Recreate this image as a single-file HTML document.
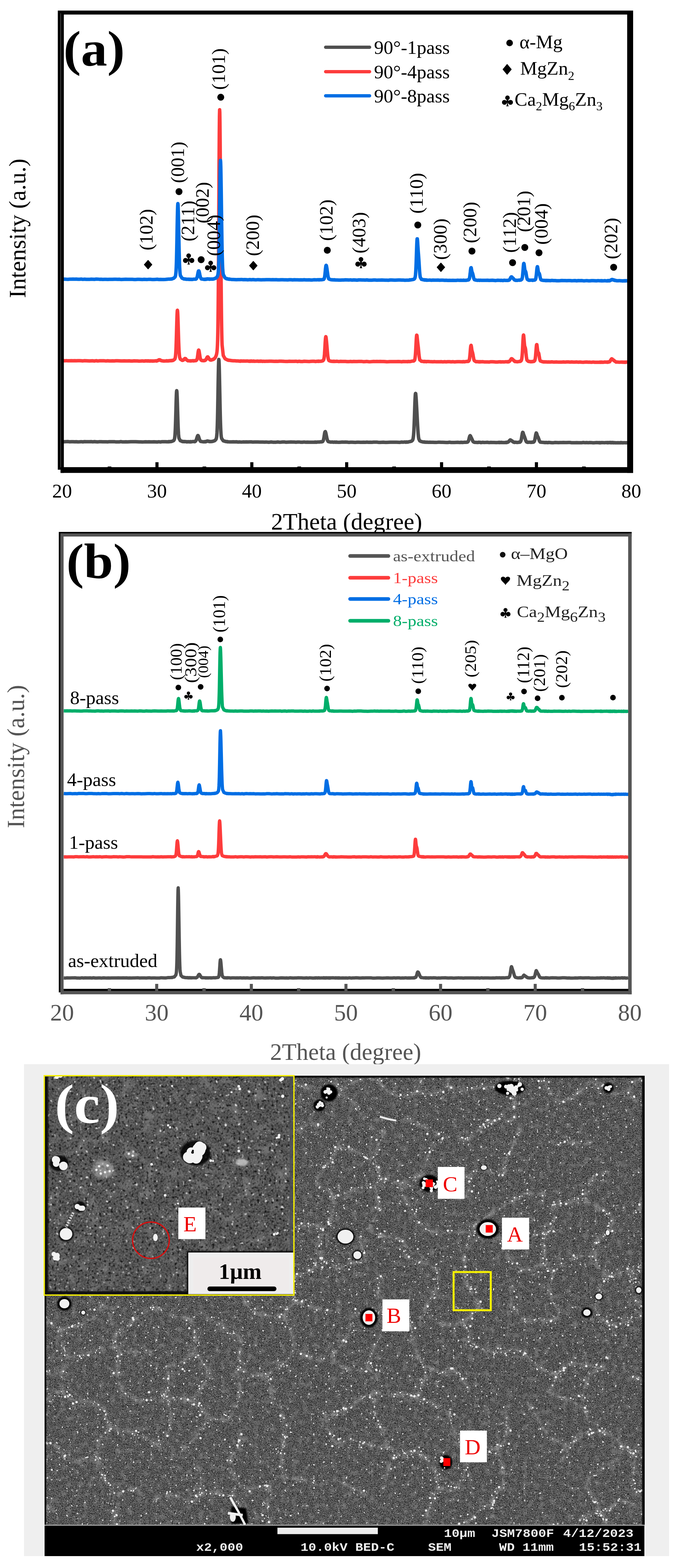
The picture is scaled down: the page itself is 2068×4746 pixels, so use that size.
<!DOCTYPE html><html><head><meta charset="utf-8"><style>html,body{margin:0;padding:0;background:#fff;}svg{display:block}</style></head><body><svg width="2068" height="4746" viewBox="0 0 2068 4746" font-family="Liberation Serif, serif">
<rect width="2068" height="4746" fill="#fff"/>
<path d="M186.0,1091.8 L191.0,1091.7 L196.0,1092.1 L201.0,1091.6 L206.0,1092.1 L211.0,1091.9 L216.0,1091.7 L221.0,1092.1 L226.0,1091.7 L231.0,1092.0 L236.0,1091.7 L241.0,1091.8 L246.0,1092.1 L251.0,1092.4 L256.0,1091.8 L261.0,1091.9 L266.0,1092.3 L271.0,1092.6 L276.0,1092.3 L281.0,1092.1 L286.0,1092.7 L291.0,1091.8 L296.0,1092.6 L301.0,1092.1 L306.0,1092.0 L311.0,1092.0 L316.0,1092.1 L321.0,1092.6 L326.0,1092.0 L331.0,1092.4 L336.0,1092.5 L341.0,1092.3 L346.0,1092.4 L351.0,1092.0 L356.0,1092.0 L361.0,1092.2 L366.0,1092.6 L371.0,1092.4 L376.0,1092.3 L381.0,1092.5 L386.0,1092.4 L391.0,1092.3 L396.0,1092.8 L401.0,1092.7 L406.0,1092.3 L411.0,1092.6 L416.0,1092.6 L421.0,1092.9 L426.0,1092.8 L431.0,1092.4 L436.0,1093.0 L441.0,1092.2 L446.0,1092.5 L447.0,1092.8 L448.0,1092.3 L449.0,1092.6 L450.0,1092.2 L451.0,1092.7 L452.0,1092.8 L453.0,1092.6 L454.0,1092.9 L455.0,1092.4 L456.0,1092.7 L457.0,1092.6 L458.0,1092.6 L459.0,1092.5 L460.0,1092.9 L461.0,1093.0 L462.0,1092.5 L466.0,1092.7 L471.0,1092.1 L472.5,1092.6 L473.0,1092.5 L473.5,1092.8 L474.0,1092.6 L474.5,1092.1 L475.0,1092.1 L475.5,1092.3 L476.0,1091.6 L476.5,1091.8 L477.0,1091.4 L477.5,1091.1 L478.0,1090.8 L478.5,1091.2 L479.0,1090.3 L479.5,1090.1 L480.0,1089.9 L480.5,1090.1 L481.0,1089.1 L481.5,1089.2 L482.0,1089.1 L482.5,1089.4 L483.0,1089.3 L483.5,1089.5 L484.0,1089.1 L484.5,1089.5 L485.0,1089.7 L485.5,1090.5 L486.0,1090.8 L486.5,1090.4 L487.0,1090.7 L487.5,1091.0 L488.0,1091.3 L488.5,1091.7 L489.0,1091.9 L489.5,1091.8 L490.0,1091.7 L490.5,1092.1 L491.0,1092.1 L491.5,1092.3 L496.0,1092.8 L501.0,1092.5 L502.0,1092.4 L503.0,1092.4 L504.0,1092.5 L505.0,1091.9 L506.0,1092.6 L507.0,1092.5 L508.0,1092.6 L509.0,1092.5 L510.0,1092.1 L510.6,1092.1 L511.0,1091.8 L511.6,1092.2 L512.0,1091.7 L512.6,1091.7 L513.0,1091.8 L513.6,1091.7 L514.0,1091.8 L514.6,1091.5 L515.0,1091.5 L515.6,1091.5 L516.0,1091.5 L516.6,1091.7 L517.0,1091.3 L517.6,1092.0 L518.0,1091.7 L518.6,1091.3 L519.0,1091.3 L519.6,1091.3 L520.0,1091.3 L520.6,1091.0 L521.0,1091.5 L524.0,1090.9 L525.0,1090.1 L526.0,1089.7 L527.0,1088.8 L528.0,1088.0 L529.0,1087.0 L529.1,1086.8 L529.6,1086.4 L530.0,1084.8 L530.1,1084.3 L530.6,1083.2 L531.0,1080.6 L531.1,1079.6 L531.6,1075.7 L532.0,1070.6 L532.1,1069.7 L532.6,1061.7 L533.0,1053.0 L533.1,1050.5 L533.6,1036.3 L534.0,1023.5 L534.1,1019.9 L534.6,1002.5 L535.0,987.4 L535.1,984.0 L535.6,966.3 L536.0,954.5 L536.1,952.5 L536.6,943.1 L537.0,939.4 L537.1,939.1 L537.6,941.0 L538.0,946.4 L538.1,947.8 L538.6,959.7 L539.0,971.1 L539.1,973.9 L539.6,990.3 L540.0,1004.0 L540.1,1007.3 L540.6,1023.7 L541.0,1035.7 L541.1,1038.0 L541.6,1050.9 L542.1,1061.1 L542.6,1069.0 L543.1,1074.4 L543.6,1078.7 L544.1,1081.8 L546.0,1087.1 L550.5,1089.9 L551.0,1090.4 L551.5,1090.7 L552.0,1090.7 L552.5,1090.4 L552.6,1090.6 L553.0,1090.7 L553.5,1090.0 L553.6,1090.5 L554.0,1090.6 L554.5,1090.3 L554.6,1090.2 L555.0,1089.8 L555.5,1089.2 L555.6,1089.6 L556.0,1088.9 L556.5,1088.8 L556.6,1088.9 L557.0,1088.0 L557.5,1087.4 L557.6,1087.8 L558.0,1087.1 L558.5,1086.1 L558.6,1086.0 L559.0,1085.6 L559.5,1085.9 L559.6,1085.8 L560.0,1085.0 L560.5,1085.5 L560.6,1085.7 L561.0,1085.4 L561.5,1085.4 L561.6,1085.6 L562.0,1085.5 L562.5,1085.8 L562.6,1086.8 L563.0,1086.9 L563.5,1087.4 L563.6,1087.9 L564.0,1087.9 L564.5,1088.9 L564.6,1089.0 L565.0,1088.9 L565.5,1089.4 L566.0,1089.9 L566.5,1090.3 L567.0,1090.9 L567.5,1090.9 L568.0,1091.3 L568.5,1091.2 L569.0,1092.1 L569.5,1091.7 L571.0,1092.0 L575.0,1092.3 L576.0,1092.6 L577.0,1092.1 L578.0,1092.6 L579.0,1092.2 L580.0,1092.3 L581.0,1092.2 L582.0,1091.8 L583.0,1092.1 L584.0,1091.9 L585.0,1091.7 L586.0,1092.4 L587.0,1091.8 L588.0,1092.0 L589.0,1092.1 L590.0,1091.9 L591.0,1091.6 L592.0,1091.6 L593.0,1091.4 L593.5,1091.5 L594.0,1090.7 L594.5,1090.8 L595.0,1090.1 L595.5,1089.5 L596.0,1089.0 L596.5,1087.5 L597.0,1085.7 L597.5,1083.6 L598.0,1080.7 L598.5,1076.8 L599.0,1073.2 L599.5,1069.1 L600.0,1065.5 L600.5,1062.6 L601.0,1060.4 L601.5,1059.6 L602.0,1059.9 L602.5,1061.8 L603.0,1063.9 L603.5,1067.0 L604.0,1070.4 L604.5,1073.3 L605.0,1076.9 L605.5,1080.4 L606.0,1083.0 L606.5,1084.6 L607.0,1086.3 L607.5,1088.0 L608.0,1088.7 L608.5,1089.6 L609.0,1089.9 L611.0,1091.3 L616.0,1091.7 L618.0,1091.7 L618.5,1091.0 L619.0,1091.5 L619.5,1091.3 L620.0,1090.7 L620.5,1091.2 L621.0,1091.1 L621.5,1090.1 L622.0,1090.4 L622.5,1089.5 L623.0,1089.0 L623.5,1088.8 L624.0,1087.9 L624.5,1086.4 L625.0,1085.7 L625.5,1084.8 L626.0,1083.6 L626.5,1082.5 L627.0,1081.8 L627.5,1081.5 L628.0,1080.4 L628.5,1080.6 L629.0,1080.5 L629.5,1080.3 L630.0,1081.0 L630.5,1081.9 L631.0,1082.5 L631.5,1083.0 L632.0,1084.7 L632.5,1085.4 L633.0,1086.4 L633.5,1086.4 L634.0,1087.2 L634.5,1087.6 L635.0,1088.7 L635.5,1088.6 L636.0,1088.8 L636.5,1089.3 L637.0,1089.8 L637.5,1089.8 L638.0,1089.4 L638.5,1089.3 L639.5,1089.9 L640.5,1089.4 L641.0,1089.4 L641.5,1088.8 L642.5,1088.5 L643.5,1088.7 L644.5,1088.1 L645.5,1087.3 L646.0,1087.8 L646.5,1087.3 L647.5,1086.8 L649.0,1085.0 L650.0,1084.7 L651.0,1082.8 L652.0,1082.0 L653.0,1079.8 L654.0,1077.4 L655.0,1074.7 L656.0,1071.0 L656.5,1067.7 L657.0,1064.1 L657.5,1059.7 L658.0,1052.7 L658.5,1042.8 L659.0,1028.3 L659.5,1006.9 L660.0,976.7 L660.5,934.9 L661.0,880.0 L661.5,811.8 L662.0,730.7 L662.5,642.1 L663.0,551.2 L663.5,467.2 L664.0,398.0 L664.5,351.9 L665.0,332.3 L665.5,340.8 L666.0,372.8 L666.5,424.1 L667.0,490.0 L667.5,564.8 L668.0,641.9 L668.5,719.3 L669.0,790.5 L669.5,854.2 L670.0,908.5 L670.5,952.1 L671.0,986.6 L671.5,1012.7 L672.0,1031.9 L672.5,1044.7 L676.0,1075.9 L681.0,1085.1 L681.5,1085.5 L682.5,1086.2 L683.5,1086.9 L684.5,1087.2 L685.5,1087.8 L686.0,1088.0 L686.5,1088.8 L687.5,1088.8 L688.5,1089.1 L689.5,1089.3 L690.5,1090.3 L691.0,1090.4 L691.5,1090.4 L692.5,1090.3 L696.0,1090.8 L701.0,1091.5 L706.0,1092.0 L711.0,1092.0 L716.0,1092.5 L721.0,1092.5 L725.0,1093.2 L726.0,1093.2 L727.0,1092.9 L728.0,1092.6 L729.0,1093.3 L730.0,1092.7 L731.0,1092.8 L732.0,1092.5 L733.0,1092.8 L734.0,1092.9 L735.0,1093.0 L736.0,1092.7 L737.0,1093.0 L738.0,1092.6 L739.0,1092.8 L740.0,1092.7 L741.0,1093.0 L746.0,1092.7 L751.0,1092.7 L751.5,1093.0 L752.0,1092.9 L752.5,1093.2 L753.0,1093.2 L753.5,1093.4 L754.0,1093.3 L754.5,1093.4 L755.0,1093.5 L755.5,1093.1 L756.0,1093.0 L756.5,1093.6 L757.0,1092.8 L757.5,1093.3 L758.0,1093.2 L758.5,1092.7 L759.0,1093.4 L759.5,1093.4 L760.0,1093.1 L760.5,1093.2 L761.0,1093.3 L761.5,1092.7 L762.0,1093.0 L762.5,1093.0 L763.0,1093.3 L763.5,1093.3 L764.0,1093.4 L764.5,1093.2 L765.0,1093.5 L765.5,1093.3 L766.0,1093.3 L766.5,1092.9 L767.0,1092.8 L767.5,1092.9 L768.0,1093.1 L768.5,1092.9 L769.0,1093.6 L769.5,1093.3 L770.0,1093.4 L770.5,1093.4 L771.0,1093.5 L776.0,1093.3 L781.0,1092.9 L782.0,1093.7 L783.0,1093.6 L784.0,1093.4 L785.0,1093.4 L786.0,1093.5 L787.0,1093.0 L788.0,1093.6 L789.0,1093.2 L790.0,1093.0 L791.0,1093.2 L792.0,1093.6 L793.0,1093.2 L794.0,1093.7 L795.0,1093.9 L796.0,1093.4 L797.0,1093.4 L798.0,1093.4 L799.0,1093.6 L801.0,1093.7 L806.0,1093.6 L811.0,1093.6 L816.0,1093.2 L821.0,1093.2 L826.0,1093.4 L831.0,1093.8 L836.0,1093.4 L841.0,1093.7 L846.0,1093.2 L851.0,1093.3 L856.0,1093.5 L861.0,1093.8 L866.0,1093.9 L871.0,1093.9 L876.0,1093.5 L881.0,1093.8 L886.0,1093.7 L891.0,1093.7 L896.0,1093.4 L901.0,1094.2 L906.0,1093.5 L911.0,1094.2 L916.0,1094.2 L921.0,1093.4 L926.0,1093.8 L931.0,1094.1 L936.0,1094.3 L941.0,1093.8 L946.0,1093.6 L951.0,1093.5 L956.0,1094.2 L960.0,1093.4 L961.0,1093.7 L962.0,1093.3 L963.0,1093.6 L964.0,1094.0 L965.0,1093.2 L966.0,1093.8 L967.0,1093.5 L971.0,1093.5 L976.0,1092.5 L977.0,1091.7 L977.5,1092.1 L978.0,1091.4 L978.5,1090.6 L979.0,1090.1 L979.5,1089.9 L980.0,1088.8 L980.5,1087.1 L981.0,1084.8 L981.5,1081.8 L982.0,1077.4 L982.5,1072.2 L983.0,1064.4 L983.5,1056.9 L984.0,1048.0 L984.5,1038.5 L985.0,1031.2 L985.5,1024.7 L986.0,1020.9 L986.5,1019.0 L987.0,1020.2 L987.5,1023.3 L988.0,1028.2 L988.5,1032.9 L989.0,1038.2 L989.5,1044.0 L990.0,1049.8 L990.5,1055.5 L991.0,1061.5 L991.5,1067.8 L992.0,1072.5 L992.5,1077.7 L993.0,1080.9 L993.5,1084.0 L994.0,1086.5 L994.5,1088.0 L995.0,1089.4 L996.0,1091.4 L1001.0,1093.3 L1005.0,1093.7 L1006.0,1093.6 L1007.0,1093.9 L1008.0,1094.0 L1009.0,1093.7 L1010.0,1093.9 L1011.0,1093.3 L1012.0,1094.0 L1013.0,1093.8 L1014.0,1094.1 L1015.0,1094.0 L1016.0,1093.7 L1021.0,1093.6 L1026.0,1094.4 L1031.0,1093.7 L1036.0,1094.1 L1041.0,1094.0 L1046.0,1094.0 L1051.0,1094.4 L1056.0,1094.6 L1061.0,1094.0 L1066.0,1094.4 L1071.0,1094.1 L1076.0,1094.3 L1081.0,1094.2 L1086.0,1094.0 L1091.0,1094.0 L1096.0,1094.1 L1101.0,1094.7 L1106.0,1094.4 L1111.0,1094.1 L1116.0,1094.8 L1121.0,1094.9 L1126.0,1094.4 L1131.0,1094.1 L1136.0,1094.2 L1141.0,1094.1 L1146.0,1094.3 L1151.0,1094.1 L1156.0,1094.3 L1161.0,1094.3 L1166.0,1094.6 L1171.0,1094.9 L1176.0,1094.8 L1181.0,1094.5 L1186.0,1094.5 L1191.0,1094.6 L1196.0,1094.5 L1201.0,1094.4 L1206.0,1094.2 L1211.0,1094.4 L1216.0,1095.0 L1221.0,1094.2 L1226.0,1094.5 L1231.0,1094.6 L1235.6,1094.7 L1236.0,1094.1 L1236.6,1094.2 L1237.6,1094.1 L1238.6,1094.2 L1239.6,1094.2 L1240.6,1094.6 L1241.0,1094.5 L1241.6,1094.5 L1246.0,1093.4 L1251.0,1092.6 L1252.1,1092.8 L1252.6,1092.8 L1253.1,1092.1 L1253.6,1091.9 L1254.1,1091.0 L1254.6,1090.8 L1255.1,1090.5 L1255.6,1089.2 L1256.0,1087.9 L1256.1,1087.6 L1256.6,1084.5 L1257.1,1080.7 L1257.6,1075.8 L1258.1,1069.7 L1258.6,1062.0 L1259.1,1053.0 L1259.6,1043.0 L1260.1,1033.3 L1260.6,1024.9 L1261.0,1019.3 L1261.1,1018.3 L1261.6,1014.4 L1262.1,1014.7 L1262.6,1016.5 L1263.1,1021.3 L1263.6,1026.2 L1264.1,1031.1 L1264.6,1035.8 L1265.1,1040.2 L1265.6,1044.6 L1266.0,1048.0 L1266.1,1048.3 L1266.6,1052.7 L1267.1,1058.0 L1267.6,1063.3 L1268.1,1068.4 L1268.6,1073.3 L1269.1,1078.1 L1269.6,1081.4 L1270.1,1084.7 L1270.6,1087.2 L1271.0,1089.1 L1271.1,1089.1 L1276.0,1093.6 L1281.0,1094.0 L1281.6,1093.9 L1282.6,1094.0 L1283.6,1094.7 L1284.6,1094.5 L1285.6,1094.2 L1286.0,1093.9 L1286.6,1094.4 L1287.6,1094.6 L1288.6,1094.4 L1289.6,1094.3 L1290.6,1094.7 L1291.0,1094.9 L1291.6,1094.3 L1296.0,1094.2 L1301.0,1094.6 L1306.0,1094.7 L1311.0,1095.0 L1316.0,1094.6 L1321.0,1095.1 L1326.0,1095.1 L1331.0,1094.9 L1336.0,1094.7 L1341.0,1095.4 L1346.0,1094.8 L1351.0,1095.3 L1356.0,1094.7 L1361.0,1094.7 L1366.0,1095.2 L1371.0,1094.8 L1376.0,1095.4 L1381.0,1095.0 L1386.0,1094.7 L1391.0,1094.8 L1396.0,1094.9 L1400.0,1095.1 L1401.0,1095.3 L1402.0,1094.6 L1403.0,1094.8 L1404.0,1094.6 L1406.0,1095.2 L1411.0,1094.3 L1415.5,1093.7 L1416.0,1093.6 L1416.5,1093.7 L1417.0,1094.1 L1417.5,1093.9 L1418.0,1093.6 L1418.5,1093.5 L1419.0,1093.1 L1419.5,1092.1 L1420.0,1091.2 L1420.5,1090.8 L1421.0,1089.0 L1421.5,1086.1 L1422.0,1083.6 L1422.5,1079.2 L1423.0,1074.2 L1423.5,1068.4 L1424.0,1062.0 L1424.5,1055.8 L1425.0,1050.8 L1425.5,1047.1 L1426.0,1045.8 L1426.5,1045.2 L1427.0,1047.9 L1427.5,1050.4 L1428.0,1054.1 L1428.5,1058.0 L1429.0,1061.0 L1429.5,1062.9 L1430.0,1064.4 L1430.5,1066.3 L1431.0,1067.9 L1431.5,1070.5 L1432.0,1072.4 L1432.5,1075.5 L1433.0,1079.1 L1433.5,1081.3 L1434.0,1084.5 L1434.5,1087.2 L1435.0,1089.1 L1435.5,1090.0 L1436.0,1091.1 L1436.5,1091.9 L1441.0,1094.7 L1446.0,1094.6 L1448.0,1095.1 L1449.0,1095.3 L1450.0,1094.8 L1451.0,1094.8 L1452.0,1095.4 L1453.0,1095.1 L1454.0,1094.8 L1455.0,1095.3 L1456.0,1094.9 L1457.0,1094.9 L1461.0,1094.7 L1466.0,1095.4 L1471.0,1095.6 L1476.0,1095.4 L1481.0,1095.7 L1486.0,1094.9 L1491.0,1095.1 L1496.0,1095.3 L1501.0,1095.7 L1506.0,1095.8 L1511.0,1095.2 L1512.5,1095.1 L1513.5,1095.3 L1514.5,1095.3 L1515.5,1095.7 L1516.0,1095.1 L1516.5,1095.6 L1517.5,1095.6 L1518.5,1095.6 L1519.5,1095.6 L1520.5,1095.4 L1521.0,1095.2 L1521.5,1095.2 L1522.5,1095.2 L1526.0,1095.6 L1531.0,1094.9 L1536.0,1094.9 L1536.5,1095.3 L1537.0,1094.9 L1537.5,1094.7 L1538.0,1094.6 L1538.5,1095.0 L1539.0,1094.8 L1539.5,1095.3 L1540.0,1095.1 L1540.5,1095.1 L1541.0,1094.3 L1541.5,1093.9 L1542.0,1093.7 L1542.5,1093.7 L1543.0,1093.5 L1543.5,1092.8 L1544.0,1092.0 L1544.5,1091.4 L1545.0,1090.9 L1545.5,1090.1 L1546.0,1089.3 L1546.5,1088.6 L1547.0,1087.7 L1547.5,1086.6 L1548.0,1086.7 L1548.5,1085.9 L1549.0,1086.1 L1549.5,1085.9 L1550.0,1086.5 L1550.5,1086.3 L1551.0,1086.7 L1551.5,1087.1 L1552.0,1087.5 L1552.5,1088.6 L1553.0,1088.8 L1553.5,1089.0 L1554.0,1089.5 L1554.5,1090.5 L1555.0,1090.5 L1555.5,1090.8 L1556.0,1091.8 L1556.5,1092.1 L1557.0,1092.9 L1557.5,1092.5 L1558.0,1093.2 L1558.5,1093.8 L1559.0,1094.1 L1559.5,1094.4 L1560.0,1093.8 L1560.5,1094.2 L1561.0,1094.2 L1562.0,1094.4 L1566.0,1095.1 L1571.0,1094.4 L1574.0,1094.1 L1574.5,1093.5 L1575.0,1093.8 L1575.5,1093.2 L1576.0,1092.8 L1576.5,1093.0 L1577.0,1092.9 L1577.5,1091.7 L1578.0,1091.6 L1578.5,1090.8 L1579.0,1089.2 L1579.5,1087.5 L1580.0,1084.7 L1580.5,1080.9 L1581.0,1075.8 L1581.5,1069.4 L1582.0,1061.1 L1582.5,1051.2 L1583.0,1040.8 L1583.5,1031.2 L1584.0,1023.0 L1584.5,1016.6 L1585.0,1014.0 L1585.5,1014.8 L1586.0,1019.2 L1586.5,1024.9 L1587.0,1031.3 L1587.5,1037.7 L1588.0,1043.2 L1588.5,1047.1 L1589.0,1049.4 L1589.5,1050.2 L1590.0,1051.3 L1590.5,1053.3 L1591.0,1055.4 L1591.5,1058.7 L1592.0,1063.1 L1592.5,1068.5 L1593.0,1072.8 L1593.5,1077.6 L1594.0,1081.5 L1594.5,1084.8 L1595.0,1087.7 L1595.5,1089.8 L1596.0,1090.5 L1599.0,1093.2 L1600.0,1094.0 L1601.0,1093.7 L1602.0,1093.7 L1606.0,1094.9 L1608.0,1094.5 L1609.0,1094.9 L1610.0,1094.5 L1611.0,1094.9 L1612.0,1094.4 L1613.0,1094.1 L1614.0,1093.8 L1614.5,1094.2 L1615.0,1094.2 L1615.5,1094.3 L1616.0,1093.5 L1616.5,1093.8 L1617.0,1093.4 L1617.5,1093.2 L1618.0,1092.5 L1618.5,1092.1 L1619.0,1091.5 L1619.5,1090.7 L1620.0,1088.3 L1620.5,1086.2 L1621.0,1083.1 L1621.5,1078.9 L1622.0,1072.8 L1622.5,1066.5 L1623.0,1060.6 L1623.5,1054.2 L1624.0,1048.2 L1624.5,1044.0 L1625.0,1043.1 L1625.5,1043.2 L1626.0,1046.3 L1626.5,1050.1 L1627.0,1054.8 L1627.5,1058.6 L1628.0,1062.6 L1628.5,1064.6 L1629.0,1066.2 L1629.5,1067.3 L1630.0,1067.7 L1630.5,1067.8 L1631.0,1069.0 L1631.5,1071.2 L1632.0,1073.9 L1632.5,1076.8 L1633.0,1079.8 L1633.5,1082.9 L1634.0,1086.1 L1634.5,1088.5 L1635.0,1089.6 L1635.5,1091.4 L1636.0,1092.6 L1641.0,1094.4 L1646.0,1095.5 L1648.0,1095.0 L1649.0,1095.5 L1650.0,1095.5 L1651.0,1095.6 L1652.0,1095.3 L1653.0,1095.4 L1654.0,1095.6 L1655.0,1095.5 L1656.0,1095.7 L1661.0,1095.6 L1666.0,1095.7 L1671.0,1095.3 L1676.0,1095.9 L1681.0,1095.8 L1686.0,1095.6 L1691.0,1096.1 L1696.0,1096.1 L1701.0,1095.9 L1706.0,1095.6 L1711.0,1095.9 L1716.0,1095.6 L1721.0,1095.6 L1726.0,1095.9 L1731.0,1095.6 L1736.0,1096.0 L1741.0,1096.0 L1746.0,1095.6 L1751.0,1096.2 L1756.0,1095.7 L1761.0,1096.3 L1766.0,1096.4 L1771.0,1096.1 L1776.0,1095.7 L1781.0,1096.2 L1786.0,1096.1 L1791.0,1096.6 L1796.0,1095.9 L1801.0,1096.5 L1806.0,1096.6 L1811.0,1096.4 L1816.0,1096.5 L1817.0,1095.9 L1818.0,1096.6 L1819.0,1096.2 L1820.0,1096.6 L1821.0,1096.6 L1822.0,1095.9 L1823.0,1096.5 L1826.0,1096.6 L1831.0,1095.8 L1836.0,1096.0 L1838.0,1096.3 L1838.5,1095.8 L1839.0,1096.4 L1839.5,1095.8 L1840.0,1096.3 L1840.5,1095.7 L1841.0,1096.0 L1841.5,1096.3 L1842.0,1095.6 L1842.5,1095.6 L1843.0,1095.8 L1843.5,1095.5 L1844.0,1095.1 L1844.5,1095.1 L1845.0,1094.8 L1845.5,1095.3 L1846.0,1094.6 L1846.5,1094.4 L1847.0,1093.1 L1847.5,1093.0 L1848.0,1091.6 L1848.5,1091.2 L1849.0,1090.4 L1849.5,1089.2 L1850.0,1088.8 L1850.5,1087.7 L1851.0,1087.1 L1851.5,1086.9 L1852.0,1085.9 L1852.5,1086.7 L1853.0,1086.5 L1853.5,1086.7 L1854.0,1087.5 L1854.5,1087.5 L1855.0,1088.7 L1855.5,1088.8 L1856.0,1089.0 L1856.5,1089.8 L1857.0,1089.8 L1857.5,1089.9 L1858.0,1090.6 L1858.5,1090.3 L1859.0,1091.3 L1859.5,1091.2 L1860.0,1091.9 L1860.5,1092.7 L1861.0,1092.8 L1861.5,1093.3 L1862.0,1093.5 L1862.5,1093.6 L1863.0,1094.0 L1863.5,1094.5 L1864.0,1095.2 L1864.5,1095.3 L1865.0,1095.5 L1865.5,1096.0 L1866.0,1095.5 L1871.0,1095.9 L1876.0,1096.4 L1881.0,1095.9 L1882.0,1095.9 L1883.0,1096.2 L1884.0,1096.0 L1885.0,1096.2 L1886.0,1096.1 L1887.0,1096.5 L1888.0,1096.5 L1889.0,1096.1 L1890.0,1096.5 L1891.0,1096.4 L1892.0,1096.1 L1893.0,1096.8 L1894.0,1096.2 L1896.0,1096.1 L1901.0,1096.1 L1903.0,1096.6" fill="none" stroke="#fd3c3c" stroke-width="10.5" stroke-linejoin="round" stroke-linecap="butt"/>
<path d="M186.0,1337.3 L191.0,1337.3 L196.0,1336.9 L201.0,1336.8 L206.0,1336.6 L211.0,1337.2 L216.0,1337.1 L221.0,1336.9 L226.0,1337.2 L231.0,1337.0 L236.0,1337.5 L241.0,1337.3 L246.0,1336.9 L251.0,1337.5 L256.0,1336.7 L261.0,1337.1 L266.0,1337.0 L271.0,1336.9 L276.0,1336.7 L281.0,1337.4 L286.0,1336.7 L291.0,1337.2 L296.0,1337.6 L301.0,1336.9 L306.0,1336.9 L311.0,1337.3 L316.0,1337.2 L321.0,1337.3 L326.0,1337.5 L331.0,1336.9 L336.0,1337.1 L341.0,1337.1 L346.0,1336.9 L351.0,1337.6 L356.0,1337.5 L361.0,1337.5 L366.0,1336.8 L371.0,1337.6 L376.0,1337.5 L381.0,1337.3 L386.0,1337.5 L391.0,1337.3 L396.0,1337.1 L401.0,1337.0 L406.0,1337.1 L411.0,1336.9 L416.0,1337.2 L421.0,1337.6 L426.0,1337.5 L431.0,1337.7 L436.0,1337.6 L441.0,1337.2 L446.0,1337.4 L451.0,1337.3 L456.0,1337.6 L461.0,1337.4 L466.0,1337.2 L471.0,1337.5 L476.0,1337.8 L481.0,1337.1 L486.0,1337.7 L491.0,1336.9 L496.0,1337.0 L501.0,1336.9 L506.0,1337.3 L508.5,1337.3 L509.5,1337.1 L510.5,1336.7 L511.0,1337.2 L511.5,1336.6 L512.5,1336.5 L513.5,1337.0 L514.5,1336.7 L515.5,1336.7 L516.0,1336.6 L516.5,1336.8 L517.5,1336.2 L518.5,1336.4 L521.0,1335.7 L526.0,1333.4 L527.0,1331.7 L527.5,1331.0 L528.0,1329.6 L528.5,1327.4 L529.0,1324.4 L529.5,1320.5 L530.0,1313.9 L530.5,1306.2 L531.0,1294.4 L531.5,1280.4 L532.0,1264.0 L532.5,1246.6 L533.0,1227.4 L533.5,1209.9 L534.0,1195.4 L534.5,1185.8 L535.0,1182.4 L535.5,1184.4 L536.0,1191.8 L536.5,1203.5 L537.0,1217.8 L537.5,1234.8 L538.0,1251.6 L538.5,1268.2 L539.0,1282.8 L539.5,1295.4 L540.0,1304.9 L540.5,1313.6 L541.0,1319.7 L541.5,1324.1 L542.0,1326.5 L546.0,1333.9 L550.5,1335.5 L551.0,1335.5 L551.5,1336.3 L552.5,1336.5 L553.5,1336.4 L554.5,1336.7 L555.5,1336.7 L556.0,1336.4 L556.5,1336.3 L557.5,1336.3 L558.5,1337.0 L559.5,1336.6 L560.5,1336.7 L561.0,1336.8 L561.5,1336.5 L562.5,1336.7 L562.6,1336.8 L563.6,1337.2 L564.6,1336.9 L565.6,1336.9 L566.0,1337.5 L566.6,1337.1 L567.6,1337.4 L568.6,1337.2 L569.6,1336.7 L570.6,1337.1 L571.0,1337.1 L571.6,1337.4 L572.6,1337.0 L573.6,1337.4 L574.6,1337.2 L575.6,1336.9 L576.0,1337.5 L576.6,1336.8 L577.6,1337.5 L581.0,1336.8 L586.0,1336.5 L588.6,1336.4 L589.1,1336.9 L589.6,1336.9 L590.1,1335.9 L590.6,1336.1 L591.0,1335.9 L591.1,1336.2 L591.6,1335.3 L592.0,1335.2 L592.1,1334.9 L592.6,1334.8 L593.0,1333.7 L593.1,1334.1 L593.6,1332.6 L594.0,1331.6 L594.1,1331.8 L594.6,1330.3 L595.0,1328.8 L595.1,1329.0 L595.6,1326.9 L596.0,1326.2 L596.1,1325.7 L596.6,1324.1 L597.0,1322.7 L597.1,1322.2 L597.6,1320.8 L598.0,1319.9 L598.1,1320.1 L598.6,1318.6 L599.0,1319.0 L599.1,1318.2 L599.6,1318.4 L600.0,1318.8 L600.1,1319.5 L600.6,1320.0 L601.0,1320.7 L601.1,1321.4 L601.6,1322.3 L602.0,1323.7 L602.1,1324.1 L602.6,1325.9 L603.0,1327.2 L603.1,1327.4 L603.6,1328.7 L604.0,1329.8 L604.1,1329.9 L604.6,1331.8 L605.0,1332.5 L605.1,1332.8 L605.6,1333.2 L606.0,1334.1 L606.1,1334.5 L606.6,1335.0 L607.0,1334.9 L607.1,1335.3 L607.6,1336.1 L608.1,1335.8 L608.6,1336.0 L611.0,1336.6 L616.0,1337.2 L618.0,1337.3 L618.5,1336.7 L619.0,1336.7 L619.5,1336.8 L619.6,1336.8 L620.0,1337.0 L620.5,1336.7 L620.6,1336.8 L621.0,1336.6 L621.5,1337.3 L621.6,1337.1 L622.0,1336.5 L622.5,1337.2 L622.6,1336.4 L623.0,1336.5 L623.5,1337.0 L623.6,1336.8 L624.0,1336.6 L624.5,1336.2 L624.6,1335.9 L625.0,1336.2 L625.5,1335.5 L625.6,1335.6 L626.0,1335.6 L626.5,1335.1 L626.6,1335.4 L627.0,1335.6 L627.5,1335.4 L627.6,1335.2 L628.0,1335.3 L628.5,1335.1 L628.6,1334.8 L629.0,1335.2 L629.5,1335.1 L629.6,1335.4 L630.0,1335.6 L630.5,1335.2 L630.6,1335.4 L631.0,1335.7 L631.5,1335.5 L631.6,1335.4 L632.0,1335.9 L632.5,1336.2 L632.6,1336.1 L633.0,1336.2 L633.5,1336.4 L633.6,1336.3 L634.0,1336.3 L634.5,1336.3 L634.6,1336.2 L635.0,1336.5 L635.5,1336.1 L635.6,1336.4 L636.0,1336.7 L636.5,1336.7 L636.6,1336.6 L637.0,1336.3 L637.5,1336.4 L638.0,1336.4 L639.0,1336.5 L640.0,1336.2 L641.0,1336.4 L642.0,1336.5 L643.0,1335.7 L644.0,1335.9 L645.0,1335.8 L646.0,1335.2 L649.0,1334.2 L650.0,1334.1 L651.0,1332.6 L652.0,1332.2 L653.0,1330.8 L654.0,1329.7 L654.5,1328.7 L655.0,1326.8 L655.5,1324.2 L656.0,1321.4 L656.5,1316.6 L657.0,1309.8 L657.5,1299.7 L658.0,1286.1 L658.5,1268.2 L659.0,1245.5 L659.5,1218.9 L660.0,1190.3 L660.5,1159.9 L661.0,1132.7 L661.5,1109.8 L662.0,1095.0 L662.5,1088.0 L663.0,1091.4 L663.5,1101.4 L664.0,1118.1 L664.5,1139.9 L665.0,1164.4 L665.5,1189.7 L666.0,1215.2 L666.5,1238.7 L667.0,1259.8 L667.5,1277.2 L668.0,1291.5 L668.5,1302.7 L669.0,1311.6 L669.5,1318.0 L670.0,1322.0 L671.0,1327.0 L676.0,1334.2 L679.0,1335.1 L680.0,1335.3 L681.0,1335.4 L682.0,1336.2 L683.0,1336.4 L684.0,1336.4 L685.0,1336.4 L686.0,1336.6 L687.0,1336.4 L688.0,1337.2 L689.0,1336.7 L690.0,1337.0 L691.0,1337.3 L696.0,1337.5 L701.0,1337.4 L706.0,1337.3 L711.0,1337.6 L716.0,1337.3 L721.0,1338.0 L726.0,1337.6 L731.0,1338.1 L736.0,1337.6 L741.0,1337.7 L746.0,1337.6 L751.0,1337.8 L756.0,1337.6 L761.0,1337.5 L766.0,1338.1 L771.0,1337.7 L776.0,1337.7 L781.0,1337.8 L786.0,1338.0 L791.0,1337.9 L796.0,1338.1 L801.0,1338.2 L806.0,1337.9 L811.0,1338.4 L816.0,1338.4 L821.0,1337.7 L826.0,1338.4 L831.0,1338.5 L836.0,1338.4 L841.0,1337.8 L846.0,1338.4 L851.0,1338.2 L856.0,1337.7 L861.0,1337.7 L866.0,1338.6 L871.0,1338.3 L876.0,1337.9 L881.0,1337.8 L886.0,1337.9 L891.0,1338.0 L896.0,1338.5 L901.0,1338.1 L906.0,1337.9 L911.0,1338.6 L916.0,1338.5 L921.0,1337.9 L926.0,1338.6 L931.0,1338.3 L936.0,1338.5 L941.0,1338.4 L946.0,1338.6 L951.0,1338.5 L953.0,1338.5 L954.0,1337.9 L955.0,1338.4 L956.0,1338.2 L957.0,1338.4 L958.0,1338.1 L959.0,1338.5 L960.0,1338.2 L961.0,1337.9 L962.0,1337.9 L963.0,1337.8 L966.0,1338.0 L971.0,1337.3 L974.0,1337.4 L974.5,1337.0 L975.0,1337.2 L975.5,1337.0 L976.0,1336.8 L976.5,1336.8 L977.0,1335.7 L977.5,1335.9 L978.0,1334.8 L978.5,1333.9 L979.0,1332.6 L979.5,1331.0 L980.0,1328.4 L980.5,1325.9 L981.0,1323.5 L981.5,1319.6 L982.0,1316.8 L982.5,1313.7 L983.0,1310.3 L983.5,1308.6 L984.0,1307.2 L984.5,1306.7 L985.0,1306.2 L985.5,1307.6 L986.0,1308.6 L986.5,1310.4 L987.0,1312.9 L987.5,1314.5 L988.0,1317.7 L988.5,1320.2 L989.0,1322.4 L989.5,1325.3 L990.0,1327.1 L990.5,1329.2 L991.0,1331.0 L991.5,1332.7 L992.0,1333.5 L992.5,1334.6 L993.0,1335.4 L993.5,1336.1 L994.0,1336.7 L996.0,1337.1 L1001.0,1338.2 L1005.0,1338.0 L1006.0,1338.1 L1007.0,1337.9 L1008.0,1338.2 L1009.0,1338.6 L1010.0,1338.4 L1011.0,1338.5 L1012.0,1338.1 L1013.0,1338.1 L1014.0,1338.1 L1015.0,1338.4 L1016.0,1338.4 L1017.0,1338.6 L1018.0,1337.9 L1021.0,1338.5 L1026.0,1338.7 L1031.0,1338.4 L1036.0,1338.0 L1041.0,1338.3 L1046.0,1338.0 L1051.0,1338.2 L1056.0,1338.9 L1061.0,1338.6 L1066.0,1338.6 L1071.0,1338.8 L1076.0,1338.9 L1081.0,1338.6 L1086.0,1338.6 L1091.0,1338.7 L1096.0,1338.7 L1101.0,1338.6 L1106.0,1338.7 L1111.0,1338.3 L1116.0,1338.7 L1121.0,1338.5 L1126.0,1338.8 L1131.0,1338.2 L1136.0,1338.3 L1141.0,1338.2 L1146.0,1338.9 L1151.0,1339.0 L1156.0,1338.8 L1161.0,1338.5 L1166.0,1338.9 L1171.0,1338.9 L1176.0,1338.7 L1181.0,1338.4 L1186.0,1338.4 L1191.0,1338.5 L1196.0,1338.4 L1201.0,1338.5 L1206.0,1338.7 L1211.0,1338.9 L1216.0,1338.0 L1221.0,1338.4 L1226.0,1337.8 L1226.7,1337.9 L1227.7,1338.5 L1228.7,1338.2 L1229.7,1338.5 L1230.7,1338.0 L1231.0,1337.6 L1231.7,1337.9 L1232.7,1338.0 L1233.7,1338.2 L1234.7,1338.2 L1235.7,1337.7 L1236.0,1337.6 L1241.0,1336.6 L1246.0,1335.4 L1247.2,1334.3 L1247.7,1333.8 L1248.2,1333.2 L1248.7,1332.6 L1249.2,1332.5 L1249.7,1331.0 L1250.2,1330.3 L1250.7,1327.6 L1251.0,1326.9 L1251.2,1325.0 L1251.7,1321.2 L1252.2,1316.9 L1252.7,1309.9 L1253.2,1301.9 L1253.7,1291.0 L1254.2,1278.6 L1254.7,1265.4 L1255.2,1250.4 L1255.7,1235.4 L1256.0,1226.5 L1256.2,1220.4 L1256.7,1208.4 L1257.2,1198.8 L1257.7,1192.5 L1258.2,1190.7 L1258.7,1191.3 L1259.2,1196.2 L1259.7,1202.3 L1260.2,1209.4 L1260.7,1217.8 L1261.0,1223.7 L1261.2,1227.4 L1261.7,1235.7 L1262.2,1245.1 L1262.7,1255.0 L1263.2,1264.0 L1263.7,1274.2 L1264.2,1283.2 L1264.7,1291.7 L1265.2,1300.1 L1265.7,1307.5 L1266.0,1311.2 L1266.2,1313.8 L1266.7,1318.4 L1267.2,1323.1 L1267.7,1326.0 L1268.2,1328.7 L1271.0,1334.5 L1276.0,1336.6 L1279.7,1337.3 L1280.7,1337.8 L1281.0,1338.0 L1281.7,1337.9 L1282.7,1337.8 L1283.7,1337.7 L1284.7,1337.6 L1285.7,1338.4 L1286.0,1338.2 L1286.7,1338.4 L1287.7,1338.0 L1288.7,1338.3 L1289.7,1338.7 L1290.7,1338.6 L1291.0,1338.4 L1291.7,1338.2 L1292.7,1338.3 L1296.0,1338.8 L1301.0,1338.5 L1306.0,1338.8 L1311.0,1338.8 L1316.0,1339.1 L1321.0,1339.1 L1326.0,1338.6 L1331.0,1338.4 L1336.0,1338.7 L1341.0,1338.8 L1346.0,1339.0 L1351.0,1339.2 L1356.0,1339.3 L1361.0,1338.5 L1366.0,1339.3 L1371.0,1339.3 L1376.0,1339.3 L1381.0,1339.1 L1386.0,1338.8 L1391.0,1339.3 L1392.0,1339.3 L1393.0,1339.1 L1394.0,1339.3 L1395.0,1338.8 L1396.0,1338.6 L1397.0,1339.0 L1398.0,1339.2 L1399.0,1338.7 L1400.0,1339.2 L1401.0,1339.3 L1406.0,1338.6 L1411.0,1338.7 L1412.0,1338.7 L1412.5,1338.5 L1413.0,1338.2 L1413.5,1338.2 L1414.0,1338.5 L1414.5,1338.5 L1415.0,1338.0 L1415.5,1337.5 L1416.0,1337.9 L1416.5,1337.5 L1417.0,1336.5 L1417.5,1336.1 L1418.0,1335.4 L1418.5,1334.2 L1419.0,1332.5 L1419.5,1330.7 L1420.0,1328.9 L1420.5,1326.4 L1421.0,1324.4 L1421.5,1322.4 L1422.0,1321.2 L1422.5,1319.6 L1423.0,1319.1 L1423.5,1318.7 L1424.0,1319.1 L1424.5,1319.5 L1425.0,1320.4 L1425.5,1322.3 L1426.0,1322.8 L1426.5,1323.7 L1427.0,1325.2 L1427.5,1326.3 L1428.0,1326.7 L1428.5,1328.2 L1429.0,1329.1 L1429.5,1330.4 L1430.0,1331.1 L1430.5,1332.3 L1431.0,1334.2 L1431.5,1335.1 L1432.0,1335.6 L1432.5,1336.4 L1433.0,1336.7 L1433.5,1337.6 L1434.0,1337.6 L1436.0,1338.8 L1441.0,1339.1 L1446.0,1339.3 L1447.0,1339.4 L1448.0,1338.8 L1449.0,1338.6 L1450.0,1338.8 L1451.0,1338.8 L1452.0,1338.7 L1453.0,1338.7 L1454.0,1339.1 L1455.0,1339.4 L1456.0,1339.1 L1457.0,1339.5 L1458.0,1339.5 L1461.0,1338.7 L1466.0,1339.2 L1471.0,1339.1 L1476.0,1338.8 L1481.0,1339.6 L1486.0,1339.0 L1491.0,1339.3 L1496.0,1339.3 L1501.0,1339.6 L1506.0,1339.4 L1508.6,1339.1 L1509.6,1339.2 L1510.6,1338.9 L1511.0,1339.6 L1511.6,1339.7 L1512.6,1339.0 L1513.6,1338.8 L1514.6,1339.0 L1515.6,1339.1 L1516.0,1339.6 L1516.6,1339.6 L1517.6,1339.5 L1518.6,1338.8 L1521.0,1339.5 L1526.0,1339.4 L1531.0,1339.2 L1532.1,1339.5 L1532.6,1338.6 L1533.1,1338.7 L1533.6,1339.2 L1534.1,1339.4 L1534.6,1339.1 L1535.1,1338.7 L1535.6,1338.9 L1536.0,1339.0 L1536.1,1338.4 L1536.6,1338.5 L1537.1,1338.4 L1537.6,1338.1 L1538.1,1338.2 L1538.6,1337.7 L1539.1,1337.4 L1539.6,1336.9 L1540.1,1336.9 L1540.6,1335.8 L1541.0,1335.9 L1541.1,1335.3 L1541.6,1334.5 L1542.1,1334.7 L1542.6,1333.4 L1543.1,1333.4 L1543.6,1332.9 L1544.1,1332.5 L1544.6,1331.6 L1545.1,1331.8 L1545.6,1331.5 L1546.0,1332.4 L1546.1,1332.3 L1546.6,1332.4 L1547.1,1332.5 L1547.6,1332.8 L1548.1,1333.6 L1548.6,1333.6 L1549.1,1334.1 L1549.6,1334.0 L1550.1,1334.5 L1550.6,1334.7 L1551.0,1335.6 L1551.1,1335.5 L1551.6,1335.5 L1552.1,1336.6 L1552.6,1336.4 L1553.1,1336.9 L1553.6,1337.0 L1554.1,1337.4 L1554.6,1338.2 L1555.1,1338.0 L1555.6,1338.0 L1556.0,1338.4 L1556.1,1338.3 L1556.6,1338.9 L1557.1,1338.3 L1557.6,1339.2 L1561.0,1338.5 L1566.0,1339.2 L1570.6,1338.7 L1571.0,1338.3 L1571.1,1338.5 L1571.6,1338.3 L1572.1,1338.2 L1572.6,1338.0 L1573.1,1338.1 L1573.6,1338.5 L1574.1,1338.4 L1574.6,1338.1 L1575.1,1337.0 L1575.6,1336.8 L1576.0,1336.9 L1576.1,1336.0 L1576.6,1335.8 L1577.1,1334.3 L1577.6,1333.5 L1578.1,1330.8 L1578.6,1329.3 L1579.1,1326.2 L1579.6,1323.1 L1580.1,1319.8 L1580.6,1317.3 L1581.0,1314.7 L1581.1,1313.8 L1581.6,1311.5 L1582.1,1310.1 L1582.6,1308.5 L1583.1,1308.8 L1583.6,1309.0 L1584.1,1310.4 L1584.6,1312.5 L1585.1,1314.2 L1585.6,1315.5 L1586.0,1316.6 L1586.1,1316.9 L1586.6,1318.7 L1587.1,1319.8 L1587.6,1320.7 L1588.1,1321.7 L1588.6,1323.3 L1589.1,1324.8 L1589.6,1326.4 L1590.1,1327.8 L1590.6,1329.2 L1591.0,1330.3 L1591.1,1331.2 L1591.6,1332.4 L1592.1,1334.0 L1592.6,1334.5 L1593.1,1336.1 L1593.6,1336.4 L1594.1,1337.4 L1594.6,1337.8 L1595.6,1338.0 L1596.0,1337.7 L1596.6,1338.6 L1597.6,1338.4 L1598.6,1338.9 L1601.0,1338.5 L1606.0,1338.5 L1607.6,1339.1 L1608.6,1338.6 L1609.6,1338.4 L1610.6,1338.6 L1611.0,1338.7 L1611.6,1338.2 L1612.1,1338.6 L1612.6,1338.5 L1613.1,1338.5 L1613.6,1338.0 L1614.1,1338.5 L1614.6,1338.5 L1615.1,1338.4 L1615.6,1337.7 L1616.0,1337.8 L1616.1,1337.5 L1616.6,1337.4 L1617.1,1336.2 L1617.6,1336.2 L1618.1,1335.3 L1618.6,1333.6 L1619.1,1331.9 L1619.6,1329.8 L1620.1,1327.3 L1620.6,1324.1 L1621.0,1322.6 L1621.1,1321.3 L1621.6,1318.3 L1622.1,1315.5 L1622.6,1313.4 L1623.1,1312.2 L1623.6,1310.6 L1624.1,1310.7 L1624.6,1311.9 L1625.1,1312.7 L1625.6,1314.1 L1626.0,1316.0 L1626.1,1316.3 L1626.6,1317.9 L1627.1,1319.4 L1627.6,1320.1 L1628.1,1321.8 L1628.6,1322.6 L1629.1,1322.9 L1629.6,1324.0 L1630.1,1325.5 L1630.6,1326.8 L1631.0,1327.8 L1631.1,1328.0 L1631.6,1329.7 L1632.1,1331.0 L1632.6,1332.8 L1633.1,1334.3 L1633.6,1334.8 L1634.1,1336.0 L1634.6,1336.9 L1635.1,1336.9 L1635.6,1338.0 L1636.0,1338.3 L1641.0,1338.8 L1646.0,1339.1 L1648.6,1339.6 L1649.6,1339.3 L1650.6,1339.2 L1651.0,1339.7 L1651.6,1339.6 L1652.6,1339.2 L1653.6,1339.1 L1654.6,1339.2 L1655.6,1339.3 L1656.0,1339.8 L1656.6,1339.7 L1657.6,1339.8 L1658.6,1339.7 L1659.6,1339.7 L1661.0,1339.0 L1666.0,1339.5 L1671.0,1339.9 L1676.0,1339.9 L1681.0,1339.3 L1686.0,1339.5 L1691.0,1339.7 L1696.0,1339.5 L1701.0,1339.6 L1706.0,1339.2 L1711.0,1339.6 L1716.0,1339.6 L1721.0,1339.2 L1726.0,1339.3 L1731.0,1340.1 L1736.0,1339.9 L1741.0,1340.1 L1746.0,1339.8 L1751.0,1340.0 L1756.0,1340.1 L1761.0,1340.1 L1766.0,1339.3 L1771.0,1339.9 L1776.0,1339.6 L1781.0,1339.9 L1786.0,1339.6 L1791.0,1339.8 L1796.0,1340.2 L1801.0,1339.9 L1806.0,1339.6 L1811.0,1339.8 L1812.5,1339.8 L1813.5,1340.2 L1814.5,1339.6 L1815.5,1339.7 L1816.0,1340.0 L1816.5,1339.5 L1817.5,1339.9 L1818.5,1340.3 L1819.5,1339.9 L1821.0,1339.6 L1826.0,1339.8 L1831.0,1339.9 L1834.5,1339.6 L1835.0,1339.5 L1835.5,1339.5 L1836.0,1339.7 L1836.5,1339.8 L1837.0,1339.7 L1837.5,1339.6 L1838.0,1339.5 L1838.5,1339.9 L1839.0,1340.2 L1839.5,1340.0 L1840.0,1339.9 L1840.5,1340.0 L1841.0,1339.6 L1841.5,1340.1 L1842.0,1339.8 L1842.5,1339.9 L1843.0,1340.0 L1843.5,1339.8 L1844.0,1339.7 L1844.5,1339.6 L1845.0,1339.6 L1845.5,1339.8 L1846.0,1339.7 L1846.5,1339.9 L1847.0,1339.3 L1847.5,1339.6 L1848.0,1340.1 L1848.5,1339.5 L1849.0,1339.8 L1849.5,1339.7 L1850.0,1339.6 L1850.5,1340.2 L1851.0,1339.6 L1851.5,1340.0 L1852.0,1339.5 L1852.5,1339.4 L1853.0,1340.1 L1853.5,1339.7 L1854.0,1339.4 L1854.5,1339.7 L1855.0,1339.8 L1855.5,1340.0 L1856.0,1339.5 L1856.5,1339.6 L1857.0,1340.3 L1857.5,1340.1 L1858.0,1339.5 L1858.5,1339.7 L1859.0,1339.7 L1859.5,1340.0 L1860.0,1340.0 L1860.5,1340.2 L1861.0,1340.2 L1861.5,1339.9 L1862.0,1340.1 L1862.5,1340.1 L1866.0,1340.2 L1871.0,1339.9 L1876.0,1340.2 L1877.5,1340.1 L1878.5,1340.3 L1879.5,1339.6 L1880.5,1340.3 L1881.0,1339.5 L1881.5,1340.2 L1882.5,1340.0 L1883.5,1340.0 L1884.5,1340.4 L1885.5,1340.0 L1886.0,1339.9 L1886.5,1340.2 L1887.5,1340.3 L1888.5,1340.1 L1889.5,1339.9 L1890.5,1339.9 L1891.0,1339.9 L1896.0,1340.2 L1901.0,1339.8 L1903.0,1339.9" fill="none" stroke="#4f4f4f" stroke-width="10.5" stroke-linejoin="round" stroke-linecap="butt"/>
<path d="M186.0,845.0 L191.0,844.9 L196.0,844.9 L201.0,845.3 L206.0,845.4 L211.0,845.1 L216.0,845.0 L221.0,844.8 L226.0,844.9 L231.0,844.8 L236.0,845.2 L241.0,845.2 L246.0,844.8 L251.0,845.6 L256.0,845.0 L261.0,845.5 L266.0,845.5 L271.0,845.6 L276.0,845.0 L281.0,845.2 L286.0,845.6 L291.0,844.8 L296.0,844.9 L301.0,845.4 L306.0,845.3 L311.0,845.7 L316.0,845.6 L321.0,845.4 L326.0,845.8 L331.0,845.4 L336.0,845.4 L341.0,845.6 L346.0,845.3 L351.0,845.3 L356.0,845.5 L361.0,845.3 L366.0,845.9 L371.0,845.7 L376.0,845.5 L381.0,845.2 L386.0,845.4 L391.0,845.5 L396.0,845.6 L401.0,845.6 L406.0,845.9 L411.0,846.0 L416.0,845.6 L421.0,845.6 L426.0,845.7 L431.0,846.1 L436.0,845.5 L441.0,845.7 L446.0,845.9 L451.0,845.4 L456.0,845.5 L461.0,846.1 L466.0,846.0 L471.0,845.7 L476.0,845.3 L481.0,846.0 L486.0,845.8 L491.0,845.9 L496.0,846.0 L501.0,845.8 L506.0,845.2 L511.0,844.8 L512.0,844.9 L513.0,845.0 L514.0,844.9 L515.0,844.5 L516.0,844.4 L517.0,844.7 L518.0,844.6 L519.0,844.2 L520.0,844.6 L521.0,844.1 L522.0,843.4 L526.0,842.2 L530.5,837.7 L531.0,835.8 L531.5,834.2 L532.0,830.7 L532.5,826.6 L533.0,820.8 L533.5,811.5 L534.0,799.2 L534.5,782.3 L535.0,762.0 L535.5,737.8 L536.0,710.7 L536.5,683.4 L537.0,657.6 L537.5,636.8 L538.0,622.2 L538.5,616.2 L539.0,618.8 L539.5,629.7 L540.0,647.6 L540.5,668.9 L541.0,693.3 L541.5,718.4 L542.0,742.7 L542.5,764.6 L543.0,783.0 L543.5,798.3 L544.0,809.5 L544.5,818.5 L545.0,825.7 L545.5,829.9 L546.0,833.5 L551.0,841.9 L554.0,843.1 L555.0,843.5 L556.0,843.6 L557.0,844.5 L558.0,844.4 L559.0,844.3 L560.0,844.6 L561.0,844.6 L562.0,844.4 L563.0,845.3 L564.0,845.1 L565.0,845.5 L566.0,845.1 L570.0,845.4 L571.0,845.1 L572.0,844.9 L573.0,845.8 L574.0,845.7 L575.0,845.3 L576.0,845.8 L577.0,845.7 L578.0,845.3 L579.0,845.5 L580.0,845.9 L581.0,845.5 L582.0,845.9 L586.0,845.1 L591.0,844.9 L592.0,845.1 L592.5,844.5 L593.0,844.4 L593.5,844.7 L594.0,844.1 L594.5,843.9 L595.0,842.9 L595.5,842.0 L596.0,841.1 L596.5,839.6 L597.0,838.6 L597.5,836.0 L598.0,833.9 L598.5,831.0 L599.0,828.7 L599.5,826.0 L600.0,823.6 L600.5,821.4 L601.0,820.2 L601.5,820.2 L602.0,819.9 L602.5,820.6 L603.0,822.0 L603.5,824.1 L604.0,826.3 L604.5,828.6 L605.0,831.6 L605.5,833.7 L606.0,835.7 L606.5,838.1 L607.0,839.2 L607.5,840.7 L608.0,842.3 L608.5,842.5 L609.0,843.4 L609.5,844.2 L610.0,844.5 L611.0,844.4 L616.0,845.2 L618.0,845.6 L618.5,845.3 L619.0,845.8 L619.5,845.1 L620.0,845.8 L620.5,845.4 L621.0,845.1 L621.5,845.3 L622.0,845.0 L622.5,845.5 L623.0,845.0 L623.5,845.5 L624.0,845.2 L624.5,844.9 L625.0,844.7 L625.5,844.9 L626.0,844.5 L626.5,845.0 L627.0,844.2 L627.5,844.5 L628.0,844.5 L628.5,844.2 L629.0,844.6 L629.5,844.3 L630.0,844.6 L630.5,844.5 L631.0,844.4 L631.5,844.5 L632.0,844.3 L632.5,844.5 L633.0,845.1 L633.5,844.7 L634.0,845.1 L634.5,844.6 L635.0,845.1 L635.5,844.9 L636.0,845.0 L636.5,844.9 L637.0,844.6 L637.5,844.8 L638.0,844.8 L641.0,844.5 L642.0,844.9 L643.0,844.4 L644.0,844.4 L645.0,844.7 L646.0,844.4 L647.0,844.3 L648.0,844.1 L649.0,843.1 L650.0,843.0 L651.0,842.4 L652.0,842.5 L653.0,842.0 L654.0,841.1 L655.0,840.4 L656.0,839.6 L657.0,838.5 L658.0,836.4 L659.0,834.6 L659.5,832.5 L660.0,830.6 L660.5,827.0 L661.0,822.2 L661.5,816.0 L662.0,805.8 L662.5,791.3 L663.0,770.9 L663.5,744.8 L664.0,712.4 L664.5,674.1 L665.0,632.1 L665.5,589.1 L666.0,548.9 L666.5,516.4 L667.0,494.8 L667.5,485.2 L668.0,489.5 L668.5,504.5 L669.0,529.1 L669.5,559.7 L670.0,595.1 L670.5,632.3 L671.0,668.3 L671.5,702.0 L672.0,732.9 L672.5,758.6 L673.0,779.0 L673.5,795.2 L674.0,808.3 L674.5,817.0 L675.0,823.0 L676.0,830.8 L681.0,840.5 L684.0,842.9 L685.0,842.8 L686.0,843.8 L687.0,844.0 L688.0,843.6 L689.0,844.4 L690.0,844.3 L691.0,844.8 L692.0,845.0 L693.0,844.7 L694.0,844.6 L695.0,845.5 L696.0,845.1 L701.0,845.9 L706.0,846.0 L711.0,846.2 L716.0,846.4 L721.0,846.3 L726.0,846.2 L731.0,845.9 L736.0,846.5 L741.0,846.3 L746.0,846.5 L751.0,846.9 L756.0,846.2 L761.0,846.8 L766.0,846.2 L771.0,846.8 L776.0,846.9 L781.0,846.4 L786.0,846.7 L791.0,847.1 L796.0,846.8 L801.0,846.8 L806.0,846.5 L811.0,846.4 L816.0,846.6 L821.0,846.7 L826.0,846.5 L831.0,846.7 L836.0,846.5 L841.0,847.0 L846.0,847.0 L851.0,846.7 L856.0,846.7 L861.0,846.9 L866.0,846.9 L871.0,847.3 L876.0,846.8 L881.0,846.8 L886.0,847.3 L891.0,846.7 L896.0,847.1 L901.0,846.9 L906.0,847.3 L911.0,847.1 L916.0,847.3 L921.0,846.8 L926.0,847.2 L931.0,847.2 L936.0,847.1 L941.0,847.4 L946.0,847.4 L951.0,846.8 L956.0,846.9 L961.0,846.9 L962.0,846.8 L963.0,846.6 L964.0,846.8 L965.0,846.7 L966.0,847.2 L967.0,846.9 L968.0,846.6 L971.0,846.7 L976.0,846.4 L978.0,845.9 L978.5,845.6 L979.0,845.3 L979.5,845.1 L980.0,845.7 L980.5,845.0 L981.0,843.8 L981.5,843.5 L982.0,842.4 L982.5,840.1 L983.0,837.1 L983.5,834.1 L984.0,829.9 L984.5,824.8 L985.0,819.8 L985.5,814.0 L986.0,810.1 L986.5,806.1 L987.0,803.7 L987.5,803.2 L988.0,803.6 L988.5,805.1 L989.0,807.7 L989.5,810.6 L990.0,813.7 L990.5,817.8 L991.0,821.4 L991.5,824.5 L992.0,827.9 L992.5,831.7 L993.0,834.9 L993.5,837.7 L994.0,839.3 L994.5,841.7 L995.0,843.1 L995.5,844.1 L996.0,844.5 L1001.0,846.3 L1006.0,847.2 L1007.0,846.8 L1008.0,846.9 L1009.0,847.1 L1010.0,847.0 L1011.0,847.4 L1012.0,846.9 L1013.0,846.8 L1014.0,847.3 L1015.0,847.3 L1016.0,847.5 L1021.0,847.5 L1026.0,847.7 L1031.0,847.8 L1036.0,847.4 L1041.0,847.4 L1046.0,847.1 L1051.0,847.3 L1056.0,847.6 L1061.0,847.1 L1066.0,847.7 L1071.0,847.2 L1076.0,847.5 L1081.0,848.0 L1086.0,847.2 L1091.0,847.2 L1096.0,847.6 L1101.0,847.4 L1106.0,847.8 L1111.0,847.2 L1116.0,848.0 L1121.0,848.0 L1126.0,848.0 L1131.0,847.6 L1136.0,847.5 L1141.0,847.9 L1146.0,847.8 L1151.0,847.7 L1156.0,847.6 L1161.0,847.7 L1166.0,847.9 L1171.0,848.1 L1176.0,848.2 L1181.0,847.5 L1186.0,847.6 L1191.0,847.8 L1196.0,847.9 L1201.0,847.7 L1206.0,847.6 L1211.0,847.5 L1216.0,847.7 L1221.0,847.8 L1226.0,848.2 L1231.0,848.0 L1236.0,847.9 L1237.0,847.9 L1238.0,847.9 L1239.0,847.5 L1240.0,847.7 L1241.0,846.9 L1242.0,847.4 L1243.0,847.3 L1246.0,846.7 L1251.0,845.9 L1253.5,845.1 L1254.0,844.4 L1254.5,844.1 L1255.0,843.3 L1255.5,842.7 L1256.0,842.4 L1256.5,840.4 L1257.0,838.7 L1257.5,836.4 L1258.0,832.3 L1258.5,826.3 L1259.0,819.1 L1259.5,808.8 L1260.0,796.6 L1260.5,782.2 L1261.0,766.9 L1261.5,751.8 L1262.0,738.4 L1262.5,728.2 L1263.0,722.9 L1263.5,722.9 L1264.0,726.2 L1264.5,732.4 L1265.0,741.1 L1265.5,748.7 L1266.0,756.1 L1266.5,763.3 L1267.0,769.3 L1267.5,776.0 L1268.0,783.0 L1268.5,790.3 L1269.0,798.8 L1269.5,806.6 L1270.0,814.8 L1270.5,821.9 L1271.0,827.4 L1271.5,832.5 L1272.0,835.9 L1272.5,838.9 L1276.0,845.4 L1281.0,846.7 L1283.0,847.2 L1284.0,847.4 L1285.0,846.9 L1286.0,847.8 L1287.0,847.6 L1288.0,847.1 L1289.0,847.8 L1290.0,847.5 L1291.0,847.3 L1292.0,848.1 L1293.0,847.8 L1296.0,848.1 L1301.0,847.6 L1306.0,848.3 L1311.0,847.7 L1316.0,847.9 L1321.0,848.0 L1326.0,847.8 L1331.0,848.3 L1336.0,848.0 L1341.0,848.1 L1346.0,848.5 L1351.0,848.2 L1356.0,848.7 L1361.0,848.4 L1366.0,848.7 L1371.0,848.4 L1376.0,848.7 L1381.0,848.7 L1386.0,848.1 L1391.0,848.6 L1396.0,848.2 L1400.0,848.6 L1401.0,848.5 L1402.0,848.6 L1403.0,848.0 L1404.0,848.2 L1406.0,848.5 L1411.0,848.5 L1415.5,847.9 L1416.0,847.2 L1416.5,847.6 L1417.0,847.1 L1417.5,847.3 L1418.0,847.4 L1418.5,846.6 L1419.0,847.1 L1419.5,846.5 L1420.0,845.5 L1420.5,844.6 L1421.0,843.6 L1421.5,842.2 L1422.0,839.6 L1422.5,836.0 L1423.0,832.1 L1423.5,827.7 L1424.0,823.6 L1424.5,818.4 L1425.0,814.7 L1425.5,811.6 L1426.0,810.5 L1426.5,810.4 L1427.0,811.6 L1427.5,814.7 L1428.0,817.2 L1428.5,820.0 L1429.0,822.4 L1429.5,824.3 L1430.0,824.8 L1430.5,826.3 L1431.0,827.4 L1431.5,829.3 L1432.0,831.6 L1432.5,833.8 L1433.0,835.5 L1433.5,838.0 L1434.0,840.7 L1434.5,842.4 L1435.0,843.7 L1435.5,844.9 L1436.0,845.5 L1436.5,846.7 L1441.0,847.8 L1446.0,848.6 L1448.0,848.4 L1449.0,848.0 L1450.0,848.2 L1451.0,848.2 L1452.0,848.8 L1453.0,848.5 L1454.0,848.1 L1455.0,848.2 L1456.0,848.4 L1457.0,848.5 L1461.0,848.6 L1466.0,848.5 L1471.0,848.5 L1476.0,848.2 L1481.0,848.8 L1486.0,848.6 L1491.0,848.3 L1496.0,848.7 L1501.0,849.2 L1506.0,848.3 L1511.0,848.4 L1515.0,848.9 L1516.0,848.6 L1517.0,848.6 L1518.0,848.8 L1519.0,848.5 L1520.0,848.8 L1521.0,848.8 L1522.0,849.2 L1523.0,849.2 L1526.0,848.3 L1531.0,848.7 L1536.0,848.8 L1536.5,848.9 L1537.0,848.7 L1537.5,848.6 L1538.0,848.6 L1538.5,848.3 L1539.0,848.1 L1539.5,848.5 L1540.0,848.5 L1540.5,848.4 L1541.0,848.0 L1541.5,847.4 L1542.0,847.5 L1542.5,847.0 L1543.0,846.3 L1543.5,845.7 L1544.0,844.7 L1544.5,843.9 L1545.0,842.8 L1545.5,841.5 L1546.0,840.7 L1546.5,839.8 L1547.0,839.6 L1547.5,838.5 L1548.0,838.1 L1548.5,837.9 L1549.0,838.0 L1549.5,838.4 L1550.0,838.7 L1550.5,839.1 L1551.0,840.4 L1551.5,840.5 L1552.0,841.0 L1552.5,841.6 L1553.0,841.9 L1553.5,842.2 L1554.0,842.6 L1554.5,843.4 L1555.0,843.9 L1555.5,844.9 L1556.0,845.3 L1556.5,846.2 L1557.0,846.1 L1557.5,847.1 L1558.0,847.1 L1558.5,847.0 L1559.0,847.4 L1559.5,847.9 L1560.0,848.4 L1561.0,848.1 L1562.0,848.5 L1563.0,848.3 L1566.0,848.7 L1571.0,847.8 L1573.0,848.1 L1574.0,848.3 L1575.0,847.6 L1575.5,847.5 L1576.0,847.2 L1576.5,847.2 L1577.0,847.2 L1577.5,847.4 L1578.0,846.7 L1578.5,846.6 L1579.0,846.1 L1579.5,845.9 L1580.0,845.4 L1580.5,844.1 L1581.0,842.0 L1581.5,840.0 L1582.0,837.0 L1582.5,832.3 L1583.0,826.6 L1583.5,821.2 L1584.0,814.8 L1584.5,808.0 L1585.0,802.4 L1585.5,798.6 L1586.0,797.2 L1586.5,798.1 L1587.0,800.3 L1587.5,804.4 L1588.0,808.1 L1588.5,812.2 L1589.0,816.0 L1589.5,818.2 L1590.0,819.4 L1590.5,820.5 L1591.0,820.9 L1591.5,821.6 L1592.0,823.4 L1592.5,825.2 L1593.0,828.5 L1593.5,831.3 L1594.0,834.6 L1594.5,837.6 L1595.0,839.9 L1595.5,842.1 L1596.0,843.4 L1596.5,845.4 L1597.0,845.9 L1601.0,848.3 L1602.0,847.6 L1603.0,848.2 L1604.0,848.4 L1606.0,848.1 L1609.0,848.0 L1610.0,848.1 L1611.0,848.0 L1612.0,848.6 L1613.0,847.9 L1614.0,848.5 L1615.0,848.1 L1616.0,848.1 L1616.5,848.1 L1617.0,847.9 L1617.5,848.0 L1618.0,847.8 L1618.5,847.4 L1619.0,847.6 L1619.5,847.0 L1620.0,847.1 L1620.5,846.7 L1621.0,846.1 L1621.5,844.8 L1622.0,843.8 L1622.5,842.1 L1623.0,838.9 L1623.5,835.3 L1624.0,831.2 L1624.5,826.7 L1625.0,820.7 L1625.5,815.5 L1626.0,811.5 L1626.5,808.6 L1627.0,807.4 L1627.5,807.5 L1628.0,810.2 L1628.5,812.7 L1629.0,816.8 L1629.5,819.6 L1630.0,822.4 L1630.5,824.4 L1631.0,825.5 L1631.5,826.4 L1632.0,826.8 L1632.5,827.0 L1633.0,828.6 L1633.5,829.6 L1634.0,831.5 L1634.5,834.0 L1635.0,837.0 L1635.5,839.6 L1636.0,841.1 L1636.5,842.8 L1637.0,844.9 L1637.5,845.5 L1638.0,846.9 L1641.0,848.1 L1646.0,848.8 L1650.0,848.7 L1651.0,849.2 L1652.0,848.9 L1653.0,848.8 L1654.0,849.4 L1655.0,848.7 L1656.0,849.2 L1657.0,848.7 L1658.0,849.2 L1661.0,849.0 L1666.0,849.5 L1671.0,848.8 L1676.0,849.3 L1681.0,849.2 L1686.0,849.7 L1691.0,849.7 L1696.0,849.5 L1701.0,849.1 L1706.0,849.2 L1711.0,849.2 L1716.0,849.4 L1721.0,849.2 L1726.0,849.2 L1731.0,849.7 L1736.0,849.6 L1741.0,849.3 L1746.0,850.0 L1751.0,849.3 L1756.0,849.6 L1761.0,849.3 L1766.0,849.9 L1771.0,849.9 L1776.0,849.4 L1781.0,849.9 L1786.0,849.9 L1791.0,849.5 L1796.0,849.5 L1801.0,849.7 L1806.0,850.0 L1811.0,849.4 L1816.0,849.9 L1817.0,849.8 L1818.0,849.7 L1819.0,849.8 L1820.0,850.1 L1821.0,849.5 L1822.0,850.1 L1823.0,849.6 L1824.0,850.0 L1826.0,850.1 L1831.0,849.5 L1836.0,850.1 L1839.0,850.2 L1839.5,849.5 L1840.0,849.3 L1840.5,849.4 L1841.0,850.1 L1841.5,849.3 L1842.0,850.1 L1842.5,849.4 L1843.0,849.9 L1843.5,849.3 L1844.0,849.3 L1844.5,849.7 L1845.0,849.2 L1845.5,849.3 L1846.0,849.8 L1846.5,849.5 L1847.0,849.5 L1847.5,849.4 L1848.0,848.4 L1848.5,848.3 L1849.0,848.5 L1849.5,848.2 L1850.0,847.2 L1850.5,847.3 L1851.0,846.8 L1851.5,846.7 L1852.0,846.2 L1852.5,845.9 L1853.0,846.7 L1853.5,846.1 L1854.0,846.6 L1854.5,846.1 L1855.0,846.6 L1855.5,846.4 L1856.0,846.9 L1856.5,846.8 L1857.0,847.5 L1857.5,847.1 L1858.0,847.8 L1858.5,847.6 L1859.0,847.4 L1859.5,847.7 L1860.0,848.0 L1860.5,848.5 L1861.0,848.1 L1861.5,848.1 L1862.0,849.0 L1862.5,849.1 L1863.0,849.1 L1863.5,848.8 L1864.0,848.9 L1864.5,849.1 L1865.0,849.0 L1865.5,849.1 L1866.0,849.6 L1866.5,849.5 L1867.0,849.7 L1871.0,849.7 L1876.0,849.4 L1881.0,850.1 L1882.0,850.0 L1883.0,849.9 L1884.0,850.0 L1885.0,850.1 L1886.0,850.4 L1887.0,850.3 L1888.0,850.1 L1889.0,849.8 L1890.0,849.8 L1891.0,849.9 L1892.0,850.4 L1893.0,849.8 L1894.0,849.8 L1895.0,849.9 L1896.0,849.6 L1901.0,850.4 L1903.0,849.5" fill="none" stroke="#006ee4" stroke-width="10.5" stroke-linejoin="round" stroke-linecap="butt"/>
<rect x="175.0" y="32.0" width="1742.0" height="12.0" fill="#000"/>
<rect x="175.0" y="32.0" width="8.4" height="1389.7" fill="#000"/>
<rect x="183.4" y="40.0" width="9.9" height="1391.4" fill="#000"/>
<rect x="183.4" y="40.0" width="1.0" height="1374.0" fill="#8a8a8a"/>
<rect x="183.5" y="1414.0" width="1733.5" height="17.4" fill="#000"/>
<rect x="1899.0" y="32.0" width="18.0" height="1399.4" fill="#000"/>
<rect x="326.1" y="1412.0" width="11.0" height="3.0" fill="#000"/>
<rect x="470.6" y="1399.0" width="9.4" height="16.0" fill="#000"/>
<rect x="613.4" y="1412.0" width="11.0" height="3.0" fill="#000"/>
<rect x="757.8" y="1399.0" width="9.4" height="16.0" fill="#000"/>
<rect x="900.6" y="1412.0" width="11.0" height="3.0" fill="#000"/>
<rect x="1045.0" y="1399.0" width="9.4" height="16.0" fill="#000"/>
<rect x="1187.9" y="1412.0" width="11.0" height="3.0" fill="#000"/>
<rect x="1332.3" y="1399.0" width="9.4" height="16.0" fill="#000"/>
<rect x="1475.1" y="1412.0" width="11.0" height="3.0" fill="#000"/>
<rect x="1619.5" y="1399.0" width="9.4" height="16.0" fill="#000"/>
<rect x="1762.4" y="1412.0" width="11.0" height="3.0" fill="#000"/>
<text x="188.0" y="1506.0" font-size="60" fill="#000" text-anchor="middle" >20</text>
<text x="475.2" y="1506.0" font-size="60" fill="#000" text-anchor="middle" >30</text>
<text x="762.5" y="1506.0" font-size="60" fill="#000" text-anchor="middle" >40</text>
<text x="1049.8" y="1506.0" font-size="60" fill="#000" text-anchor="middle" >50</text>
<text x="1337.0" y="1506.0" font-size="60" fill="#000" text-anchor="middle" >60</text>
<text x="1624.2" y="1506.0" font-size="60" fill="#000" text-anchor="middle" >70</text>
<text x="1911.5" y="1506.0" font-size="60" fill="#000" text-anchor="middle" >80</text>
<text x="1049.5" y="1603.0" font-size="72" fill="#000" text-anchor="middle" >2Theta (degree)</text>
<text transform="translate(77.0,691.0) rotate(-90)" font-size="72" fill="#000" text-anchor="middle">Intensity (a.u.)</text>
<text transform="translate(192.0,197.6) scale(1.055,1)" font-size="151" fill="#000" font-weight="bold">(a)</text>
<line x1="986" y1="143" x2="1119" y2="143" stroke="#4f4f4f" stroke-width="10" stroke-linecap="round"/>
<text x="1132.5" y="163.0" font-size="58" fill="#000" text-anchor="start" >90°-1pass</text>
<line x1="986" y1="217" x2="1119" y2="217" stroke="#fd3c3c" stroke-width="10" stroke-linecap="round"/>
<text x="1132.5" y="237.0" font-size="58" fill="#000" text-anchor="start" >90°-4pass</text>
<line x1="986" y1="290" x2="1119" y2="290" stroke="#006ee4" stroke-width="10" stroke-linecap="round"/>
<text x="1132.5" y="310.0" font-size="58" fill="#000" text-anchor="start" >90°-8pass</text>
<circle cx="1543.0" cy="130.0" r="10.0" fill="#000"/>
<text x="1573.0" y="146.0" font-size="58" fill="#000" text-anchor="start" >α-Mg</text>
<path d="M1535.5,195.0 L1548.0,210.0 L1535.5,225.0 L1523.0,210.0 Z" fill="#000" stroke="#000" stroke-width="2" stroke-linejoin="round"/>
<text x="1575" y="226" font-size="58">MgZn<tspan font-size="38" dy="16">2</tspan></text>
<g fill="#000"><circle cx="1536.5" cy="295.9" r="6.8"/><circle cx="1527.3" cy="309.8" r="7.4"/><circle cx="1545.7" cy="309.8" r="7.4"/><circle cx="1536.5" cy="307.5" r="3.3"/><path d="M1533.5,302.2 L1539.5,302.2 L1537.8,312.1 Q1537.8,318.7 1540.5,321.7 L1532.5,321.7 Q1535.2,318.7 1535.2,312.1 Z"/></g>
<text x="1558" y="320" font-size="58">Ca<tspan font-size="38" dy="14">2</tspan><tspan dy="-14">Mg</tspan><tspan font-size="38" dy="14">6</tspan><tspan dy="-14">Zn</tspan><tspan font-size="38" dy="14">3</tspan></text>
<text transform="translate(461.6,695.3) rotate(-90)" font-size="58" fill="#000" text-anchor="middle">(102)</text>
<text transform="translate(556.6,491.5) rotate(-90)" font-size="58" fill="#000" text-anchor="middle">(001)</text>
<text transform="translate(587.6,669.0) rotate(-90)" font-size="58" fill="#000" text-anchor="middle">(211)</text>
<text transform="translate(631.6,613.5) rotate(-90)" font-size="58" fill="#000" text-anchor="middle">(002)</text>
<text transform="translate(665.6,712.5) rotate(-90)" font-size="58" fill="#000" text-anchor="middle">(004)</text>
<text transform="translate(681.0,209.1) rotate(-90)" font-size="58" fill="#000" text-anchor="middle">(101)</text>
<text transform="translate(783.6,712.5) rotate(-90)" font-size="58" fill="#000" text-anchor="middle">(200)</text>
<text transform="translate(1006.6,666.5) rotate(-90)" font-size="58" fill="#000" text-anchor="middle">(102)</text>
<text transform="translate(1105.6,704.5) rotate(-90)" font-size="58" fill="#000" text-anchor="middle">(403)</text>
<text transform="translate(1279.6,585.0) rotate(-90)" font-size="58" fill="#000" text-anchor="middle">(110)</text>
<text transform="translate(1351.6,724.0) rotate(-90)" font-size="58" fill="#000" text-anchor="middle">(300)</text>
<text transform="translate(1441.6,673.5) rotate(-90)" font-size="58" fill="#000" text-anchor="middle">(200)</text>
<text transform="translate(1561.6,703.5) rotate(-90)" font-size="58" fill="#000" text-anchor="middle">(112)</text>
<text transform="translate(1604.6,640.0) rotate(-90)" font-size="58" fill="#000" text-anchor="middle">(201)</text>
<text transform="translate(1657.6,678.0) rotate(-90)" font-size="58" fill="#000" text-anchor="middle">(004)</text>
<text transform="translate(1868.6,722.0) rotate(-90)" font-size="58" fill="#000" text-anchor="middle">(202)</text>
<circle cx="542.0" cy="580.0" r="10.5" fill="#000"/>
<circle cx="609.0" cy="786.0" r="10.5" fill="#000"/>
<circle cx="668.4" cy="294.3" r="10.5" fill="#000"/>
<circle cx="991.0" cy="757.5" r="10.5" fill="#000"/>
<circle cx="1265.0" cy="681.0" r="10.5" fill="#000"/>
<circle cx="1429.0" cy="760.0" r="10.5" fill="#000"/>
<circle cx="1552.0" cy="795.0" r="10.5" fill="#000"/>
<circle cx="1589.0" cy="749.0" r="10.5" fill="#000"/>
<circle cx="1632.0" cy="765.0" r="10.5" fill="#000"/>
<circle cx="1858.0" cy="809.0" r="10.5" fill="#000"/>
<path d="M448.4,788.0 L459.9,801.0 L448.4,814.0 L436.9,801.0 Z" fill="#000" stroke="#000" stroke-width="2" stroke-linejoin="round"/>
<path d="M767.0,791.0 L778.5,804.0 L767.0,817.0 L755.5,804.0 Z" fill="#000" stroke="#000" stroke-width="2" stroke-linejoin="round"/>
<path d="M1335.0,796.0 L1346.5,809.0 L1335.0,822.0 L1323.5,809.0 Z" fill="#000" stroke="#000" stroke-width="2" stroke-linejoin="round"/>
<g fill="#000"><circle cx="571.2" cy="774.1" r="7.0"/><circle cx="561.7" cy="788.4" r="7.7"/><circle cx="580.7" cy="788.4" r="7.7"/><circle cx="571.2" cy="786.0" r="3.4"/><path d="M568.1,780.6 L574.3,780.6 L572.6,790.8 Q572.6,797.6 575.3,800.7 L567.1,800.7 Q569.8,797.6 569.8,790.8 Z"/></g>
<g fill="#000"><circle cx="637.8" cy="796.1" r="7.0"/><circle cx="628.3" cy="810.4" r="7.7"/><circle cx="647.3" cy="810.4" r="7.7"/><circle cx="637.8" cy="808.0" r="3.4"/><path d="M634.7,802.6 L640.9,802.6 L639.2,812.8 Q639.2,819.6 641.9,822.7 L633.7,822.7 Q636.4,819.6 636.4,812.8 Z"/></g>
<g fill="#000"><circle cx="1093.0" cy="785.1" r="7.0"/><circle cx="1083.5" cy="799.4" r="7.7"/><circle cx="1102.5" cy="799.4" r="7.7"/><circle cx="1093.0" cy="797.0" r="3.4"/><path d="M1089.9,791.6 L1096.1,791.6 L1094.4,801.8 Q1094.4,808.6 1097.1,811.7 L1088.9,811.7 Q1091.6,808.6 1091.6,801.8 Z"/></g>
<path d="M193.0,2960.1 L198.0,2960.4 L203.0,2959.8 L208.0,2960.1 L213.0,2959.9 L218.0,2959.8 L223.0,2959.7 L228.0,2959.6 L233.0,2960.3 L238.0,2960.2 L243.0,2960.4 L248.0,2959.6 L253.0,2960.2 L258.0,2959.8 L263.0,2960.1 L268.0,2960.0 L273.0,2959.8 L278.0,2960.4 L283.0,2959.5 L288.0,2960.2 L293.0,2960.3 L298.0,2960.0 L303.0,2960.1 L308.0,2960.4 L313.0,2959.7 L318.0,2960.1 L323.0,2960.2 L328.0,2959.9 L333.0,2960.2 L338.0,2959.9 L343.0,2960.0 L348.0,2960.1 L353.0,2960.1 L358.0,2959.8 L363.0,2960.1 L368.0,2960.0 L373.0,2959.7 L378.0,2960.1 L383.0,2959.8 L388.0,2960.3 L393.0,2959.9 L398.0,2960.2 L403.0,2960.0 L408.0,2959.9 L413.0,2959.7 L418.0,2959.6 L423.0,2960.3 L428.0,2960.0 L433.0,2960.0 L438.0,2960.0 L443.0,2960.2 L448.0,2959.7 L453.0,2959.6 L458.0,2960.2 L463.0,2959.9 L468.0,2960.0 L473.0,2960.2 L478.0,2960.2 L483.0,2960.2 L488.0,2959.4 L493.0,2959.7 L498.0,2960.0 L503.0,2959.9 L508.0,2959.1 L513.0,2959.0 L518.0,2958.7 L519.0,2958.4 L520.0,2958.6 L521.0,2958.8 L522.0,2958.4 L523.0,2958.1 L524.0,2957.6 L525.0,2957.6 L528.0,2956.8 L532.5,2950.9 L533.0,2949.1 L533.5,2946.6 L534.0,2943.1 L534.5,2936.9 L535.0,2926.5 L535.5,2911.9 L536.0,2890.0 L536.5,2861.2 L537.0,2825.6 L537.5,2786.5 L538.0,2747.8 L538.5,2715.5 L539.0,2694.1 L539.5,2687.3 L540.0,2694.6 L540.5,2712.3 L541.0,2738.5 L541.5,2769.8 L542.0,2802.1 L542.5,2834.2 L543.0,2863.2 L543.5,2888.5 L544.0,2907.7 L544.5,2923.0 L545.0,2933.8 L545.5,2940.4 L548.0,2952.7 L553.0,2957.4 L554.0,2957.6 L555.0,2957.7 L556.0,2957.6 L557.0,2958.2 L558.0,2958.3 L559.0,2958.8 L560.0,2958.5 L561.0,2958.8 L562.0,2959.1 L563.0,2959.3 L566.5,2959.1 L567.5,2959.2 L568.0,2959.4 L568.5,2959.7 L569.5,2959.1 L570.5,2959.8 L571.5,2959.6 L572.5,2959.3 L573.0,2959.6 L573.5,2959.3 L574.5,2959.1 L575.5,2959.8 L576.5,2959.4 L577.5,2959.6 L578.0,2959.6 L578.5,2959.9 L579.5,2959.8 L580.5,2959.2 L581.5,2959.7 L583.0,2959.6 L588.0,2959.5 L592.5,2959.7 L593.0,2959.3 L593.5,2959.3 L594.0,2959.6 L594.5,2959.1 L595.0,2959.0 L595.5,2958.8 L596.0,2958.8 L596.5,2958.3 L597.0,2958.0 L597.5,2957.2 L598.0,2956.2 L598.5,2956.1 L599.0,2955.2 L599.5,2954.5 L600.0,2953.5 L600.5,2952.0 L601.0,2951.2 L601.5,2950.3 L602.0,2950.4 L602.5,2949.3 L603.0,2949.1 L603.5,2949.7 L604.0,2949.8 L604.5,2949.8 L605.0,2951.0 L605.5,2951.8 L606.0,2952.4 L606.5,2953.0 L607.0,2954.4 L607.5,2955.0 L608.0,2956.0 L608.5,2957.0 L609.0,2957.5 L609.5,2958.0 L610.0,2957.8 L610.5,2958.3 L611.0,2958.8 L611.5,2958.5 L612.0,2959.6 L612.5,2959.0 L613.0,2959.1 L618.0,2959.5 L623.0,2959.5 L623.5,2960.1 L624.5,2959.8 L625.5,2959.8 L626.5,2959.7 L627.5,2959.4 L628.0,2959.6 L628.5,2960.1 L629.5,2960.1 L630.5,2960.1 L631.5,2959.6 L632.5,2959.5 L633.0,2959.4 L633.5,2959.8 L634.5,2959.7 L635.5,2959.8 L636.5,2959.8 L637.5,2959.9 L638.0,2959.7 L638.5,2960.1 L639.5,2959.5 L640.5,2960.1 L643.0,2959.8 L646.0,2959.3 L647.0,2959.5 L648.0,2959.7 L649.0,2959.5 L650.0,2959.7 L651.0,2959.4 L652.0,2959.3 L653.0,2959.7 L658.0,2958.7 L660.0,2958.5 L660.5,2958.3 L661.0,2957.8 L661.5,2957.1 L662.0,2956.8 L662.5,2955.0 L663.0,2953.3 L663.5,2949.5 L664.0,2945.3 L664.5,2939.5 L665.0,2931.6 L665.5,2924.3 L666.0,2915.8 L666.5,2909.9 L667.0,2905.5 L667.5,2904.9 L668.0,2906.1 L668.5,2909.8 L669.0,2914.3 L669.5,2919.9 L670.0,2925.8 L670.5,2931.4 L671.0,2937.0 L671.5,2942.8 L672.0,2946.6 L672.5,2950.9 L673.0,2952.9 L673.5,2954.7 L674.0,2956.0 L678.0,2959.2 L682.0,2959.8 L683.0,2959.4 L684.0,2959.7 L685.0,2959.4 L686.0,2960.0 L687.0,2959.8 L688.0,2959.4 L689.0,2959.3 L690.0,2959.9 L693.0,2959.4 L698.0,2960.2 L703.0,2959.7 L708.0,2959.7 L713.0,2960.0 L718.0,2959.8 L723.0,2960.0 L728.0,2959.6 L733.0,2960.3 L738.0,2959.8 L743.0,2960.3 L748.0,2959.7 L753.0,2960.2 L758.0,2960.4 L763.0,2959.9 L768.0,2959.6 L773.0,2959.9 L778.0,2960.1 L783.0,2959.7 L788.0,2960.0 L793.0,2959.6 L798.0,2960.0 L803.0,2960.2 L808.0,2959.9 L813.0,2960.1 L818.0,2959.6 L823.0,2960.3 L828.0,2959.6 L833.0,2960.4 L838.0,2960.4 L843.0,2960.4 L848.0,2960.0 L853.0,2959.8 L858.0,2959.9 L863.0,2960.2 L868.0,2960.0 L873.0,2960.4 L878.0,2959.6 L883.0,2960.0 L888.0,2960.3 L893.0,2960.1 L898.0,2960.0 L903.0,2959.6 L908.0,2959.7 L913.0,2959.8 L918.0,2960.3 L923.0,2960.3 L928.0,2959.7 L933.0,2960.4 L938.0,2959.6 L943.0,2960.1 L948.0,2960.4 L953.0,2959.9 L954.0,2960.4 L955.0,2960.1 L956.0,2959.6 L957.0,2959.8 L958.0,2959.9 L959.0,2959.8 L960.0,2960.2 L961.0,2959.7 L962.0,2960.3 L963.0,2959.8 L964.0,2959.6 L965.0,2960.0 L966.0,2959.6 L967.0,2960.0 L968.0,2960.3 L973.0,2960.1 L978.0,2960.0 L979.0,2959.6 L979.5,2960.0 L980.0,2959.6 L980.5,2960.1 L981.0,2959.7 L981.5,2960.1 L982.0,2959.9 L982.5,2959.9 L983.0,2960.1 L983.5,2959.7 L984.0,2959.7 L984.5,2960.4 L985.0,2959.8 L985.5,2960.3 L986.0,2960.3 L986.5,2960.0 L987.0,2959.7 L987.5,2959.6 L988.0,2960.3 L988.5,2959.6 L989.0,2960.0 L989.5,2960.0 L990.0,2959.7 L990.5,2960.0 L991.0,2959.7 L991.5,2960.0 L992.0,2960.0 L992.5,2959.9 L993.0,2959.7 L993.5,2959.9 L994.0,2959.7 L994.5,2959.7 L995.0,2959.8 L995.5,2960.3 L996.0,2960.0 L996.5,2960.3 L997.0,2959.6 L997.5,2960.4 L998.0,2960.0 L998.5,2960.3 L999.0,2960.1 L999.5,2960.2 L1000.0,2959.8 L1000.5,2960.2 L1001.0,2959.7 L1003.0,2959.8 L1008.0,2959.6 L1013.0,2959.9 L1014.0,2960.0 L1015.0,2959.8 L1016.0,2960.3 L1017.0,2959.6 L1018.0,2960.1 L1019.0,2959.8 L1020.0,2960.1 L1021.0,2960.3 L1022.0,2960.2 L1023.0,2959.6 L1024.0,2959.8 L1025.0,2960.1 L1026.0,2960.4 L1027.0,2959.6 L1028.0,2960.1 L1029.0,2960.2 L1033.0,2960.3 L1038.0,2959.9 L1043.0,2960.3 L1048.0,2960.0 L1053.0,2960.4 L1058.0,2959.6 L1063.0,2960.4 L1068.0,2959.9 L1073.0,2959.9 L1078.0,2959.6 L1083.0,2959.8 L1088.0,2960.2 L1093.0,2960.2 L1098.0,2959.7 L1103.0,2959.9 L1108.0,2959.7 L1113.0,2959.7 L1118.0,2959.7 L1123.0,2959.8 L1128.0,2960.4 L1133.0,2960.4 L1138.0,2960.3 L1143.0,2960.0 L1148.0,2960.0 L1153.0,2960.2 L1158.0,2960.4 L1163.0,2960.2 L1168.0,2960.1 L1173.0,2959.7 L1178.0,2960.1 L1183.0,2960.3 L1188.0,2960.2 L1193.0,2959.6 L1198.0,2960.2 L1203.0,2959.8 L1208.0,2959.7 L1213.0,2960.4 L1218.0,2960.1 L1223.0,2960.2 L1228.0,2959.6 L1233.0,2960.2 L1233.7,2960.3 L1234.7,2960.3 L1235.7,2960.1 L1236.7,2960.2 L1237.7,2960.2 L1238.0,2960.0 L1238.7,2959.8 L1239.7,2960.2 L1240.7,2960.1 L1241.7,2960.2 L1242.7,2959.7 L1243.0,2960.3 L1248.0,2959.8 L1253.0,2960.0 L1254.2,2959.1 L1254.7,2959.8 L1255.2,2959.6 L1255.7,2959.1 L1256.2,2959.5 L1256.7,2958.8 L1257.2,2958.6 L1257.7,2958.6 L1258.0,2958.2 L1258.2,2958.3 L1258.7,2958.3 L1259.2,2957.4 L1259.7,2956.7 L1260.2,2955.3 L1260.7,2954.4 L1261.2,2952.9 L1261.7,2951.1 L1262.2,2949.5 L1262.7,2947.6 L1263.0,2946.1 L1263.2,2945.1 L1263.7,2944.1 L1264.2,2943.1 L1264.7,2941.9 L1265.2,2941.9 L1265.7,2942.3 L1266.2,2942.7 L1266.7,2942.8 L1267.2,2944.2 L1267.7,2944.8 L1268.0,2945.5 L1268.2,2946.6 L1268.7,2947.3 L1269.2,2948.6 L1269.7,2949.6 L1270.2,2950.7 L1270.7,2951.7 L1271.2,2953.0 L1271.7,2954.5 L1272.2,2955.3 L1272.7,2955.9 L1273.0,2956.2 L1273.2,2956.7 L1273.7,2957.7 L1274.2,2958.0 L1274.7,2958.6 L1275.2,2959.0 L1278.0,2959.1 L1283.0,2959.9 L1286.7,2959.4 L1287.7,2960.1 L1288.0,2959.6 L1288.7,2959.6 L1289.7,2960.3 L1290.7,2959.7 L1291.7,2959.6 L1292.7,2960.2 L1293.0,2960.0 L1293.7,2960.2 L1294.7,2959.8 L1295.7,2959.9 L1296.7,2960.3 L1297.7,2959.9 L1298.0,2960.4 L1298.7,2959.6 L1299.7,2960.2 L1303.0,2959.6 L1308.0,2960.0 L1313.0,2959.5 L1318.0,2959.7 L1323.0,2960.4 L1328.0,2959.9 L1333.0,2960.3 L1338.0,2959.8 L1343.0,2959.8 L1348.0,2959.6 L1353.0,2960.0 L1358.0,2960.3 L1363.0,2960.0 L1368.0,2959.9 L1373.0,2960.4 L1378.0,2960.3 L1383.0,2960.1 L1388.0,2959.6 L1393.0,2960.1 L1398.0,2959.9 L1403.0,2960.4 L1408.0,2959.9 L1413.0,2960.1 L1418.0,2960.1 L1423.0,2959.9 L1428.0,2960.0 L1433.0,2960.1 L1438.0,2960.3 L1443.0,2960.0 L1448.0,2959.9 L1453.0,2960.4 L1458.0,2959.6 L1463.0,2960.3 L1468.0,2960.1 L1473.0,2960.0 L1478.0,2959.9 L1483.0,2960.2 L1488.0,2960.3 L1493.0,2960.1 L1498.0,2960.2 L1503.0,2959.5 L1508.0,2959.7 L1513.0,2959.5 L1517.5,2960.2 L1518.0,2960.2 L1518.5,2959.5 L1519.5,2959.9 L1520.5,2959.9 L1521.5,2959.4 L1522.5,2959.7 L1523.0,2960.0 L1523.5,2959.9 L1524.5,2959.6 L1528.0,2959.9 L1533.0,2959.3 L1537.0,2959.1 L1537.5,2959.0 L1538.0,2959.4 L1538.5,2959.0 L1539.0,2959.0 L1539.5,2958.8 L1540.0,2958.3 L1540.5,2958.6 L1541.0,2958.1 L1541.5,2957.6 L1542.0,2956.6 L1542.5,2955.6 L1543.0,2954.8 L1543.5,2953.4 L1544.0,2951.4 L1544.5,2948.6 L1545.0,2945.5 L1545.5,2942.5 L1546.0,2939.4 L1546.5,2935.3 L1547.0,2932.5 L1547.5,2929.3 L1548.0,2927.4 L1548.5,2926.1 L1549.0,2926.1 L1549.5,2926.9 L1550.0,2928.8 L1550.5,2930.5 L1551.0,2931.7 L1551.5,2933.7 L1552.0,2935.9 L1552.5,2936.7 L1553.0,2938.2 L1553.5,2939.6 L1554.0,2940.7 L1554.5,2942.3 L1555.0,2944.0 L1555.4,2945.4 L1555.5,2946.3 L1556.0,2947.5 L1556.4,2948.9 L1556.5,2949.9 L1557.0,2951.2 L1557.4,2952.8 L1557.5,2952.9 L1558.0,2954.5 L1558.4,2955.0 L1558.5,2955.0 L1559.0,2956.5 L1559.4,2956.9 L1559.5,2957.1 L1560.0,2957.7 L1560.4,2958.2 L1561.4,2958.3 L1563.0,2958.8 L1568.0,2959.8 L1572.5,2959.5 L1573.0,2959.3 L1573.5,2959.6 L1574.4,2959.3 L1574.5,2959.8 L1574.9,2959.1 L1575.4,2959.8 L1575.5,2959.6 L1575.9,2959.4 L1576.4,2959.9 L1576.5,2959.3 L1576.9,2959.2 L1577.4,2959.0 L1577.5,2959.5 L1577.9,2959.6 L1578.0,2959.5 L1578.4,2959.3 L1578.5,2959.6 L1578.9,2958.9 L1579.4,2959.0 L1579.5,2959.3 L1579.9,2959.4 L1580.4,2958.9 L1580.5,2958.9 L1580.9,2958.8 L1581.4,2958.1 L1581.5,2958.5 L1581.9,2957.9 L1582.4,2957.0 L1582.5,2956.9 L1582.9,2956.7 L1583.0,2956.1 L1583.4,2955.4 L1583.5,2955.8 L1583.9,2954.9 L1584.4,2954.0 L1584.5,2954.0 L1584.9,2953.6 L1585.4,2952.2 L1585.9,2952.0 L1586.4,2951.5 L1586.9,2951.8 L1587.4,2952.0 L1587.9,2952.7 L1588.0,2952.6 L1588.4,2952.9 L1588.9,2953.2 L1589.4,2953.8 L1589.9,2953.9 L1590.4,2954.7 L1590.9,2955.0 L1591.4,2955.3 L1591.9,2955.0 L1592.4,2955.8 L1592.6,2956.0 L1592.9,2956.0 L1593.0,2956.4 L1593.4,2956.7 L1593.6,2956.8 L1593.9,2957.1 L1594.4,2957.4 L1594.6,2957.7 L1594.9,2957.3 L1595.4,2958.2 L1595.6,2958.4 L1595.9,2958.5 L1596.4,2958.4 L1596.6,2958.4 L1596.9,2959.0 L1597.4,2959.4 L1597.6,2958.9 L1597.9,2959.0 L1598.0,2959.0 L1598.4,2959.0 L1598.6,2959.5 L1603.0,2960.0 L1608.0,2959.8 L1611.4,2959.3 L1611.6,2959.5 L1612.1,2958.9 L1612.4,2959.6 L1612.6,2959.1 L1613.0,2958.8 L1613.1,2959.4 L1613.4,2958.9 L1613.6,2959.0 L1614.1,2958.7 L1614.4,2959.0 L1614.6,2959.1 L1615.1,2959.2 L1615.4,2958.4 L1615.6,2959.0 L1616.1,2958.2 L1616.4,2958.1 L1616.6,2958.4 L1617.1,2957.7 L1617.4,2957.4 L1617.6,2957.3 L1618.0,2956.4 L1618.1,2956.7 L1618.4,2955.6 L1618.6,2955.7 L1619.1,2954.4 L1619.4,2953.2 L1619.6,2952.1 L1620.1,2950.9 L1620.4,2948.9 L1620.6,2948.5 L1621.1,2946.1 L1621.4,2944.4 L1621.6,2944.0 L1622.1,2942.0 L1622.4,2940.7 L1622.6,2939.9 L1623.0,2938.9 L1623.1,2938.8 L1623.6,2937.8 L1624.1,2938.3 L1624.6,2939.0 L1625.1,2939.8 L1625.6,2941.1 L1626.1,2941.9 L1626.6,2943.7 L1627.1,2944.0 L1627.6,2945.3 L1628.0,2945.6 L1628.1,2946.0 L1628.6,2946.9 L1629.1,2947.7 L1629.6,2948.2 L1630.1,2949.0 L1630.6,2949.9 L1631.1,2951.3 L1631.6,2952.3 L1632.1,2953.4 L1632.6,2955.0 L1633.0,2955.6 L1633.1,2955.7 L1633.6,2956.3 L1634.1,2957.5 L1634.6,2957.5 L1635.1,2958.0 L1635.6,2958.6 L1638.0,2959.5 L1643.0,2960.1 L1648.0,2960.0 L1648.6,2960.2 L1649.6,2960.2 L1650.6,2960.0 L1651.6,2960.0 L1652.6,2959.4 L1653.0,2959.6 L1653.6,2959.4 L1654.6,2960.2 L1655.6,2960.1 L1656.6,2960.0 L1657.6,2959.7 L1658.0,2959.8 L1658.6,2959.6 L1659.6,2960.0 L1663.0,2960.4 L1668.0,2959.8 L1673.0,2959.5 L1678.0,2959.7 L1683.0,2959.8 L1688.0,2960.3 L1693.0,2960.2 L1698.0,2959.9 L1703.0,2959.6 L1708.0,2959.6 L1713.0,2959.7 L1718.0,2960.2 L1723.0,2960.0 L1728.0,2960.4 L1733.0,2960.4 L1738.0,2960.3 L1743.0,2960.0 L1748.0,2960.3 L1753.0,2959.7 L1758.0,2959.6 L1763.0,2960.0 L1768.0,2960.0 L1773.0,2959.7 L1778.0,2959.8 L1783.0,2959.6 L1788.0,2960.4 L1793.0,2960.2 L1798.0,2960.4 L1803.0,2960.4 L1808.0,2959.9 L1813.0,2960.2 L1816.0,2959.9 L1817.0,2960.3 L1818.0,2960.3 L1819.0,2959.7 L1820.0,2959.6 L1821.0,2959.7 L1822.0,2960.1 L1823.0,2959.9 L1828.0,2959.6 L1833.0,2960.3 L1838.0,2960.3 L1838.5,2960.0 L1839.0,2959.6 L1839.5,2960.4 L1840.0,2960.1 L1840.5,2959.6 L1841.0,2959.9 L1841.5,2960.1 L1842.0,2960.4 L1842.5,2960.0 L1843.0,2960.2 L1843.5,2959.8 L1844.0,2959.8 L1844.5,2960.5 L1845.0,2960.0 L1845.5,2959.8 L1846.0,2960.3 L1846.5,2959.9 L1847.0,2960.0 L1847.5,2960.3 L1848.0,2960.5 L1848.5,2960.6 L1849.0,2960.8 L1849.5,2960.6 L1850.0,2960.4 L1850.5,2961.1 L1851.0,2960.5 L1851.5,2960.9 L1852.0,2960.9 L1852.5,2961.1 L1853.0,2961.2 L1853.5,2960.7 L1854.0,2961.0 L1854.5,2961.0 L1855.0,2960.8 L1855.5,2960.4 L1856.0,2961.1 L1856.5,2960.8 L1857.0,2960.2 L1857.5,2960.4 L1858.0,2961.0 L1858.5,2960.3 L1859.0,2960.4 L1859.5,2960.7 L1860.0,2960.7 L1860.5,2960.5 L1861.0,2960.6 L1861.5,2959.9 L1862.0,2959.9 L1862.5,2960.7 L1863.0,2960.5 L1863.5,2959.7 L1864.0,2959.7 L1864.5,2959.9 L1865.0,2960.5 L1865.5,2959.8 L1866.0,2960.2 L1868.0,2960.4 L1873.0,2960.1 L1878.0,2960.4 L1881.0,2959.8 L1882.0,2959.7 L1883.0,2959.6 L1884.0,2960.2 L1885.0,2959.6 L1886.0,2960.4 L1887.0,2960.2 L1888.0,2959.7 L1889.0,2960.3 L1890.0,2959.7 L1891.0,2960.0 L1892.0,2959.6 L1893.0,2960.3 L1894.0,2960.4 L1898.0,2960.4 L1902.0,2959.6" fill="none" stroke="#505050" stroke-width="10" stroke-linejoin="round" stroke-linecap="butt"/>
<path d="M193.0,2593.7 L198.0,2593.4 L203.0,2593.7 L208.0,2593.4 L213.0,2593.5 L218.0,2593.5 L223.0,2593.7 L228.0,2593.0 L233.0,2593.0 L238.0,2593.5 L243.0,2593.2 L248.0,2593.3 L253.0,2593.0 L258.0,2593.6 L263.0,2593.0 L268.0,2593.7 L273.0,2593.7 L278.0,2593.4 L283.0,2593.1 L288.0,2593.6 L293.0,2593.2 L298.0,2593.4 L303.0,2593.1 L308.0,2593.9 L313.0,2593.5 L318.0,2593.3 L323.0,2593.1 L328.0,2593.6 L333.0,2593.8 L338.0,2593.8 L343.0,2593.1 L348.0,2593.3 L353.0,2593.3 L358.0,2593.7 L363.0,2593.1 L368.0,2593.6 L373.0,2593.9 L378.0,2593.7 L383.0,2593.0 L388.0,2593.1 L393.0,2593.1 L398.0,2593.6 L403.0,2593.6 L408.0,2593.5 L413.0,2593.4 L418.0,2593.4 L423.0,2593.6 L428.0,2593.6 L433.0,2593.8 L438.0,2593.7 L443.0,2593.7 L448.0,2593.8 L453.0,2593.8 L458.0,2593.7 L463.0,2593.0 L468.0,2593.6 L473.0,2593.8 L478.0,2593.4 L483.0,2593.8 L488.0,2593.2 L493.0,2593.8 L498.0,2593.4 L503.0,2593.6 L508.0,2593.2 L513.0,2593.2 L515.6,2593.2 L516.6,2593.1 L517.6,2592.9 L518.0,2593.2 L518.6,2593.7 L519.6,2593.4 L520.6,2593.6 L521.6,2593.4 L522.6,2593.4 L523.0,2593.5 L528.0,2592.7 L530.1,2591.7 L530.6,2591.3 L531.1,2591.0 L531.6,2590.0 L532.1,2589.1 L532.6,2587.9 L533.0,2585.9 L533.1,2584.8 L533.6,2581.3 L534.1,2576.2 L534.6,2570.0 L535.1,2562.9 L535.6,2555.8 L536.1,2549.6 L536.6,2546.5 L537.1,2544.8 L537.6,2546.3 L538.0,2548.6 L538.1,2549.5 L538.6,2554.5 L539.1,2559.3 L539.6,2565.5 L540.1,2571.3 L540.6,2576.4 L541.1,2581.2 L541.6,2584.2 L542.1,2587.3 L542.6,2589.0 L543.0,2590.3 L543.1,2589.7 L548.0,2592.5 L550.6,2592.8 L551.6,2593.4 L552.6,2592.7 L553.0,2592.9 L553.6,2593.4 L554.6,2593.6 L555.6,2592.9 L556.6,2593.2 L557.6,2593.4 L558.0,2593.5 L558.6,2593.5 L559.6,2593.5 L563.0,2593.1 L568.0,2593.2 L573.0,2593.0 L578.0,2593.6 L580.0,2593.1 L581.0,2593.2 L582.0,2593.8 L583.0,2593.5 L584.0,2593.4 L585.0,2593.5 L586.0,2593.4 L588.0,2593.5 L593.0,2592.9 L594.0,2592.6 L594.5,2592.5 L595.0,2592.4 L595.5,2592.6 L596.0,2592.1 L596.5,2591.7 L597.0,2591.5 L597.5,2591.0 L598.0,2589.5 L598.5,2587.4 L599.0,2585.7 L599.5,2582.9 L600.0,2580.5 L600.5,2578.8 L601.0,2577.7 L601.5,2577.6 L602.0,2577.8 L602.5,2579.1 L603.0,2579.9 L603.5,2582.4 L604.0,2583.7 L604.5,2586.0 L605.0,2586.9 L605.5,2589.1 L606.0,2589.8 L606.5,2591.3 L607.0,2592.0 L607.5,2592.4 L608.0,2592.3 L613.0,2592.8 L616.0,2593.0 L617.0,2593.7 L618.0,2593.0 L619.0,2593.5 L620.0,2593.4 L621.0,2593.5 L622.0,2593.1 L623.0,2593.0 L624.0,2593.0 L628.0,2593.8 L633.0,2593.2 L638.0,2593.4 L643.0,2593.2 L643.5,2592.8 L644.5,2592.7 L645.5,2592.6 L646.5,2593.3 L647.5,2592.5 L648.0,2593.3 L648.5,2592.7 L649.5,2592.9 L653.0,2591.8 L657.5,2590.5 L658.0,2589.5 L658.5,2589.0 L659.0,2588.1 L659.5,2586.1 L660.0,2583.7 L660.5,2580.1 L661.0,2573.5 L661.5,2564.7 L662.0,2553.2 L662.5,2538.4 L663.0,2522.6 L663.5,2507.2 L664.0,2494.7 L664.5,2486.7 L665.0,2484.6 L665.5,2487.4 L666.0,2494.6 L666.5,2503.2 L667.0,2514.6 L667.5,2526.3 L668.0,2537.5 L668.5,2548.7 L669.0,2559.3 L669.5,2567.7 L670.0,2575.0 L670.5,2580.5 L671.0,2583.6 L671.5,2586.2 L673.0,2589.9 L678.0,2592.0 L679.5,2592.3 L680.5,2592.6 L681.5,2592.4 L682.5,2592.5 L683.0,2592.8 L683.5,2592.9 L684.5,2593.4 L685.5,2593.1 L686.5,2592.7 L687.5,2592.9 L688.0,2593.4 L693.0,2593.3 L698.0,2593.7 L703.0,2593.8 L708.0,2593.8 L713.0,2593.1 L718.0,2593.9 L723.0,2593.5 L728.0,2593.3 L733.0,2593.2 L738.0,2593.9 L743.0,2593.3 L748.0,2593.2 L753.0,2593.4 L758.0,2594.0 L763.0,2593.5 L768.0,2593.8 L773.0,2593.2 L778.0,2593.5 L783.0,2593.4 L788.0,2593.3 L793.0,2593.7 L798.0,2593.5 L803.0,2593.3 L808.0,2594.0 L813.0,2593.6 L818.0,2593.3 L823.0,2593.2 L828.0,2593.7 L833.0,2593.6 L838.0,2593.2 L843.0,2593.6 L848.0,2593.8 L853.0,2593.7 L858.0,2593.4 L863.0,2593.6 L868.0,2593.7 L873.0,2593.8 L878.0,2593.3 L883.0,2593.9 L888.0,2594.0 L893.0,2593.9 L898.0,2594.0 L903.0,2593.5 L908.0,2594.0 L913.0,2593.4 L918.0,2593.4 L923.0,2593.7 L928.0,2594.0 L933.0,2593.3 L938.0,2593.4 L943.0,2593.2 L948.0,2593.6 L953.0,2593.3 L955.0,2593.3 L956.0,2593.8 L957.0,2593.7 L958.0,2594.0 L959.0,2593.5 L960.0,2593.8 L961.0,2593.2 L962.0,2594.0 L963.0,2593.4 L964.0,2593.6 L965.0,2593.6 L968.0,2594.0 L973.0,2593.5 L976.0,2593.8 L976.5,2593.4 L977.0,2593.0 L977.5,2593.6 L978.0,2592.9 L978.5,2593.5 L979.0,2592.9 L979.5,2592.6 L980.0,2593.0 L980.5,2592.1 L981.0,2591.7 L981.5,2591.2 L982.0,2590.8 L982.5,2589.4 L983.0,2588.8 L983.5,2587.6 L984.0,2587.2 L984.5,2585.5 L985.0,2585.2 L985.5,2584.2 L986.0,2583.9 L986.5,2583.8 L987.0,2583.9 L987.5,2583.7 L988.0,2584.2 L988.5,2584.6 L989.0,2586.1 L989.5,2586.1 L990.0,2586.9 L990.5,2588.0 L991.0,2588.8 L991.5,2589.9 L992.0,2589.8 L992.5,2590.6 L993.0,2591.1 L993.5,2591.9 L994.0,2592.2 L994.5,2592.4 L995.0,2593.1 L995.5,2593.1 L996.0,2593.4 L998.0,2593.8 L1003.0,2593.3 L1007.0,2594.0 L1008.0,2593.5 L1009.0,2593.2 L1010.0,2594.0 L1011.0,2593.3 L1012.0,2593.2 L1013.0,2593.4 L1014.0,2593.4 L1015.0,2594.1 L1016.0,2594.0 L1017.0,2593.6 L1018.0,2593.7 L1019.0,2594.0 L1020.0,2593.9 L1023.0,2593.8 L1028.0,2593.7 L1033.0,2593.3 L1038.0,2593.4 L1043.0,2593.8 L1048.0,2593.8 L1053.0,2594.0 L1058.0,2594.0 L1063.0,2594.1 L1068.0,2593.4 L1073.0,2593.3 L1078.0,2594.1 L1083.0,2593.8 L1088.0,2593.4 L1093.0,2593.9 L1098.0,2593.5 L1103.0,2593.5 L1108.0,2593.6 L1113.0,2593.7 L1118.0,2593.9 L1123.0,2593.3 L1128.0,2593.9 L1133.0,2593.8 L1138.0,2593.7 L1143.0,2593.9 L1148.0,2594.0 L1153.0,2593.3 L1158.0,2593.7 L1163.0,2593.9 L1168.0,2593.9 L1173.0,2593.9 L1178.0,2593.4 L1183.0,2594.1 L1188.0,2594.0 L1193.0,2593.5 L1198.0,2593.7 L1203.0,2594.1 L1208.0,2593.4 L1213.0,2593.6 L1218.0,2594.1 L1223.0,2594.0 L1228.0,2593.4 L1233.0,2593.8 L1236.8,2593.4 L1237.8,2593.6 L1238.0,2593.7 L1238.8,2593.1 L1239.8,2593.2 L1243.0,2593.0 L1248.0,2592.6 L1249.3,2592.1 L1249.8,2592.1 L1250.3,2592.1 L1250.8,2591.9 L1251.3,2591.4 L1251.8,2591.5 L1252.3,2591.2 L1252.8,2590.1 L1253.0,2589.4 L1253.3,2588.8 L1253.8,2586.3 L1254.3,2582.7 L1254.8,2578.1 L1255.3,2571.3 L1255.8,2564.2 L1256.3,2555.5 L1256.8,2548.1 L1257.3,2543.0 L1257.8,2540.3 L1258.0,2540.3 L1258.3,2541.1 L1258.8,2544.7 L1259.3,2549.9 L1259.8,2555.3 L1260.3,2558.7 L1260.8,2561.9 L1261.3,2563.1 L1261.8,2564.1 L1262.3,2566.2 L1262.8,2568.3 L1263.0,2569.8 L1263.3,2571.9 L1263.8,2575.5 L1264.3,2579.1 L1264.8,2582.5 L1265.3,2586.0 L1265.8,2588.4 L1266.3,2589.5 L1268.0,2591.6 L1273.0,2592.7 L1275.8,2593.0 L1276.8,2593.6 L1277.8,2593.0 L1278.0,2593.2 L1278.8,2593.2 L1279.8,2593.7 L1280.8,2594.0 L1281.8,2593.1 L1282.8,2593.2 L1283.0,2594.0 L1288.0,2594.1 L1293.0,2593.4 L1298.0,2593.6 L1303.0,2593.7 L1308.0,2593.6 L1313.0,2593.7 L1318.0,2593.7 L1323.0,2593.5 L1328.0,2593.4 L1333.0,2593.4 L1338.0,2593.5 L1343.0,2593.4 L1348.0,2593.9 L1353.0,2594.0 L1358.0,2593.6 L1363.0,2594.0 L1368.0,2594.0 L1373.0,2593.6 L1378.0,2593.8 L1383.0,2593.5 L1388.0,2594.2 L1392.6,2593.8 L1393.0,2593.4 L1393.6,2593.5 L1394.6,2593.9 L1395.6,2593.7 L1396.6,2594.0 L1397.6,2593.5 L1398.0,2594.0 L1398.6,2594.0 L1399.6,2593.4 L1400.6,2593.8 L1403.0,2593.5 L1408.0,2593.9 L1412.6,2593.9 L1413.0,2593.8 L1413.1,2593.3 L1413.6,2593.2 L1414.1,2593.7 L1414.6,2593.5 L1415.1,2593.1 L1415.6,2593.1 L1416.1,2593.4 L1416.6,2592.8 L1417.1,2593.1 L1417.6,2592.5 L1418.0,2592.3 L1418.1,2592.4 L1418.6,2592.1 L1419.1,2591.8 L1419.6,2590.5 L1420.1,2590.4 L1420.6,2589.1 L1421.1,2588.2 L1421.6,2587.6 L1422.1,2586.8 L1422.6,2586.0 L1423.0,2585.9 L1423.1,2585.1 L1423.6,2584.9 L1424.1,2585.1 L1424.6,2584.9 L1425.1,2585.1 L1425.6,2585.6 L1426.1,2586.6 L1426.6,2587.1 L1427.1,2587.5 L1427.6,2588.1 L1428.0,2588.3 L1428.1,2588.0 L1428.6,2588.4 L1429.1,2589.2 L1429.6,2589.1 L1430.1,2590.1 L1430.6,2590.2 L1431.1,2590.6 L1431.6,2591.5 L1432.1,2591.6 L1432.6,2592.7 L1433.0,2592.9 L1433.1,2592.6 L1433.6,2592.6 L1434.1,2592.7 L1434.6,2593.2 L1438.0,2593.6 L1443.0,2593.6 L1446.6,2593.9 L1447.6,2593.8 L1448.0,2594.0 L1448.6,2593.4 L1449.6,2593.4 L1450.6,2593.7 L1451.6,2593.8 L1452.6,2593.6 L1453.0,2593.9 L1453.6,2593.5 L1454.6,2593.6 L1455.6,2593.8 L1456.6,2594.0 L1457.6,2594.0 L1458.0,2593.7 L1458.6,2593.8 L1463.0,2594.2 L1468.0,2594.2 L1473.0,2593.9 L1478.0,2593.5 L1483.0,2593.8 L1488.0,2594.0 L1493.0,2593.6 L1498.0,2593.4 L1503.0,2594.3 L1508.0,2594.2 L1512.0,2593.5 L1513.0,2593.8 L1514.0,2593.9 L1515.0,2593.7 L1516.0,2593.5 L1517.0,2594.1 L1518.0,2594.1 L1519.0,2593.8 L1520.0,2593.5 L1521.0,2593.7 L1522.0,2593.5 L1523.0,2594.3 L1528.0,2593.4 L1533.0,2593.6 L1535.5,2594.1 L1536.0,2593.5 L1536.5,2593.5 L1537.0,2593.5 L1537.5,2593.5 L1538.0,2593.9 L1538.5,2594.1 L1539.0,2593.5 L1539.5,2593.5 L1540.0,2594.1 L1540.5,2593.8 L1541.0,2593.7 L1541.5,2593.5 L1542.0,2593.6 L1542.5,2594.3 L1543.0,2593.5 L1543.5,2593.7 L1544.0,2594.1 L1544.5,2594.2 L1545.0,2594.3 L1545.5,2593.9 L1546.0,2594.3 L1546.5,2594.0 L1547.0,2593.7 L1547.5,2593.9 L1548.0,2594.1 L1548.5,2594.2 L1549.0,2593.6 L1549.5,2593.7 L1550.0,2594.3 L1550.5,2593.6 L1550.8,2594.2 L1551.0,2593.8 L1551.5,2593.7 L1551.8,2593.7 L1552.0,2593.9 L1552.5,2594.3 L1552.8,2593.6 L1553.0,2594.2 L1553.5,2593.7 L1553.8,2593.6 L1554.0,2594.1 L1554.5,2593.7 L1554.8,2593.6 L1555.0,2593.8 L1555.5,2594.1 L1555.8,2594.2 L1556.0,2593.9 L1556.5,2593.4 L1556.8,2594.1 L1557.0,2593.9 L1557.5,2594.2 L1558.0,2594.2 L1558.5,2593.6 L1559.0,2594.1 L1559.5,2594.1 L1560.0,2593.6 L1560.5,2593.6 L1563.0,2593.6 L1568.0,2593.5 L1569.8,2593.4 L1570.3,2593.2 L1570.8,2593.3 L1571.3,2593.8 L1571.8,2593.4 L1572.3,2593.5 L1572.8,2593.7 L1573.0,2593.5 L1573.3,2593.0 L1573.8,2593.6 L1574.0,2593.4 L1574.3,2593.5 L1574.8,2593.1 L1575.0,2593.0 L1575.3,2592.9 L1575.8,2592.1 L1576.0,2592.3 L1576.3,2591.7 L1576.8,2591.6 L1577.0,2590.6 L1577.3,2590.5 L1577.8,2589.4 L1578.0,2589.4 L1578.3,2588.3 L1578.8,2587.5 L1579.0,2587.0 L1579.3,2586.2 L1579.8,2584.2 L1580.0,2584.4 L1580.3,2583.5 L1580.8,2582.4 L1581.0,2582.0 L1581.3,2581.0 L1581.8,2581.4 L1582.0,2581.0 L1582.3,2581.0 L1582.8,2581.1 L1583.0,2581.7 L1583.3,2582.1 L1583.8,2582.8 L1584.0,2582.5 L1584.3,2583.1 L1584.8,2583.7 L1585.0,2583.9 L1585.3,2584.4 L1585.8,2584.7 L1586.0,2585.6 L1586.3,2585.4 L1586.8,2585.7 L1587.0,2585.9 L1587.3,2586.8 L1587.8,2586.8 L1588.0,2587.3 L1588.3,2587.6 L1588.8,2588.6 L1589.0,2589.0 L1589.3,2588.8 L1589.8,2589.8 L1590.3,2590.7 L1590.8,2591.0 L1591.3,2591.9 L1591.8,2592.2 L1592.3,2592.2 L1592.6,2592.9 L1592.8,2592.7 L1593.0,2592.4 L1593.3,2593.0 L1593.6,2593.3 L1593.8,2593.1 L1594.6,2593.2 L1595.6,2593.3 L1596.6,2593.8 L1597.6,2593.7 L1598.0,2593.3 L1598.6,2593.4 L1603.0,2593.5 L1606.8,2594.1 L1607.8,2593.8 L1608.0,2593.3 L1608.8,2594.0 L1609.8,2593.2 L1610.8,2593.7 L1611.6,2593.5 L1611.8,2593.7 L1612.1,2593.5 L1612.6,2593.2 L1612.8,2593.5 L1613.0,2593.8 L1613.1,2593.8 L1613.6,2593.3 L1613.8,2593.2 L1614.1,2593.7 L1614.6,2593.7 L1614.8,2593.1 L1615.1,2593.7 L1615.6,2593.7 L1615.8,2593.2 L1616.1,2593.1 L1616.6,2593.2 L1616.8,2593.3 L1617.1,2592.5 L1617.6,2592.3 L1617.8,2592.2 L1618.0,2592.4 L1618.1,2591.9 L1618.6,2591.7 L1619.1,2591.0 L1619.6,2590.3 L1620.1,2588.9 L1620.6,2588.6 L1621.1,2587.5 L1621.6,2586.0 L1622.1,2585.1 L1622.6,2583.7 L1623.0,2583.8 L1623.1,2583.4 L1623.6,2583.2 L1624.1,2583.3 L1624.6,2583.1 L1625.1,2584.1 L1625.6,2584.1 L1626.1,2584.6 L1626.6,2585.6 L1627.1,2586.5 L1627.6,2587.0 L1628.0,2587.3 L1628.1,2587.0 L1628.6,2587.7 L1629.1,2587.7 L1629.6,2587.8 L1630.1,2588.7 L1630.6,2589.3 L1631.1,2589.5 L1631.6,2590.3 L1632.1,2590.5 L1632.6,2591.1 L1633.0,2591.6 L1633.1,2591.8 L1633.6,2592.2 L1634.1,2592.2 L1634.6,2592.4 L1635.1,2592.9 L1635.6,2593.4 L1638.0,2593.8 L1643.0,2593.5 L1648.0,2593.6 L1648.6,2593.8 L1649.6,2593.5 L1650.6,2593.9 L1651.6,2594.2 L1652.6,2593.6 L1653.0,2593.9 L1653.6,2594.0 L1654.6,2594.1 L1655.6,2594.0 L1656.6,2594.0 L1657.6,2593.6 L1658.0,2594.2 L1658.6,2594.2 L1659.6,2593.5 L1663.0,2594.3 L1668.0,2593.8 L1673.0,2593.5 L1678.0,2593.5 L1683.0,2594.2 L1688.0,2594.1 L1693.0,2593.6 L1698.0,2593.9 L1703.0,2594.0 L1708.0,2594.4 L1713.0,2593.8 L1718.0,2594.2 L1723.0,2593.7 L1728.0,2593.7 L1733.0,2593.6 L1738.0,2593.9 L1743.0,2594.0 L1748.0,2593.8 L1753.0,2593.6 L1758.0,2593.7 L1763.0,2593.6 L1768.0,2593.7 L1773.0,2593.8 L1778.0,2594.0 L1783.0,2593.7 L1788.0,2593.9 L1793.0,2593.9 L1798.0,2594.4 L1803.0,2593.9 L1808.0,2594.4 L1813.0,2593.9 L1816.0,2593.7 L1817.0,2594.0 L1818.0,2593.6 L1819.0,2593.7 L1820.0,2593.6 L1821.0,2594.1 L1822.0,2594.4 L1823.0,2593.9 L1828.0,2593.8 L1833.0,2593.9 L1838.0,2593.8 L1838.5,2594.1 L1839.0,2593.9 L1839.5,2593.7 L1840.0,2594.3 L1840.5,2594.0 L1841.0,2593.5 L1841.5,2594.3 L1842.0,2594.2 L1842.5,2593.8 L1843.0,2594.1 L1843.5,2594.4 L1844.0,2593.9 L1844.5,2593.9 L1845.0,2593.8 L1845.5,2594.0 L1846.0,2594.1 L1846.5,2594.2 L1847.0,2594.4 L1847.5,2593.7 L1848.0,2593.9 L1848.5,2594.3 L1849.0,2594.3 L1849.5,2594.1 L1850.0,2594.2 L1850.5,2593.9 L1851.0,2594.4 L1851.5,2594.0 L1852.0,2593.9 L1852.5,2593.7 L1853.0,2593.7 L1853.5,2594.4 L1854.0,2594.3 L1854.5,2593.6 L1855.0,2593.8 L1855.5,2594.0 L1856.0,2594.0 L1856.5,2593.9 L1857.0,2594.3 L1857.5,2593.9 L1858.0,2594.0 L1858.5,2594.4 L1859.0,2594.1 L1859.5,2594.0 L1860.0,2593.8 L1860.5,2593.9 L1861.0,2594.1 L1861.5,2594.2 L1862.0,2593.8 L1862.5,2593.9 L1863.0,2593.9 L1863.5,2593.9 L1864.0,2594.4 L1864.5,2594.0 L1865.0,2593.8 L1865.5,2593.8 L1866.0,2594.3 L1868.0,2593.7 L1873.0,2594.2 L1878.0,2593.6 L1881.0,2593.7 L1882.0,2593.6 L1883.0,2594.3 L1884.0,2593.7 L1885.0,2593.7 L1886.0,2593.6 L1887.0,2593.8 L1888.0,2594.2 L1889.0,2594.2 L1890.0,2594.4 L1891.0,2594.4 L1892.0,2594.0 L1893.0,2594.4 L1894.0,2593.6 L1898.0,2594.4 L1902.0,2593.9" fill="none" stroke="#fd3c3c" stroke-width="10" stroke-linejoin="round" stroke-linecap="butt"/>
<path d="M193.0,2401.7 L198.0,2402.2 L203.0,2402.3 L208.0,2401.9 L213.0,2401.7 L218.0,2402.4 L223.0,2402.3 L228.0,2402.1 L233.0,2402.5 L238.0,2401.6 L243.0,2401.7 L248.0,2401.7 L253.0,2401.6 L258.0,2402.3 L263.0,2402.2 L268.0,2401.7 L273.0,2401.8 L278.0,2401.8 L283.0,2402.2 L288.0,2402.3 L293.0,2402.5 L298.0,2402.0 L303.0,2402.6 L308.0,2402.1 L313.0,2402.0 L318.0,2401.9 L323.0,2401.9 L328.0,2402.6 L333.0,2402.6 L338.0,2402.3 L343.0,2401.9 L348.0,2401.9 L353.0,2401.9 L358.0,2402.1 L363.0,2402.4 L368.0,2401.8 L373.0,2402.2 L378.0,2402.4 L383.0,2401.8 L388.0,2402.2 L393.0,2402.5 L398.0,2402.3 L403.0,2402.2 L408.0,2402.6 L413.0,2402.3 L418.0,2402.1 L423.0,2402.2 L428.0,2402.7 L433.0,2402.6 L438.0,2402.6 L443.0,2402.3 L448.0,2402.0 L453.0,2402.0 L458.0,2402.2 L463.0,2402.5 L468.0,2401.9 L473.0,2402.6 L478.0,2402.6 L483.0,2402.3 L488.0,2401.9 L493.0,2402.6 L498.0,2402.2 L503.0,2402.4 L508.0,2402.3 L513.0,2402.5 L517.0,2402.1 L518.0,2402.6 L519.0,2402.6 L520.0,2402.6 L521.0,2402.3 L522.0,2402.0 L523.0,2402.0 L524.0,2401.9 L528.0,2402.2 L531.5,2401.5 L532.0,2401.3 L532.5,2401.0 L533.0,2400.6 L533.5,2399.6 L534.0,2398.0 L534.5,2396.5 L535.0,2393.3 L535.5,2390.0 L536.0,2385.1 L536.5,2380.8 L537.0,2375.6 L537.5,2371.3 L538.0,2369.2 L538.5,2367.6 L539.0,2369.2 L539.5,2371.4 L540.0,2374.1 L540.5,2378.6 L541.0,2382.5 L541.5,2386.9 L542.0,2390.3 L542.5,2393.3 L543.0,2396.2 L543.5,2397.3 L544.0,2399.3 L544.5,2399.6 L548.0,2401.4 L552.0,2401.7 L553.0,2402.4 L554.0,2402.0 L555.0,2402.3 L556.0,2401.9 L557.0,2402.4 L558.0,2402.3 L559.0,2401.9 L560.0,2402.2 L561.0,2402.4 L563.0,2402.0 L568.0,2402.4 L573.0,2402.1 L578.0,2402.2 L581.5,2402.6 L582.5,2402.7 L583.0,2402.7 L583.5,2402.2 L584.5,2402.3 L585.5,2402.5 L586.5,2402.4 L587.5,2402.1 L588.0,2402.5 L593.0,2401.8 L595.5,2402.0 L596.0,2401.4 L596.5,2401.0 L597.0,2401.3 L597.5,2400.4 L598.0,2400.2 L598.5,2398.7 L599.0,2398.1 L599.5,2395.5 L600.0,2392.9 L600.5,2388.9 L601.0,2385.5 L601.5,2381.5 L602.0,2378.3 L602.5,2376.8 L603.0,2375.5 L603.5,2376.5 L604.0,2377.9 L604.5,2381.0 L605.0,2383.8 L605.5,2386.1 L606.0,2389.4 L606.5,2392.2 L607.0,2394.9 L607.5,2397.0 L608.0,2398.2 L608.5,2399.9 L609.0,2400.0 L609.5,2400.5 L613.0,2402.1 L617.5,2401.7 L618.0,2401.8 L618.5,2402.1 L619.5,2402.0 L620.5,2401.9 L621.5,2402.6 L622.5,2402.2 L623.0,2402.4 L623.5,2402.0 L624.5,2402.6 L625.5,2401.9 L628.0,2402.5 L633.0,2402.2 L638.0,2402.5 L643.0,2402.1 L646.0,2401.8 L647.0,2401.7 L648.0,2401.9 L649.0,2401.4 L650.0,2401.0 L651.0,2401.6 L652.0,2401.3 L653.0,2401.0 L658.0,2399.0 L660.0,2396.5 L660.5,2395.8 L661.0,2395.0 L661.5,2393.3 L662.0,2390.5 L662.5,2385.4 L663.0,2378.8 L663.5,2367.8 L664.0,2352.1 L664.5,2331.2 L665.0,2306.0 L665.5,2278.6 L666.0,2251.8 L666.5,2229.4 L667.0,2215.6 L667.5,2211.7 L668.0,2216.9 L668.5,2228.7 L669.0,2244.7 L669.5,2264.3 L670.0,2284.0 L670.5,2305.1 L671.0,2324.9 L671.5,2342.1 L672.0,2357.8 L672.5,2370.4 L673.0,2379.1 L673.5,2385.8 L674.0,2390.0 L678.0,2398.6 L682.0,2400.5 L683.0,2400.6 L684.0,2401.0 L685.0,2401.4 L686.0,2401.5 L687.0,2402.0 L688.0,2401.8 L689.0,2401.6 L690.0,2402.2 L693.0,2402.1 L698.0,2402.2 L703.0,2402.6 L708.0,2402.5 L713.0,2402.3 L718.0,2402.6 L723.0,2402.3 L728.0,2402.9 L733.0,2402.3 L738.0,2403.0 L743.0,2402.2 L748.0,2402.1 L753.0,2402.6 L758.0,2402.3 L763.0,2402.6 L768.0,2402.3 L773.0,2402.9 L778.0,2402.8 L783.0,2402.8 L788.0,2403.0 L793.0,2403.1 L798.0,2402.8 L803.0,2402.9 L808.0,2402.2 L813.0,2402.3 L818.0,2402.6 L823.0,2403.1 L828.0,2402.6 L833.0,2402.8 L838.0,2402.3 L843.0,2402.7 L848.0,2403.1 L853.0,2402.8 L858.0,2403.1 L863.0,2402.3 L868.0,2402.5 L873.0,2402.5 L878.0,2403.1 L883.0,2402.4 L888.0,2403.2 L893.0,2402.6 L898.0,2403.1 L903.0,2402.8 L908.0,2402.7 L913.0,2403.2 L918.0,2402.7 L923.0,2403.0 L928.0,2402.4 L933.0,2403.1 L938.0,2403.3 L943.0,2402.5 L948.0,2403.0 L953.0,2402.6 L958.0,2402.5 L963.0,2402.7 L967.5,2402.9 L968.0,2403.1 L968.5,2403.2 L969.5,2403.1 L970.5,2402.8 L971.5,2402.8 L973.0,2402.3 L978.0,2402.5 L980.5,2401.9 L981.0,2401.7 L981.5,2402.0 L982.0,2401.2 L982.5,2400.9 L983.0,2400.5 L983.5,2399.8 L984.0,2399.2 L984.5,2397.8 L985.0,2394.8 L985.5,2391.6 L986.0,2387.1 L986.5,2381.5 L987.0,2375.3 L987.5,2369.8 L988.0,2365.0 L988.5,2362.7 L989.0,2363.0 L989.5,2364.6 L990.0,2368.0 L990.5,2370.7 L991.0,2374.2 L991.5,2376.3 L992.0,2378.7 L992.5,2381.7 L993.0,2384.7 L993.5,2387.8 L994.0,2391.4 L994.5,2393.8 L995.0,2396.6 L995.5,2398.5 L996.0,2399.5 L996.5,2400.4 L998.0,2402.0 L1003.0,2402.6 L1005.5,2402.3 L1006.5,2402.3 L1007.5,2402.3 L1008.0,2402.5 L1008.5,2402.3 L1009.5,2402.9 L1010.5,2402.7 L1011.5,2402.6 L1012.5,2402.8 L1013.0,2403.2 L1018.0,2402.6 L1023.0,2402.6 L1028.0,2402.7 L1033.0,2402.8 L1038.0,2403.3 L1043.0,2403.1 L1048.0,2402.9 L1053.0,2402.7 L1058.0,2402.6 L1063.0,2402.7 L1068.0,2403.3 L1073.0,2403.1 L1078.0,2402.7 L1083.0,2403.1 L1088.0,2402.6 L1093.0,2403.0 L1098.0,2402.9 L1103.0,2402.7 L1108.0,2403.3 L1113.0,2403.3 L1118.0,2403.1 L1123.0,2402.8 L1128.0,2403.2 L1133.0,2403.0 L1138.0,2403.2 L1143.0,2402.7 L1148.0,2403.5 L1153.0,2402.7 L1158.0,2402.9 L1163.0,2403.0 L1168.0,2402.9 L1173.0,2402.8 L1178.0,2403.3 L1183.0,2403.6 L1188.0,2403.0 L1193.0,2402.9 L1198.0,2403.3 L1203.0,2402.9 L1208.0,2403.1 L1213.0,2403.3 L1218.0,2403.1 L1223.0,2402.8 L1228.0,2402.8 L1233.0,2403.2 L1238.0,2403.5 L1240.6,2403.5 L1241.6,2402.7 L1242.6,2403.0 L1243.0,2403.0 L1243.6,2402.8 L1248.0,2403.1 L1253.0,2402.5 L1253.1,2402.8 L1253.6,2402.2 L1254.1,2402.7 L1254.6,2402.5 L1255.1,2402.0 L1255.6,2401.5 L1256.1,2401.4 L1256.6,2400.6 L1257.1,2400.2 L1257.6,2398.9 L1258.0,2397.2 L1258.1,2397.1 L1258.6,2393.3 L1259.1,2390.0 L1259.6,2385.4 L1260.1,2379.8 L1260.6,2375.3 L1261.1,2371.7 L1261.6,2370.6 L1262.1,2371.3 L1262.6,2373.2 L1263.0,2376.0 L1263.1,2376.3 L1263.6,2379.8 L1264.1,2381.9 L1264.6,2384.2 L1265.1,2384.6 L1265.6,2384.9 L1266.1,2385.9 L1266.6,2387.9 L1267.1,2390.0 L1267.6,2392.1 L1268.0,2393.6 L1268.1,2394.8 L1268.6,2396.8 L1269.1,2398.1 L1269.6,2399.7 L1270.1,2400.9 L1273.0,2402.0 L1278.0,2402.5 L1279.6,2402.9 L1280.6,2403.4 L1281.6,2403.5 L1282.6,2402.9 L1283.0,2403.5 L1283.6,2403.4 L1284.6,2403.4 L1285.6,2403.2 L1286.6,2403.6 L1288.0,2403.3 L1293.0,2403.6 L1298.0,2403.3 L1303.0,2403.0 L1308.0,2403.3 L1313.0,2403.3 L1318.0,2403.1 L1323.0,2403.2 L1328.0,2403.3 L1333.0,2403.4 L1338.0,2403.1 L1343.0,2403.1 L1348.0,2403.3 L1353.0,2403.3 L1358.0,2403.3 L1363.0,2403.5 L1368.0,2403.1 L1373.0,2403.4 L1378.0,2403.1 L1383.0,2403.6 L1388.0,2403.5 L1393.0,2403.6 L1398.0,2403.3 L1403.0,2403.0 L1405.0,2403.6 L1406.0,2403.2 L1408.0,2403.1 L1413.0,2402.8 L1416.5,2402.6 L1417.0,2402.8 L1417.5,2402.8 L1418.0,2402.4 L1418.5,2402.6 L1419.0,2401.9 L1419.5,2402.0 L1420.0,2401.6 L1420.5,2401.2 L1421.0,2400.7 L1421.5,2400.0 L1422.0,2398.4 L1422.5,2395.6 L1423.0,2392.2 L1423.5,2388.2 L1424.0,2382.6 L1424.5,2376.9 L1425.0,2371.6 L1425.5,2367.8 L1426.0,2365.8 L1426.5,2366.5 L1427.0,2369.8 L1427.5,2373.6 L1428.0,2378.6 L1428.5,2381.6 L1429.0,2383.8 L1429.5,2384.9 L1430.0,2384.7 L1430.5,2384.1 L1431.0,2384.5 L1431.5,2385.5 L1432.0,2388.1 L1432.5,2390.6 L1433.0,2393.1 L1433.5,2395.6 L1434.0,2397.6 L1434.5,2399.4 L1435.0,2400.8 L1435.5,2401.7 L1438.0,2402.9 L1443.0,2403.4 L1446.0,2403.1 L1447.0,2403.2 L1448.0,2403.1 L1449.0,2403.7 L1450.0,2403.0 L1451.0,2403.0 L1452.0,2403.1 L1453.0,2403.7 L1458.0,2403.7 L1463.0,2403.3 L1468.0,2403.7 L1473.0,2403.8 L1478.0,2403.4 L1483.0,2403.2 L1488.0,2403.7 L1493.0,2403.4 L1498.0,2403.2 L1503.0,2403.9 L1508.0,2403.5 L1512.0,2403.4 L1513.0,2403.6 L1514.0,2403.3 L1515.0,2403.1 L1516.0,2403.4 L1517.0,2403.4 L1518.0,2403.1 L1519.0,2403.4 L1520.0,2403.8 L1521.0,2403.4 L1522.0,2403.7 L1523.0,2403.6 L1528.0,2403.3 L1533.0,2403.1 L1535.5,2403.7 L1536.0,2403.7 L1536.5,2403.4 L1537.0,2403.3 L1537.5,2403.9 L1538.0,2403.9 L1538.5,2403.3 L1539.0,2403.6 L1539.5,2403.6 L1540.0,2403.4 L1540.5,2403.2 L1541.0,2403.4 L1541.5,2403.7 L1542.0,2403.7 L1542.5,2403.6 L1543.0,2403.3 L1543.5,2403.4 L1544.0,2403.5 L1544.5,2403.7 L1545.0,2403.7 L1545.5,2404.2 L1546.0,2403.5 L1546.5,2404.3 L1547.0,2403.7 L1547.5,2404.3 L1548.0,2403.7 L1548.5,2404.0 L1549.0,2403.8 L1549.5,2403.5 L1550.0,2404.2 L1550.5,2404.2 L1551.0,2403.7 L1551.5,2404.1 L1552.0,2403.8 L1552.5,2404.3 L1553.0,2403.4 L1553.5,2403.7 L1554.0,2403.5 L1554.5,2403.8 L1555.0,2404.0 L1555.5,2404.0 L1556.0,2403.7 L1556.5,2403.5 L1557.0,2403.9 L1557.5,2403.3 L1558.0,2403.4 L1558.5,2403.8 L1559.0,2403.5 L1559.5,2404.0 L1560.0,2403.2 L1560.5,2403.5 L1563.0,2403.3 L1564.0,2403.1 L1568.0,2403.1 L1573.0,2402.9 L1574.0,2403.2 L1575.0,2403.1 L1575.5,2403.2 L1576.0,2402.9 L1576.5,2403.3 L1577.0,2403.0 L1577.5,2403.4 L1578.0,2402.6 L1578.5,2402.8 L1579.0,2402.6 L1579.5,2402.3 L1580.0,2402.3 L1580.5,2401.2 L1581.0,2400.8 L1581.5,2398.9 L1582.0,2396.8 L1582.5,2394.3 L1583.0,2391.0 L1583.5,2387.2 L1584.0,2383.8 L1584.5,2382.3 L1585.0,2380.9 L1585.5,2381.3 L1586.0,2383.8 L1586.5,2386.4 L1587.0,2389.1 L1587.5,2391.5 L1588.0,2393.5 L1588.5,2393.6 L1589.0,2393.6 L1589.5,2393.6 L1590.0,2392.5 L1590.5,2392.5 L1591.0,2392.7 L1591.5,2394.3 L1592.0,2395.7 L1592.5,2397.2 L1593.0,2398.7 L1593.5,2399.9 L1594.0,2401.4 L1594.5,2401.8 L1595.0,2402.6 L1596.0,2402.7 L1597.0,2403.2 L1598.0,2402.7 L1599.0,2403.0 L1600.0,2403.7 L1603.0,2403.6 L1606.0,2403.6 L1607.0,2403.4 L1608.0,2403.4 L1609.0,2403.2 L1610.0,2403.2 L1611.0,2403.6 L1613.0,2403.6 L1613.5,2403.2 L1614.0,2403.5 L1614.5,2403.1 L1615.0,2403.5 L1615.5,2403.1 L1616.0,2403.3 L1616.5,2403.1 L1617.0,2403.3 L1617.5,2402.9 L1618.0,2403.1 L1618.5,2403.1 L1619.0,2402.5 L1619.5,2402.4 L1620.0,2402.4 L1620.5,2401.9 L1621.0,2401.5 L1621.5,2401.0 L1622.0,2400.2 L1622.5,2399.2 L1623.0,2398.7 L1623.5,2398.4 L1624.0,2397.6 L1624.5,2397.4 L1625.0,2396.9 L1625.5,2396.9 L1626.0,2397.6 L1626.5,2397.7 L1627.0,2397.9 L1627.5,2397.8 L1628.0,2398.7 L1628.5,2398.5 L1629.0,2399.6 L1629.5,2399.9 L1630.0,2399.9 L1630.5,2399.7 L1631.0,2400.4 L1631.5,2400.1 L1632.0,2401.0 L1632.5,2401.1 L1633.0,2401.0 L1633.5,2402.1 L1634.0,2402.0 L1634.5,2402.7 L1635.0,2402.8 L1635.5,2402.9 L1636.0,2403.3 L1636.5,2402.9 L1637.0,2403.6 L1638.0,2403.2 L1643.0,2403.1 L1648.0,2403.5 L1650.0,2403.2 L1651.0,2403.3 L1652.0,2403.8 L1653.0,2403.3 L1654.0,2403.3 L1655.0,2403.5 L1656.0,2403.5 L1657.0,2404.0 L1658.0,2404.0 L1659.0,2404.0 L1660.0,2404.1 L1661.0,2403.6 L1663.0,2404.0 L1668.0,2403.5 L1673.0,2404.1 L1678.0,2404.0 L1683.0,2403.9 L1688.0,2403.5 L1693.0,2403.4 L1698.0,2404.1 L1703.0,2403.8 L1708.0,2403.9 L1713.0,2404.1 L1718.0,2403.5 L1723.0,2404.0 L1728.0,2403.8 L1733.0,2404.1 L1738.0,2403.8 L1743.0,2403.5 L1748.0,2404.2 L1753.0,2403.6 L1758.0,2404.0 L1763.0,2404.1 L1768.0,2403.6 L1773.0,2404.0 L1778.0,2403.8 L1783.0,2403.6 L1788.0,2403.6 L1793.0,2404.3 L1798.0,2403.8 L1803.0,2403.9 L1808.0,2403.9 L1813.0,2403.5 L1816.0,2404.1 L1817.0,2404.1 L1818.0,2404.2 L1819.0,2403.8 L1820.0,2403.6 L1821.0,2403.8 L1822.0,2404.1 L1823.0,2404.1 L1828.0,2403.8 L1833.0,2404.0 L1838.0,2403.6 L1838.5,2404.3 L1839.0,2403.9 L1839.5,2404.0 L1840.0,2404.2 L1840.5,2403.7 L1841.0,2404.2 L1841.5,2403.8 L1842.0,2404.3 L1842.5,2403.6 L1843.0,2403.8 L1843.5,2404.1 L1844.0,2404.0 L1844.5,2403.9 L1845.0,2404.1 L1845.5,2403.8 L1846.0,2404.1 L1846.5,2403.7 L1847.0,2404.5 L1847.5,2404.1 L1848.0,2404.7 L1848.5,2404.5 L1849.0,2404.7 L1849.5,2404.8 L1850.0,2404.4 L1850.5,2405.1 L1851.0,2404.7 L1851.5,2405.3 L1852.0,2405.3 L1852.5,2405.2 L1853.0,2405.3 L1853.5,2404.9 L1854.0,2405.1 L1854.5,2405.3 L1855.0,2404.5 L1855.5,2404.4 L1856.0,2404.6 L1856.5,2404.7 L1857.0,2404.3 L1857.5,2404.3 L1858.0,2404.9 L1858.5,2404.4 L1859.0,2404.2 L1859.5,2404.2 L1860.0,2404.5 L1860.5,2404.1 L1861.0,2404.3 L1861.5,2404.3 L1862.0,2404.2 L1862.5,2404.2 L1863.0,2404.5 L1863.5,2403.7 L1864.0,2404.5 L1864.5,2403.8 L1865.0,2403.6 L1865.5,2404.3 L1866.0,2404.1 L1868.0,2404.0 L1873.0,2403.7 L1878.0,2404.2 L1881.0,2403.8 L1882.0,2404.2 L1883.0,2403.7 L1884.0,2404.0 L1885.0,2404.1 L1886.0,2403.9 L1887.0,2404.0 L1888.0,2403.6 L1889.0,2404.1 L1890.0,2404.2 L1891.0,2403.7 L1892.0,2404.0 L1893.0,2404.2 L1894.0,2403.6 L1898.0,2404.3 L1902.0,2404.3" fill="none" stroke="#006ee4" stroke-width="10" stroke-linejoin="round" stroke-linecap="butt"/>
<path d="M193.0,2151.6 L198.0,2151.8 L203.0,2151.6 L208.0,2151.8 L213.0,2151.6 L218.0,2152.0 L223.0,2151.8 L228.0,2151.8 L233.0,2152.0 L238.0,2151.9 L243.0,2152.3 L248.0,2152.2 L253.0,2151.7 L258.0,2151.8 L263.0,2151.6 L268.0,2151.9 L273.0,2151.7 L278.0,2152.2 L283.0,2152.3 L288.0,2152.5 L293.0,2151.8 L298.0,2151.6 L303.0,2152.3 L308.0,2152.0 L313.0,2152.5 L318.0,2152.0 L323.0,2151.9 L328.0,2151.7 L333.0,2152.5 L338.0,2152.1 L343.0,2152.0 L348.0,2152.0 L353.0,2152.3 L358.0,2152.4 L363.0,2152.1 L368.0,2151.8 L373.0,2152.0 L378.0,2152.5 L383.0,2152.0 L388.0,2152.2 L393.0,2152.2 L398.0,2152.1 L403.0,2152.2 L408.0,2151.9 L413.0,2152.2 L418.0,2152.4 L423.0,2151.7 L428.0,2152.0 L433.0,2152.5 L438.0,2152.6 L443.0,2151.7 L448.0,2152.2 L453.0,2152.3 L458.0,2152.4 L463.0,2152.1 L468.0,2151.8 L473.0,2152.0 L478.0,2152.3 L483.0,2152.3 L488.0,2151.9 L493.0,2152.3 L498.0,2152.3 L503.0,2152.3 L508.0,2151.7 L513.0,2152.0 L518.0,2151.9 L519.0,2152.1 L520.0,2151.9 L521.0,2151.7 L522.0,2152.1 L523.0,2151.8 L524.0,2152.2 L525.0,2151.7 L526.0,2151.9 L528.0,2152.0 L533.0,2150.7 L533.5,2151.1 L534.0,2150.3 L534.5,2150.7 L535.0,2149.4 L535.5,2149.1 L536.0,2147.4 L536.5,2145.2 L537.0,2142.4 L537.5,2138.5 L538.0,2133.5 L538.5,2127.8 L539.0,2122.8 L539.5,2118.1 L540.0,2115.7 L540.5,2114.3 L541.0,2115.3 L541.5,2117.6 L542.0,2121.9 L542.5,2125.6 L543.0,2130.4 L543.5,2135.0 L544.0,2138.7 L544.5,2142.4 L545.0,2144.7 L545.5,2146.7 L546.0,2148.1 L546.5,2149.4 L548.0,2151.2 L553.0,2151.4 L554.0,2151.7 L555.0,2152.1 L556.0,2151.7 L557.0,2151.6 L558.0,2151.9 L559.0,2151.9 L560.0,2152.4 L561.0,2152.3 L562.0,2151.8 L563.0,2152.1 L568.0,2152.0 L573.0,2151.6 L578.0,2152.0 L583.0,2152.4 L584.0,2151.8 L585.0,2152.1 L586.0,2152.2 L587.0,2151.6 L588.0,2152.3 L589.0,2151.6 L593.0,2151.6 L597.0,2151.4 L597.5,2150.7 L598.0,2150.8 L598.5,2150.3 L599.0,2150.2 L599.5,2149.1 L600.0,2148.1 L600.5,2146.5 L601.0,2143.9 L601.5,2140.7 L602.0,2136.8 L602.5,2132.7 L603.0,2128.1 L603.5,2125.2 L604.0,2122.5 L604.5,2121.7 L605.0,2122.4 L605.5,2124.9 L606.0,2126.9 L606.5,2130.7 L607.0,2133.6 L607.5,2137.8 L608.0,2140.5 L608.5,2143.5 L609.0,2146.0 L609.5,2147.1 L610.0,2148.4 L610.5,2149.9 L611.0,2150.4 L613.0,2151.5 L618.0,2151.6 L619.0,2151.8 L620.0,2151.5 L621.0,2151.8 L622.0,2151.7 L623.0,2152.0 L624.0,2151.7 L625.0,2151.7 L626.0,2152.0 L627.0,2151.5 L628.0,2152.2 L633.0,2151.9 L638.0,2151.5 L643.0,2151.2 L645.7,2151.4 L646.7,2151.4 L647.7,2151.5 L648.0,2151.1 L648.7,2151.1 L649.7,2151.4 L650.7,2150.7 L651.7,2151.2 L653.0,2150.8 L658.0,2148.7 L659.7,2146.8 L660.2,2145.3 L660.7,2144.6 L661.2,2142.7 L661.7,2139.5 L662.2,2135.7 L662.7,2128.2 L663.0,2122.3 L663.2,2117.2 L663.7,2101.1 L664.2,2080.9 L664.7,2054.9 L665.2,2027.0 L665.7,2000.2 L666.2,1977.4 L666.7,1963.6 L667.2,1959.7 L667.7,1964.3 L668.0,1971.3 L668.2,1976.3 L668.7,1993.2 L669.2,2012.5 L669.7,2032.9 L670.2,2053.1 L670.7,2073.2 L671.2,2092.0 L671.7,2106.9 L672.2,2119.3 L672.7,2128.6 L673.0,2133.1 L673.2,2135.5 L673.7,2139.9 L678.0,2148.8 L681.7,2150.5 L682.7,2150.7 L683.0,2150.4 L683.7,2151.2 L684.7,2151.4 L685.7,2151.4 L686.7,2151.7 L687.7,2151.3 L688.0,2151.7 L688.7,2151.2 L689.7,2151.7 L693.0,2151.9 L698.0,2152.3 L703.0,2152.3 L708.0,2152.4 L713.0,2151.9 L718.0,2152.4 L723.0,2152.2 L728.0,2152.0 L733.0,2152.1 L738.0,2152.5 L743.0,2152.6 L748.0,2152.6 L753.0,2152.4 L758.0,2152.0 L763.0,2152.0 L768.0,2152.4 L773.0,2152.0 L778.0,2152.2 L783.0,2152.0 L788.0,2152.0 L793.0,2152.5 L798.0,2152.1 L803.0,2152.6 L808.0,2152.2 L813.0,2152.7 L818.0,2152.2 L823.0,2152.1 L828.0,2152.3 L833.0,2151.9 L838.0,2152.3 L843.0,2152.3 L848.0,2151.9 L853.0,2152.7 L858.0,2152.3 L863.0,2151.9 L868.0,2152.8 L873.0,2152.1 L878.0,2152.2 L883.0,2152.0 L888.0,2152.0 L893.0,2152.6 L898.0,2152.5 L903.0,2152.4 L908.0,2152.2 L913.0,2152.2 L918.0,2152.8 L923.0,2152.3 L928.0,2152.8 L933.0,2152.7 L938.0,2152.1 L943.0,2152.7 L948.0,2152.0 L953.0,2152.6 L958.0,2152.6 L963.0,2152.5 L966.8,2152.3 L967.8,2152.5 L968.0,2151.9 L968.8,2152.3 L969.8,2152.0 L970.8,2152.1 L973.0,2151.8 L978.0,2151.9 L979.8,2151.5 L980.3,2151.5 L980.8,2151.2 L981.3,2151.0 L981.8,2151.0 L982.3,2150.5 L982.8,2149.7 L983.0,2149.1 L983.3,2148.9 L983.8,2146.8 L984.3,2144.0 L984.8,2140.6 L985.3,2136.2 L985.8,2130.6 L986.3,2124.2 L986.8,2118.4 L987.3,2114.1 L987.8,2111.6 L988.0,2111.0 L988.3,2111.2 L988.8,2113.3 L989.3,2115.9 L989.8,2119.0 L990.3,2122.5 L990.8,2125.4 L991.3,2127.6 L991.8,2130.8 L992.3,2134.1 L992.8,2136.7 L993.0,2138.0 L993.3,2140.3 L993.8,2143.1 L994.3,2146.1 L994.8,2148.1 L995.3,2148.9 L995.8,2150.1 L998.0,2151.5 L1003.0,2151.7 L1004.8,2152.5 L1005.8,2151.9 L1006.8,2151.8 L1007.8,2152.2 L1008.0,2151.8 L1008.8,2152.2 L1009.8,2152.2 L1010.8,2152.7 L1011.8,2152.2 L1013.0,2152.6 L1018.0,2152.6 L1023.0,2152.5 L1028.0,2152.2 L1033.0,2152.3 L1038.0,2152.4 L1043.0,2152.4 L1048.0,2152.6 L1053.0,2152.5 L1058.0,2152.3 L1063.0,2152.6 L1068.0,2152.9 L1073.0,2152.2 L1078.0,2152.4 L1083.0,2152.1 L1088.0,2152.1 L1093.0,2152.1 L1098.0,2152.4 L1103.0,2152.8 L1108.0,2152.7 L1113.0,2152.9 L1118.0,2152.8 L1123.0,2152.6 L1128.0,2152.6 L1133.0,2152.1 L1138.0,2152.4 L1143.0,2152.3 L1148.0,2152.7 L1153.0,2152.2 L1158.0,2152.6 L1163.0,2152.4 L1168.0,2152.5 L1173.0,2152.5 L1178.0,2152.2 L1183.0,2152.8 L1188.0,2152.8 L1193.0,2152.7 L1198.0,2152.2 L1203.0,2152.7 L1208.0,2152.9 L1213.0,2153.0 L1218.0,2152.8 L1223.0,2152.1 L1228.0,2152.9 L1233.0,2152.7 L1238.0,2152.3 L1242.0,2152.8 L1243.0,2152.7 L1244.0,2152.8 L1245.0,2152.2 L1248.0,2152.4 L1253.0,2151.9 L1254.5,2151.6 L1255.0,2152.0 L1255.5,2151.7 L1256.0,2151.3 L1256.5,2151.4 L1257.0,2151.5 L1257.5,2150.8 L1258.0,2150.5 L1258.5,2149.3 L1259.0,2148.3 L1259.5,2145.2 L1260.0,2142.5 L1260.5,2138.4 L1261.0,2133.7 L1261.5,2128.6 L1262.0,2123.4 L1262.5,2119.7 L1263.0,2118.2 L1263.5,2118.7 L1264.0,2121.2 L1264.5,2124.7 L1265.0,2127.2 L1265.5,2130.1 L1266.0,2132.4 L1266.5,2132.6 L1267.0,2134.0 L1267.5,2134.2 L1268.0,2136.3 L1268.5,2138.5 L1269.0,2140.5 L1269.5,2143.2 L1270.0,2145.3 L1270.5,2147.7 L1271.0,2149.0 L1271.5,2150.1 L1273.0,2151.2 L1278.0,2152.3 L1281.0,2152.8 L1282.0,2152.6 L1283.0,2152.8 L1284.0,2152.2 L1285.0,2152.5 L1286.0,2152.4 L1287.0,2152.3 L1288.0,2152.8 L1293.0,2152.2 L1298.0,2152.6 L1303.0,2152.8 L1308.0,2153.0 L1313.0,2152.2 L1318.0,2152.4 L1323.0,2152.6 L1328.0,2153.0 L1333.0,2152.3 L1338.0,2152.9 L1343.0,2152.6 L1348.0,2152.7 L1353.0,2153.0 L1358.0,2152.3 L1363.0,2152.5 L1368.0,2152.3 L1373.0,2152.3 L1378.0,2152.5 L1383.0,2152.8 L1388.0,2152.7 L1393.0,2152.3 L1398.0,2152.9 L1403.0,2152.6 L1405.0,2152.2 L1406.0,2152.8 L1408.0,2152.8 L1413.0,2152.0 L1416.5,2152.4 L1417.0,2152.2 L1417.5,2151.6 L1418.0,2151.3 L1418.5,2151.9 L1419.0,2151.7 L1419.5,2150.9 L1420.0,2151.2 L1420.5,2150.8 L1421.0,2150.1 L1421.5,2149.3 L1422.0,2147.8 L1422.5,2144.7 L1423.0,2141.6 L1423.5,2137.0 L1424.0,2130.9 L1424.5,2125.3 L1425.0,2119.8 L1425.5,2116.0 L1426.0,2114.1 L1426.5,2114.8 L1427.0,2117.8 L1427.5,2122.4 L1428.0,2126.3 L1428.5,2130.4 L1429.0,2132.6 L1429.5,2132.8 L1430.0,2133.3 L1430.5,2133.1 L1431.0,2133.0 L1431.5,2134.8 L1432.0,2136.8 L1432.5,2139.1 L1433.0,2141.7 L1433.5,2144.5 L1434.0,2147.1 L1434.5,2148.5 L1435.0,2150.0 L1435.5,2150.2 L1438.0,2151.5 L1443.0,2152.2 L1446.0,2152.8 L1447.0,2152.2 L1448.0,2152.1 L1449.0,2152.8 L1450.0,2152.2 L1451.0,2152.7 L1452.0,2152.2 L1453.0,2152.4 L1458.0,2152.8 L1463.0,2153.0 L1468.0,2152.6 L1473.0,2152.7 L1478.0,2152.3 L1483.0,2152.6 L1488.0,2152.5 L1493.0,2153.0 L1498.0,2152.9 L1503.0,2153.0 L1508.0,2152.8 L1512.0,2152.9 L1513.0,2152.4 L1514.0,2152.6 L1515.0,2152.6 L1516.0,2152.5 L1517.0,2153.0 L1518.0,2152.5 L1519.0,2152.6 L1520.0,2152.5 L1521.0,2153.1 L1522.0,2152.9 L1523.0,2152.7 L1528.0,2152.6 L1533.0,2153.1 L1535.5,2153.1 L1536.0,2152.7 L1536.5,2152.8 L1537.0,2153.0 L1537.5,2152.5 L1538.0,2152.5 L1538.5,2152.4 L1539.0,2152.7 L1539.5,2152.9 L1540.0,2152.4 L1540.5,2152.6 L1541.0,2153.1 L1541.5,2152.6 L1542.0,2152.5 L1542.5,2152.9 L1543.0,2152.9 L1543.5,2152.4 L1544.0,2152.1 L1544.5,2152.5 L1545.0,2152.5 L1545.5,2152.6 L1546.0,2152.3 L1546.5,2151.9 L1547.0,2152.0 L1547.5,2151.8 L1548.0,2151.9 L1548.5,2151.9 L1549.0,2152.3 L1549.5,2152.3 L1550.0,2152.4 L1550.5,2152.0 L1551.0,2152.5 L1551.5,2151.8 L1552.0,2152.5 L1552.5,2152.3 L1553.0,2152.5 L1553.5,2152.2 L1554.0,2152.7 L1554.5,2151.9 L1555.0,2152.7 L1555.5,2152.7 L1556.0,2152.3 L1556.5,2152.8 L1557.0,2152.3 L1557.5,2152.8 L1558.0,2152.5 L1558.5,2152.5 L1559.0,2152.3 L1559.5,2152.9 L1560.0,2152.9 L1560.5,2152.3 L1563.0,2153.1 L1564.0,2152.4 L1568.0,2152.5 L1573.0,2152.4 L1574.0,2152.5 L1575.0,2152.7 L1575.5,2152.7 L1576.0,2152.4 L1576.5,2152.1 L1577.0,2151.8 L1577.5,2151.7 L1578.0,2152.1 L1578.5,2152.0 L1579.0,2151.7 L1579.5,2152.0 L1580.0,2151.1 L1580.5,2150.4 L1581.0,2149.5 L1581.5,2147.8 L1582.0,2146.4 L1582.5,2143.4 L1583.0,2140.0 L1583.5,2136.4 L1584.0,2133.0 L1584.5,2130.7 L1585.0,2130.0 L1585.5,2130.6 L1586.0,2133.1 L1586.5,2135.5 L1587.0,2138.0 L1587.5,2140.3 L1588.0,2141.9 L1588.5,2142.7 L1589.0,2143.0 L1589.5,2142.6 L1590.0,2141.5 L1590.5,2141.9 L1591.0,2142.1 L1591.5,2143.2 L1592.0,2144.7 L1592.5,2145.9 L1593.0,2147.5 L1593.5,2149.4 L1594.0,2150.4 L1594.5,2150.9 L1595.0,2151.8 L1596.0,2152.2 L1597.0,2152.0 L1598.0,2151.9 L1599.0,2152.4 L1600.0,2152.6 L1603.0,2152.3 L1606.0,2152.1 L1607.0,2152.5 L1608.0,2152.1 L1609.0,2152.8 L1610.0,2152.6 L1611.0,2152.3 L1613.0,2152.4 L1613.5,2152.2 L1614.0,2152.1 L1614.5,2152.1 L1615.0,2152.7 L1615.5,2152.3 L1616.0,2152.5 L1616.5,2152.1 L1617.0,2152.4 L1617.5,2152.1 L1618.0,2152.0 L1618.5,2151.6 L1619.0,2151.4 L1619.5,2150.6 L1620.0,2150.8 L1620.5,2149.8 L1621.0,2148.8 L1621.5,2147.9 L1622.0,2146.3 L1622.5,2145.2 L1623.0,2143.9 L1623.5,2143.3 L1624.0,2141.6 L1624.5,2141.3 L1625.0,2141.3 L1625.5,2141.2 L1626.0,2141.5 L1626.5,2141.6 L1627.0,2142.2 L1627.5,2143.3 L1628.0,2143.6 L1628.5,2144.6 L1629.0,2144.8 L1629.5,2145.6 L1630.0,2145.8 L1630.5,2146.4 L1631.0,2147.0 L1631.5,2146.9 L1632.0,2148.0 L1632.5,2147.7 L1633.0,2149.1 L1633.5,2149.0 L1634.0,2150.1 L1634.5,2150.4 L1635.0,2151.2 L1635.5,2151.2 L1636.0,2151.4 L1636.5,2152.2 L1637.0,2152.1 L1638.0,2152.5 L1643.0,2152.6 L1648.0,2152.3 L1650.0,2153.0 L1651.0,2152.5 L1652.0,2152.7 L1653.0,2152.3 L1654.0,2152.5 L1655.0,2152.9 L1656.0,2153.0 L1657.0,2152.9 L1658.0,2152.7 L1659.0,2153.0 L1660.0,2152.9 L1661.0,2152.5 L1663.0,2152.8 L1668.0,2152.9 L1673.0,2153.0 L1678.0,2152.6 L1683.0,2152.7 L1688.0,2152.7 L1693.0,2152.5 L1698.0,2152.7 L1703.0,2153.1 L1708.0,2152.9 L1713.0,2152.6 L1718.0,2153.1 L1723.0,2152.5 L1728.0,2153.1 L1733.0,2152.6 L1738.0,2152.5 L1743.0,2152.7 L1748.0,2152.9 L1753.0,2152.7 L1758.0,2153.3 L1763.0,2153.3 L1768.0,2152.7 L1773.0,2153.1 L1778.0,2153.1 L1783.0,2153.0 L1788.0,2152.7 L1793.0,2153.3 L1798.0,2153.3 L1803.0,2152.5 L1808.0,2152.8 L1813.0,2152.8 L1816.0,2152.7 L1817.0,2152.9 L1818.0,2153.3 L1819.0,2152.5 L1820.0,2153.3 L1821.0,2152.8 L1822.0,2152.5 L1823.0,2153.3 L1828.0,2152.7 L1833.0,2152.7 L1838.0,2152.6 L1838.5,2152.8 L1839.0,2152.6 L1839.5,2152.7 L1840.0,2152.7 L1840.5,2153.0 L1841.0,2152.9 L1841.5,2152.8 L1842.0,2153.0 L1842.5,2153.2 L1843.0,2153.2 L1843.5,2152.8 L1844.0,2153.3 L1844.5,2153.2 L1845.0,2153.0 L1845.5,2152.9 L1846.0,2152.8 L1846.5,2152.6 L1847.0,2153.3 L1847.5,2153.1 L1848.0,2152.6 L1848.5,2153.4 L1849.0,2153.3 L1849.5,2152.6 L1850.0,2153.2 L1850.5,2152.8 L1851.0,2153.0 L1851.5,2153.3 L1852.0,2152.9 L1852.5,2153.0 L1853.0,2153.1 L1853.5,2152.7 L1854.0,2153.1 L1854.5,2152.9 L1855.0,2153.4 L1855.5,2152.7 L1856.0,2153.2 L1856.5,2152.6 L1857.0,2152.8 L1857.5,2152.6 L1858.0,2152.7 L1858.5,2153.0 L1859.0,2152.7 L1859.5,2153.2 L1860.0,2152.6 L1860.5,2153.1 L1861.0,2153.3 L1861.5,2152.6 L1862.0,2152.7 L1862.5,2153.2 L1863.0,2153.0 L1863.5,2153.4 L1864.0,2152.8 L1864.5,2152.9 L1865.0,2153.4 L1865.5,2152.8 L1866.0,2153.4 L1868.0,2153.3 L1873.0,2152.7 L1878.0,2153.0 L1881.0,2153.4 L1882.0,2152.6 L1883.0,2153.3 L1884.0,2153.2 L1885.0,2153.2 L1886.0,2153.1 L1887.0,2152.6 L1888.0,2153.4 L1889.0,2152.6 L1890.0,2153.2 L1891.0,2153.2 L1892.0,2152.8 L1893.0,2153.2 L1894.0,2152.9 L1898.0,2153.2 L1902.0,2152.6" fill="none" stroke="#00ae6a" stroke-width="10" stroke-linejoin="round" stroke-linecap="butt"/>
<rect x="178.0" y="1610.0" width="1734.6" height="5.0" fill="#000"/>
<rect x="178.0" y="1610.0" width="5.2" height="1393.7" fill="#000"/>
<rect x="183.2" y="1614.5" width="1729.4" height="9.5" fill="#555555"/>
<rect x="183.2" y="1614.5" width="9.3" height="1395.0" fill="#555555"/>
<rect x="1902.0" y="1614.5" width="10.6" height="1395.0" fill="#555555"/>
<rect x="183.2" y="2999.7" width="1729.4" height="9.8" fill="#555555"/>
<rect x="192.5" y="2993.0" width="1709.9" height="6.7" fill="#000"/>
<rect x="326.2" y="2991.0" width="10.0" height="9.0" fill="#555555"/>
<rect x="469.9" y="2978.0" width="9.2" height="22.0" fill="#555555"/>
<rect x="612.8" y="2991.0" width="10.0" height="9.0" fill="#555555"/>
<rect x="756.4" y="2978.0" width="9.2" height="22.0" fill="#555555"/>
<rect x="899.2" y="2991.0" width="10.0" height="9.0" fill="#555555"/>
<rect x="1042.9" y="2978.0" width="9.2" height="22.0" fill="#555555"/>
<rect x="1185.8" y="2991.0" width="10.0" height="9.0" fill="#555555"/>
<rect x="1329.4" y="2978.0" width="9.2" height="22.0" fill="#555555"/>
<rect x="1472.2" y="2991.0" width="10.0" height="9.0" fill="#555555"/>
<rect x="1615.9" y="2978.0" width="9.2" height="22.0" fill="#555555"/>
<rect x="1758.8" y="2991.0" width="10.0" height="9.0" fill="#555555"/>
<text x="188.0" y="3089.0" font-size="72" fill="#555555" text-anchor="middle" >20</text>
<text x="474.5" y="3089.0" font-size="72" fill="#555555" text-anchor="middle" >30</text>
<text x="761.0" y="3089.0" font-size="72" fill="#555555" text-anchor="middle" >40</text>
<text x="1047.5" y="3089.0" font-size="72" fill="#555555" text-anchor="middle" >50</text>
<text x="1334.0" y="3089.0" font-size="72" fill="#555555" text-anchor="middle" >60</text>
<text x="1620.5" y="3089.0" font-size="72" fill="#555555" text-anchor="middle" >70</text>
<text x="1907.0" y="3089.0" font-size="72" fill="#555555" text-anchor="middle" >80</text>
<text x="1046.5" y="3208.0" font-size="72" fill="#555555" text-anchor="middle" >2Theta (degree)</text>
<text transform="translate(73.0,2290.0) rotate(-90)" font-size="74" fill="#555555" text-anchor="middle">Intensity (a.u.)</text>
<text transform="translate(201.0,1750.0) scale(1.055,1)" font-size="151" fill="#000" font-weight="bold">(b)</text>
<line x1="1060" y1="1682.8" x2="1176" y2="1682.8" stroke="#555" stroke-width="11" stroke-linecap="round"/>
<text transform="translate(1190.0,1698.8) scale(1.12,1)" font-size="47.5" fill="#555" >as-extruded</text>
<line x1="1060" y1="1748.8" x2="1176" y2="1748.8" stroke="#fd3c3c" stroke-width="11" stroke-linecap="round"/>
<text transform="translate(1190.0,1764.8) scale(1.12,1)" font-size="47.5" fill="#fd3c3c" >1-pass</text>
<line x1="1060" y1="1812.9" x2="1176" y2="1812.9" stroke="#006ee4" stroke-width="11" stroke-linecap="round"/>
<text transform="translate(1190.0,1828.9) scale(1.12,1)" font-size="47.5" fill="#006ee4" >4-pass</text>
<line x1="1060" y1="1879" x2="1176" y2="1879" stroke="#00ae6a" stroke-width="11" stroke-linecap="round"/>
<text transform="translate(1190.0,1895.0) scale(1.12,1)" font-size="47.5" fill="#00ae6a" >8-pass</text>
<circle cx="1522.0" cy="1679.0" r="8.5" fill="#111"/>
<text transform="translate(1547.0,1692.4) scale(1.12,1)" font-size="49" fill="#222" >α–MgO</text>
<path d="M1530.5,1771.0 C1527.7,1764.0 1516.5,1758.4 1516.5,1751.4 C1516.5,1744.4 1527.7,1743.0 1530.5,1750.0 C1533.3,1743.0 1544.5,1744.4 1544.5,1751.4 C1544.5,1758.4 1533.3,1764.0 1530.5,1771.0 Z" fill="#000"/>
<text transform="translate(1564,1773) scale(1.12,1)" font-size="49" fill="#222">MgZn<tspan font-size="42" dy="14">2</tspan></text>
<g fill="#000"><circle cx="1530.5" cy="1846.3" r="6.1"/><circle cx="1522.1" cy="1858.9" r="6.8"/><circle cx="1538.9" cy="1858.9" r="6.8"/><circle cx="1530.5" cy="1856.8" r="3.0"/><path d="M1527.8,1852.0 L1533.2,1852.0 L1531.7,1861.0 Q1531.7,1867.0 1534.1,1869.7 L1526.9,1869.7 Q1529.3,1867.0 1529.3,1861.0 Z"/></g>
<text transform="translate(1565,1868) scale(1.12,1)" font-size="49" fill="#222">Ca<tspan font-size="42" dy="14">2</tspan><tspan dy="-14">Mg</tspan><tspan font-size="42" dy="14">6</tspan><tspan dy="-14">Zn</tspan><tspan font-size="42" dy="14">3</tspan></text>
<text x="212.0" y="2130.5" font-size="58" fill="#000" text-anchor="start" >8-pass</text>
<text x="203.0" y="2378.7" font-size="58" fill="#000" text-anchor="start" >4-pass</text>
<text x="209.0" y="2568.6" font-size="58" fill="#000" text-anchor="start" >1-pass</text>
<text x="206.0" y="2926.7" font-size="58" fill="#000" text-anchor="start" >as-extruded</text>
<text transform="translate(550.0,2002.7) rotate(-90) scale(1.03,1)" font-size="50" fill="#000" text-anchor="middle">(100)</text>
<text transform="translate(594.0,2005.8) rotate(-90) scale(1.14,1)" font-size="50" fill="#000" text-anchor="middle">(300)</text>
<text transform="translate(629.8,2003.3) rotate(-90) scale(1.03,1)" font-size="44" fill="#000" text-anchor="middle">(004)</text>
<text transform="translate(681.0,1858.0) rotate(-90)" font-size="52" fill="#000" text-anchor="middle">(101)</text>
<text transform="translate(1002.0,2006.0) rotate(-90) scale(1.03,1)" font-size="51" fill="#000" text-anchor="middle">(102)</text>
<text transform="translate(1281.3,2013.6) rotate(-90) scale(1.06,1)" font-size="50" fill="#000" text-anchor="middle">(110)</text>
<text transform="translate(1440.7,1993.8) rotate(-90) scale(1.08,1)" font-size="48.5" fill="#000" text-anchor="middle">(205)</text>
<text transform="translate(1602.0,2012.5) rotate(-90)" font-size="52" fill="#000" text-anchor="middle">(112)</text>
<text transform="translate(1650.3,2037.0) rotate(-90) scale(1.03,1)" font-size="51" fill="#000" text-anchor="middle">(201)</text>
<text transform="translate(1717.0,2025.5) rotate(-90) scale(1.03,1)" font-size="51" fill="#000" text-anchor="middle">(202)</text>
<circle cx="540.0" cy="2081.0" r="8.5" fill="#000"/>
<circle cx="607.5" cy="2079.0" r="8.5" fill="#000"/>
<circle cx="667.0" cy="1935.5" r="8.5" fill="#000"/>
<circle cx="990.3" cy="2084.0" r="8.5" fill="#000"/>
<circle cx="1266.4" cy="2092.2" r="8.5" fill="#000"/>
<circle cx="1586.7" cy="2093.0" r="8.5" fill="#000"/>
<circle cx="1627.7" cy="2113.6" r="8.5" fill="#000"/>
<circle cx="1701.3" cy="2111.8" r="8.5" fill="#000"/>
<circle cx="1856.0" cy="2111.6" r="8.5" fill="#000"/>
<path d="M1430.0,2091.4 C1427.6,2085.4 1418.0,2080.6 1418.0,2074.6 C1418.0,2068.6 1427.6,2067.4 1430.0,2073.4 C1432.4,2067.4 1442.0,2068.6 1442.0,2074.6 C1442.0,2080.6 1432.4,2085.4 1430.0,2091.4 Z" fill="#000"/>
<g fill="#000"><circle cx="570.6" cy="2098.2" r="5.1"/><circle cx="563.6" cy="2108.8" r="5.6"/><circle cx="577.6" cy="2108.8" r="5.6"/><circle cx="570.6" cy="2107.0" r="2.5"/><path d="M568.4,2103.0 L572.9,2103.0 L571.6,2110.5 Q571.6,2115.5 573.6,2117.8 L567.6,2117.8 Q569.6,2115.5 569.6,2110.5 Z"/></g>
<g fill="#000"><circle cx="1546.0" cy="2101.0" r="4.9"/><circle cx="1539.3" cy="2111.1" r="5.4"/><circle cx="1552.7" cy="2111.1" r="5.4"/><circle cx="1546.0" cy="2109.4" r="2.4"/><path d="M1543.8,2105.6 L1548.2,2105.6 L1547.0,2112.8 Q1547.0,2117.6 1548.9,2119.8 L1543.1,2119.8 Q1545.0,2117.6 1545.0,2112.8 Z"/></g>
<defs><filter id="nz" x="0" y="0" width="1" height="1" color-interpolation-filters="sRGB"><feTurbulence type="fractalNoise" baseFrequency="0.42" numOctaves="1" seed="5" result="t"/><feColorMatrix in="t" type="matrix" values="0.85 0 0 0 -0.095  0.85 0 0 0 -0.095  0.85 0 0 0 -0.095  0 0 0 0 1" result="base"/><feTurbulence type="fractalNoise" baseFrequency="0.13" numOctaves="2" seed="33" result="t2"/><feColorMatrix in="t2" type="matrix" values="0 0 0 0 0.93  0 0 0 0 0.93  0 0 0 0 0.93  12 0 0 0 -8.5" result="wsp2"/><feTurbulence type="fractalNoise" baseFrequency="0.2" numOctaves="2" seed="77" result="t3"/><feColorMatrix in="t3" type="matrix" values="0 0 0 0 0.12  0 0 0 0 0.12  0 0 0 0 0.12  -7 0 0 0 2.6" result="dsp"/><feTurbulence type="fractalNoise" baseFrequency="0.06" numOctaves="2" seed="3" result="lf"/><feColorMatrix in="lf" type="matrix" values="0 0 0 0 0.55  0 0 0 0 0.55  0 0 0 0 0.55  1.6 0 0 0 -0.75" result="lfw"/><feMerge><feMergeNode in="base"/><feMergeNode in="lfw"/><feMergeNode in="dsp"/><feMergeNode in="wsp2"/></feMerge></filter><filter id="nz2" x="0" y="0" width="1" height="1" color-interpolation-filters="sRGB"><feTurbulence type="fractalNoise" baseFrequency="0.3" numOctaves="1" seed="9" result="t"/><feColorMatrix in="t" type="matrix" values="0.7 0 0 0 -0.02  0.7 0 0 0 -0.02  0.7 0 0 0 -0.02  0 0 0 0 1" result="base"/><feTurbulence type="fractalNoise" baseFrequency="0.03" numOctaves="2" seed="4" result="lf"/><feColorMatrix in="lf" type="matrix" values="0 0 0 0 0.55  0 0 0 0 0.55  0 0 0 0 0.55  1.5 0 0 0 -0.68" result="lfw"/><feTurbulence type="fractalNoise" baseFrequency="0.14" numOctaves="2" seed="41" result="t3"/><feColorMatrix in="t3" type="matrix" values="0 0 0 0 0.06  0 0 0 0 0.06  0 0 0 0 0.06  -9 0 0 0 3.4" result="dsp"/><feTurbulence type="fractalNoise" baseFrequency="0.1" numOctaves="2" seed="43" result="t2"/><feColorMatrix in="t2" type="matrix" values="0 0 0 0 0.93  0 0 0 0 0.93  0 0 0 0 0.93  12 0 0 0 -8.5" result="wsp"/><feMerge><feMergeNode in="base"/><feMergeNode in="lfw"/><feMergeNode in="dsp"/><feMergeNode in="wsp"/></feMerge><feGaussianBlur stdDeviation="0.8"/></filter><filter id="bl1"><feGaussianBlur stdDeviation="1"/></filter><filter id="bl2"><feGaussianBlur stdDeviation="2"/></filter><filter id="bl4"><feGaussianBlur stdDeviation="4"/></filter><clipPath id="semclip"><rect x="135" y="3256" width="1817" height="1362"/></clipPath><clipPath id="insclip"><rect x="136" y="3258" width="752" height="660"/></clipPath></defs>
<rect x="72.6" y="3221.0" width="1953.4" height="1489.0" fill="#efefef"/>
<g clip-path="url(#semclip)">
<rect x="135" y="3256" width="1817" height="1362" fill="#5a5a5a" filter="url(#nz)"/>
<path d="M1985,4207C1968,4204 1971,4179 1952,4178M1990,4352C2087,4403 2188,4444 2295,4468M1061,10054C1270,8255 1264,6449 1269,4643M1269,4643C1212,4663 1153,4661 1094,4661M1034,5282C1211,5091 1051,4866 1094,4661M168,3082C131,3131 117,3191 89,3244M89,3244C117,3261 146,3278 180,3257M221,3224C215,3245 198,3252 180,3257M79,3247C83,3249 85,3244 89,3244M361,3171C346,3185 346,3211 325,3222M325,3222C291,3239 256,3234 221,3224M202,3334C174,3315 188,3282 180,3257M202,3334C240,3308 280,3285 329,3294M325,3222C314,3247 333,3270 329,3294M202,3334C201,3363 177,3387 183,3418M299,3436C270,3435 241,3434 213,3445M299,3436C315,3395 326,3353 336,3310M336,3310C332,3306 335,3298 329,3294M183,3418C185,3436 208,3431 213,3445M319,3589C320,3586 322,3586 323,3585M319,3589C276,3585 233,3585 191,3581M213,3445C210,3491 233,3542 191,3581M357,3474C338,3508 327,3545 323,3585M319,3589C336,3624 320,3661 327,3697M327,3697C367,3701 412,3690 444,3728M444,3728C411,3693 396,3655 415,3608M1839,4008C1885,4019 1922,3978 1967,3985M2084,4003C2051,3984 2014,4013 1981,3993M1952,4178C1946,4179 1940,4177 1934,4173M1934,4173C1919,4171 1906,4165 1902,4148M1034,5282C907,5075 1038,4833 944,4621M1094,4661C1093,4658 1089,4657 1088,4654M944,4621C948,4621 949,4617 951,4615M1088,4654C1044,4635 992,4646 951,4615M1691,4156C1675,4172 1684,4201 1658,4211M1691,4156C1698,4146 1710,4140 1717,4129M1717,4129C1749,4126 1780,4128 1810,4140M1810,4140C1759,4183 1758,4236 1780,4293M1658,4211C1701,4236 1760,4235 1780,4293M1810,4140C1825,4142 1832,4129 1844,4124M1832,4336C1819,4332 1807,4325 1793,4326M1112,4526C1075,4512 1044,4485 1005,4478M167,4575C156,4571 150,4563 147,4553M147,4553C90,4646 -4,4640 -94,4644M350,4647C324,4651 307,4664 302,4691M350,4647C347,4613 349,4579 342,4546M145,3861C193,3905 245,3905 299,3875M225,3711C241,3708 252,3720 265,3725M402,3857C450,3825 463,3782 444,3728M317,3888C314,3879 308,3876 299,3875M444,3728C444,3728 444,3728 444,3728M367,4207C405,4251 450,4242 496,4225M313,4264C335,4277 315,4306 335,4319M335,4319C385,4331 434,4342 476,4373M496,4225C501,4227 504,4230 505,4236M505,4236C528,4288 520,4334 476,4373M297,4418C302,4462 326,4497 355,4529M297,4418C286,4376 302,4344 335,4319M355,4529C375,4507 397,4500 425,4513M476,4373C475,4380 486,4381 485,4388M638,4148C623,4184 603,4216 572,4239M714,4150C744,4206 717,4252 691,4298M572,4239C596,4251 619,4264 627,4292M691,4298C669,4298 648,4293 627,4292M496,4225C521,4198 504,4165 509,4135M509,4135C540,4137 558,4113 582,4100M582,4100C612,4103 613,4139 638,4148M505,4236C527,4236 551,4223 572,4239M549,4396C576,4362 615,4337 627,4292M546,3710C574,3662 575,3612 563,3559M546,3710C514,3727 479,3725 444,3728M415,3608C441,3586 457,3559 465,3526M563,3559C522,3573 504,3518 465,3526M357,3474C379,3483 400,3466 421,3471M465,3526C459,3501 428,3495 421,3471M853,3831C815,3862 775,3868 733,3838M853,3831C875,3833 879,3855 892,3866M859,3981C834,3981 809,3985 785,3978M859,3981C874,3971 877,3949 895,3941M785,3978C735,3961 737,3908 714,3873M895,3941C881,3917 885,3891 892,3866M714,3873C713,3857 730,3851 733,3838M2204,3803C2099,3738 2011,3788 1925,3846M1945,3646C1942,3660 1925,3661 1919,3673M1967,3985C1933,3947 1901,3909 1918,3852M1990,4352C1971,4387 1942,4398 1905,4386M1832,4336C1857,4340 1870,4360 1885,4378M1905,4386C1898,4382 1892,4378 1885,4378M2295,4468C2175,4520 2045,4486 1922,4516M1905,4386C1944,4425 1898,4475 1922,4516M2014,4662C1992,4611 1946,4581 1906,4547M1916,4763C1841,4725 1861,4638 1821,4581M1859,4929C1862,4814 1693,4770 1739,4637M1739,4637C1748,4596 1774,4578 1815,4581M1815,4581C1817,4580 1819,4581 1821,4581M2014,4662C2002,4716 1948,4728 1916,4763M1906,4547C1868,4535 1849,4569 1821,4581M1885,4378C1880,4448 1779,4434 1775,4504M1775,4504C1801,4523 1812,4550 1815,4581M1739,4637C1724,4628 1710,4628 1696,4638M1696,4638C1698,4773 1568,4841 1536,4958M1260,4232C1270,4199 1289,4171 1306,4142M1260,4232C1298,4238 1330,4257 1362,4277M1306,4142C1328,4150 1350,4157 1372,4142M1372,4142C1387,4162 1405,4182 1420,4203M1171,4380C1187,4382 1199,4391 1209,4402M1171,4380C1171,4325 1110,4280 1143,4219M1257,4234C1224,4205 1181,4234 1146,4215M1143,4219C1144,4218 1145,4216 1146,4215M1246,4394C1233,4393 1223,4407 1209,4402M1171,4380C1120,4390 1072,4335 1020,4372M1209,4402C1168,4427 1175,4474 1161,4511M1269,4643C1272,4640 1273,4636 1275,4633M944,4621C903,4607 868,4640 828,4637M821,4497C800,4541 813,4585 819,4630M850,4465C888,4487 940,4467 972,4507M828,4637C823,4636 820,4635 819,4630M828,4637C533,5026 353,5429 673,5894M845,4443C846,4435 857,4432 855,4423M1020,4372C1009,4361 1001,4348 998,4332M728,4338C723,4346 733,4355 726,4364M855,4423C840,4375 892,4325 850,4279M1143,4219C1079,4212 1051,4296 984,4282M984,4282C993,4297 980,4319 998,4332M297,4418C264,4400 230,4436 197,4417M313,4264C289,4246 263,4235 233,4246M197,4417C194,4406 191,4394 180,4388M57,4470C81,4499 107,4525 143,4539M37,4210C67,4212 73,4243 93,4255M93,4255C105,4294 96,4326 61,4350M233,4246C222,4232 198,4236 193,4214M193,4214C151,4206 135,4261 93,4255M180,4388C151,4341 90,4396 61,4350M146,4000C161,4003 166,4021 181,4023M181,4023C235,4017 286,4005 308,3946M145,3861C128,3834 104,3826 74,3831M146,4000C125,4027 98,4032 68,4018M189,4151C141,4173 113,4127 74,4117M189,4151C200,4138 191,4118 206,4106M181,4023C187,4052 184,4083 206,4106M193,4214C186,4194 191,4172 189,4151M598,4435C616,4466 609,4497 599,4528M599,4528C634,4501 671,4528 707,4524M700,4408C690,4441 708,4467 724,4493M726,4364C725,4383 712,4395 700,4408M821,4497C789,4494 755,4522 724,4493M734,4615C765,4603 787,4646 819,4630M734,4615C739,4580 730,4550 707,4524M599,4528C599,4540 581,4540 583,4552M465,4542C506,4518 545,4524 583,4552M804,4162C837,4139 881,4127 888,4078M804,4162C819,4199 815,4247 863,4267M981,4118C946,4114 915,4102 888,4078M723,4043C740,4076 717,4110 725,4143M725,4143C750,4157 775,4167 804,4162M859,3981C874,4012 890,4042 888,4078M725,4143C723,4147 718,4149 714,4150M984,4282C981,4279 980,4273 975,4273M367,4207C362,4170 341,4133 367,4096M461,4090C430,4098 398,4085 367,4096M206,4106C259,4116 301,4059 356,4082M308,3946C344,3964 328,4010 354,4032M354,4032C344,4049 349,4065 356,4082M367,4096C361,4093 363,4084 356,4082M81,3713C127,3724 156,3700 179,3664M191,3581C189,3584 188,3587 185,3588M225,3711C196,3708 181,3692 179,3664M1306,4142C1261,4134 1271,4083 1243,4062M1545,4084C1544,4089 1538,4088 1537,4093M1537,4093C1495,4095 1456,4088 1422,4061M1598,4001C1573,3992 1567,3964 1547,3950M1454,3948C1444,3973 1421,3985 1402,4001M1422,4061C1422,4039 1414,4019 1402,4001M1691,4156C1626,4165 1606,4083 1545,4084M1662,3996C1640,3996 1619,3996 1598,4001M2381,3402C2256,3438 2123,3394 1998,3435M1998,3435C2001,3364 1935,3349 1899,3309M1899,3309C1913,3298 1911,3273 1934,3269M1934,3269C1951,3249 1950,3225 1950,3201M2471,3407C2356,3618 2120,3503 1962,3596M1998,3435C1989,3439 1992,3450 1984,3454M1945,3646C1944,3637 1945,3629 1943,3620M1962,3596C1960,3607 1949,3612 1943,3620M583,3838C557,3875 523,3901 479,3915M512,3981C535,3993 568,3975 585,4005M733,3838C733,3795 746,3751 715,3713M560,3720C540,3765 611,3792 583,3838M546,3710C549,3715 557,3714 560,3720M402,3857C440,3860 440,3914 479,3915M723,4043C681,4034 660,3978 608,3994M354,4032C403,4013 431,3953 494,3962M582,4100C601,4069 591,4037 585,4005M1839,4008C1822,3995 1813,3975 1800,3958M1918,3852C1893,3842 1871,3860 1848,3861M1848,3861C1808,3882 1812,3924 1800,3958M1662,3996C1681,3995 1692,3984 1695,3965M1696,4638C1685,4624 1669,4616 1655,4606M1509,4818C1467,4735 1426,4651 1321,4630M1510,4698C1475,4652 1406,4665 1370,4620M1528,4640C1526,4661 1515,4679 1510,4698M1286,4626C1297,4634 1310,4619 1321,4630M1143,4180C1144,4158 1126,4152 1112,4143M1003,4103C1029,4146 1067,4154 1112,4143M726,3206C709,3178 674,3164 662,3131M1848,3861C1819,3853 1808,3832 1803,3805M1695,3965C1655,3933 1663,3892 1677,3851M1803,3805C1749,3788 1713,3819 1677,3851M1521,3757C1528,3795 1548,3824 1582,3845M1521,3757C1572,3778 1610,3732 1656,3729M1582,3845C1606,3838 1629,3828 1655,3828M1656,3729C1639,3762 1649,3795 1655,3828M1547,3950C1553,3930 1537,3908 1552,3889M1677,3851C1671,3842 1655,3842 1655,3828M1513,4377C1562,4344 1505,4284 1547,4249M1596,4243C1635,4291 1646,4366 1725,4374M1725,4374C1713,4390 1709,4411 1694,4426M1793,4326C1773,4346 1744,4352 1725,4374M1513,4377C1510,4378 1509,4382 1507,4384M1507,4384C1517,4422 1526,4461 1521,4502M1521,4502C1502,4516 1488,4532 1492,4558M1370,4620C1408,4614 1440,4598 1456,4560M1492,4558C1480,4551 1468,4558 1456,4560M602,4616C605,4616 604,4619 606,4620M734,4615C725,4614 722,4622 717,4625M717,4625C680,4618 642,4636 606,4620M717,4625C541,4750 542,4923 584,5108M1243,4062C1254,4036 1248,4014 1229,3993M1402,4001C1352,4024 1314,4005 1282,3965M1003,3325C1013,3324 1020,3320 1025,3312M1025,3312C1097,3319 1088,3429 1168,3425M1168,3425C1149,3457 1128,3488 1140,3529M1018,3474C1069,3470 1106,3497 1140,3529M726,3206C721,3235 680,3249 692,3286M842,3173C846,3203 845,3235 876,3255M808,3351C804,3300 871,3299 876,3255M808,3351C774,3324 736,3307 695,3295M695,3295C694,3291 692,3289 692,3286M808,3351C794,3383 836,3399 830,3428M695,3295C681,3346 652,3392 650,3446M715,3472C742,3427 787,3431 830,3428M876,3255C902,3307 967,3290 1003,3325M970,3404C928,3398 895,3416 867,3446M867,3446C857,3436 838,3443 830,3428M1018,3474C1015,3518 963,3534 958,3578M867,3446C884,3486 838,3530 876,3568M1030,3226C1012,3252 1010,3277 1031,3303M1030,3226C1081,3209 1133,3195 1161,3143M1031,3303C1064,3273 1101,3259 1146,3269M1146,3269C1153,3228 1169,3189 1175,3148M997,3145C1012,3170 1034,3193 1030,3226M1794,3455C1764,3474 1731,3448 1700,3460M1702,3335C1739,3322 1764,3291 1799,3274M1865,3319C1853,3289 1814,3298 1799,3274M1702,3335C1664,3327 1661,3285 1634,3267M1146,3269C1163,3312 1202,3316 1240,3323M1240,3135C1281,3186 1299,3241 1262,3302M1262,3302C1258,3312 1243,3311 1240,3323M1674,3644C1708,3651 1738,3637 1768,3625M1674,3644C1663,3661 1686,3675 1678,3692M1768,3625C1791,3657 1843,3654 1858,3696M1858,3696C1845,3724 1828,3749 1797,3760M1846,3545C1800,3552 1772,3577 1768,3625M1691,3465C1694,3464 1696,3461 1700,3460M1521,3757C1497,3730 1452,3761 1431,3726M1656,3729C1673,3723 1675,3707 1678,3692M1434,3711C1435,3716 1433,3721 1431,3726M1434,3711C1483,3672 1540,3646 1591,3611M1591,3611C1612,3618 1632,3609 1653,3613M1803,3805C1810,3789 1804,3775 1797,3760M1376,4363C1402,4389 1437,4380 1469,4386M1469,4386C1409,4402 1411,4461 1387,4503M1283,4406C1307,4436 1336,4464 1322,4508M1322,4508C1343,4499 1367,4518 1387,4503M1362,4277C1359,4307 1385,4332 1376,4363M1507,4384C1494,4385 1481,4385 1469,4386M1246,4394C1259,4396 1274,4391 1283,4406M1286,4626C1292,4585 1303,4545 1322,4508M1213,3582C1231,3578 1250,3578 1264,3562M1213,3582C1192,3581 1174,3569 1154,3566M1140,3529C1144,3542 1158,3551 1154,3566M1233,3376C1256,3417 1320,3405 1338,3454M1264,3562C1303,3536 1284,3470 1338,3454M1213,3582C1209,3628 1256,3652 1262,3693M1264,3562C1329,3544 1346,3642 1411,3622M1262,3693C1305,3754 1370,3722 1425,3732M1454,3948C1410,3906 1407,3851 1404,3796M1282,3965C1305,3929 1335,3896 1324,3849M1425,3732C1417,3749 1418,3768 1410,3784M895,3941C940,3950 983,3981 1033,3962M892,3866C924,3853 959,3846 972,3809M972,3809C985,3823 1013,3818 1018,3844M1003,4103C1036,4069 1069,4036 1060,3982M1112,4143C1113,4083 1183,4038 1149,3970M1060,3982C1091,3992 1117,3956 1149,3970M1229,3993C1204,3988 1188,3955 1156,3968M1324,3849C1299,3813 1247,3828 1222,3793M1220,3754C1228,3767 1224,3780 1222,3793M1156,3968C1140,3931 1145,3893 1149,3856M1018,3844C1045,3824 1076,3819 1108,3819M1006,3623C1051,3619 1087,3584 1134,3589M1006,3623C1013,3661 1010,3697 974,3722M1134,3589C1152,3633 1152,3675 1116,3712M958,3578C967,3601 1003,3594 1006,3623M1154,3566C1148,3575 1138,3579 1134,3589M972,3809C973,3783 955,3755 981,3732M1108,3819C1107,3791 1086,3768 1091,3740M1220,3754C1187,3737 1140,3754 1116,3712M575,3270C629,3316 639,3370 601,3431M601,3431C550,3433 524,3378 474,3376M471,3357C473,3363 470,3370 474,3376M692,3286C654,3273 618,3244 575,3270M629,3453C637,3451 643,3448 650,3446M629,3453C626,3437 609,3440 601,3431M586,3141C544,3179 552,3223 572,3268M431,3181C427,3236 470,3257 505,3284M336,3310C393,3294 419,3363 471,3357M564,3558C563,3508 596,3480 629,3453M734,3622C733,3610 749,3609 749,3598M734,3622C710,3646 751,3678 726,3702M749,3598C794,3607 835,3594 873,3571M726,3702C764,3734 816,3677 853,3720M873,3571C841,3617 853,3660 882,3702M876,3568C876,3570 874,3570 873,3571M853,3831C865,3794 851,3757 853,3720M974,3722C950,3689 909,3726 882,3702M1550,3394C1487,3376 1449,3415 1412,3457M1570,3413C1573,3462 1518,3494 1532,3546M1532,3546C1499,3569 1469,3527 1437,3542M1411,3622C1427,3598 1409,3563 1437,3542M1388,3446C1398,3444 1404,3453 1412,3457M1550,3394C1575,3357 1547,3323 1544,3288M1544,3288C1489,3290 1435,3290 1382,3307M1262,3302C1297,3317 1328,3312 1356,3285M1356,3285C1365,3292 1375,3296 1382,3307M1356,3285C1355,3256 1365,3230 1369,3202M1507,3221C1529,3234 1530,3262 1547,3280M1634,3071C1650,3152 1606,3213 1561,3273M1561,3273C1556,3274 1554,3281 1547,3280M1544,3288C1546,3285 1544,3281 1547,3280M1408,3179C1449,3173 1463,3232 1507,3221" fill="none" stroke="#c4c4c4" stroke-width="11" stroke-opacity="0.26" stroke-dasharray="26 14 40 22 12 18" filter="url(#bl4)"/>
<path d="M1985,4207C1968,4204 1971,4179 1952,4178M1990,4352C2087,4403 2188,4444 2295,4468M1061,10054C1270,8255 1264,6449 1269,4643M1269,4643C1212,4663 1153,4661 1094,4661M1034,5282C1211,5091 1051,4866 1094,4661M168,3082C131,3131 117,3191 89,3244M89,3244C117,3261 146,3278 180,3257M221,3224C215,3245 198,3252 180,3257M79,3247C83,3249 85,3244 89,3244M361,3171C346,3185 346,3211 325,3222M325,3222C291,3239 256,3234 221,3224M202,3334C174,3315 188,3282 180,3257M202,3334C240,3308 280,3285 329,3294M325,3222C314,3247 333,3270 329,3294M202,3334C201,3363 177,3387 183,3418M299,3436C270,3435 241,3434 213,3445M299,3436C315,3395 326,3353 336,3310M336,3310C332,3306 335,3298 329,3294M183,3418C185,3436 208,3431 213,3445M319,3589C320,3586 322,3586 323,3585M319,3589C276,3585 233,3585 191,3581M213,3445C210,3491 233,3542 191,3581M357,3474C338,3508 327,3545 323,3585M319,3589C336,3624 320,3661 327,3697M327,3697C367,3701 412,3690 444,3728M444,3728C411,3693 396,3655 415,3608M1839,4008C1885,4019 1922,3978 1967,3985M2084,4003C2051,3984 2014,4013 1981,3993M1952,4178C1946,4179 1940,4177 1934,4173M1934,4173C1919,4171 1906,4165 1902,4148M1034,5282C907,5075 1038,4833 944,4621M1094,4661C1093,4658 1089,4657 1088,4654M944,4621C948,4621 949,4617 951,4615M1088,4654C1044,4635 992,4646 951,4615M1691,4156C1675,4172 1684,4201 1658,4211M1691,4156C1698,4146 1710,4140 1717,4129M1717,4129C1749,4126 1780,4128 1810,4140M1810,4140C1759,4183 1758,4236 1780,4293M1658,4211C1701,4236 1760,4235 1780,4293M1810,4140C1825,4142 1832,4129 1844,4124M1832,4336C1819,4332 1807,4325 1793,4326M1112,4526C1075,4512 1044,4485 1005,4478M167,4575C156,4571 150,4563 147,4553M147,4553C90,4646 -4,4640 -94,4644M350,4647C324,4651 307,4664 302,4691M350,4647C347,4613 349,4579 342,4546M145,3861C193,3905 245,3905 299,3875M225,3711C241,3708 252,3720 265,3725M402,3857C450,3825 463,3782 444,3728M317,3888C314,3879 308,3876 299,3875M444,3728C444,3728 444,3728 444,3728M367,4207C405,4251 450,4242 496,4225M313,4264C335,4277 315,4306 335,4319M335,4319C385,4331 434,4342 476,4373M496,4225C501,4227 504,4230 505,4236M505,4236C528,4288 520,4334 476,4373M297,4418C302,4462 326,4497 355,4529M297,4418C286,4376 302,4344 335,4319M355,4529C375,4507 397,4500 425,4513M476,4373C475,4380 486,4381 485,4388M638,4148C623,4184 603,4216 572,4239M714,4150C744,4206 717,4252 691,4298M572,4239C596,4251 619,4264 627,4292M691,4298C669,4298 648,4293 627,4292M496,4225C521,4198 504,4165 509,4135M509,4135C540,4137 558,4113 582,4100M582,4100C612,4103 613,4139 638,4148M505,4236C527,4236 551,4223 572,4239M549,4396C576,4362 615,4337 627,4292M546,3710C574,3662 575,3612 563,3559M546,3710C514,3727 479,3725 444,3728M415,3608C441,3586 457,3559 465,3526M563,3559C522,3573 504,3518 465,3526M357,3474C379,3483 400,3466 421,3471M465,3526C459,3501 428,3495 421,3471M853,3831C815,3862 775,3868 733,3838M853,3831C875,3833 879,3855 892,3866M859,3981C834,3981 809,3985 785,3978M859,3981C874,3971 877,3949 895,3941M785,3978C735,3961 737,3908 714,3873M895,3941C881,3917 885,3891 892,3866M714,3873C713,3857 730,3851 733,3838M2204,3803C2099,3738 2011,3788 1925,3846M1945,3646C1942,3660 1925,3661 1919,3673M1967,3985C1933,3947 1901,3909 1918,3852M1990,4352C1971,4387 1942,4398 1905,4386M1832,4336C1857,4340 1870,4360 1885,4378M1905,4386C1898,4382 1892,4378 1885,4378M2295,4468C2175,4520 2045,4486 1922,4516M1905,4386C1944,4425 1898,4475 1922,4516M2014,4662C1992,4611 1946,4581 1906,4547M1916,4763C1841,4725 1861,4638 1821,4581M1859,4929C1862,4814 1693,4770 1739,4637M1739,4637C1748,4596 1774,4578 1815,4581M1815,4581C1817,4580 1819,4581 1821,4581M2014,4662C2002,4716 1948,4728 1916,4763M1906,4547C1868,4535 1849,4569 1821,4581M1885,4378C1880,4448 1779,4434 1775,4504M1775,4504C1801,4523 1812,4550 1815,4581M1739,4637C1724,4628 1710,4628 1696,4638M1696,4638C1698,4773 1568,4841 1536,4958M1260,4232C1270,4199 1289,4171 1306,4142M1260,4232C1298,4238 1330,4257 1362,4277M1306,4142C1328,4150 1350,4157 1372,4142M1372,4142C1387,4162 1405,4182 1420,4203M1171,4380C1187,4382 1199,4391 1209,4402M1171,4380C1171,4325 1110,4280 1143,4219M1257,4234C1224,4205 1181,4234 1146,4215M1143,4219C1144,4218 1145,4216 1146,4215M1246,4394C1233,4393 1223,4407 1209,4402M1171,4380C1120,4390 1072,4335 1020,4372M1209,4402C1168,4427 1175,4474 1161,4511M1269,4643C1272,4640 1273,4636 1275,4633M944,4621C903,4607 868,4640 828,4637M821,4497C800,4541 813,4585 819,4630M850,4465C888,4487 940,4467 972,4507M828,4637C823,4636 820,4635 819,4630M828,4637C533,5026 353,5429 673,5894M845,4443C846,4435 857,4432 855,4423M1020,4372C1009,4361 1001,4348 998,4332M728,4338C723,4346 733,4355 726,4364M855,4423C840,4375 892,4325 850,4279M1143,4219C1079,4212 1051,4296 984,4282M984,4282C993,4297 980,4319 998,4332M297,4418C264,4400 230,4436 197,4417M313,4264C289,4246 263,4235 233,4246M197,4417C194,4406 191,4394 180,4388M57,4470C81,4499 107,4525 143,4539M37,4210C67,4212 73,4243 93,4255M93,4255C105,4294 96,4326 61,4350M233,4246C222,4232 198,4236 193,4214M193,4214C151,4206 135,4261 93,4255M180,4388C151,4341 90,4396 61,4350M146,4000C161,4003 166,4021 181,4023M181,4023C235,4017 286,4005 308,3946M145,3861C128,3834 104,3826 74,3831M146,4000C125,4027 98,4032 68,4018M189,4151C141,4173 113,4127 74,4117M189,4151C200,4138 191,4118 206,4106M181,4023C187,4052 184,4083 206,4106M193,4214C186,4194 191,4172 189,4151M598,4435C616,4466 609,4497 599,4528M599,4528C634,4501 671,4528 707,4524M700,4408C690,4441 708,4467 724,4493M726,4364C725,4383 712,4395 700,4408M821,4497C789,4494 755,4522 724,4493M734,4615C765,4603 787,4646 819,4630M734,4615C739,4580 730,4550 707,4524M599,4528C599,4540 581,4540 583,4552M465,4542C506,4518 545,4524 583,4552M804,4162C837,4139 881,4127 888,4078M804,4162C819,4199 815,4247 863,4267M981,4118C946,4114 915,4102 888,4078M723,4043C740,4076 717,4110 725,4143M725,4143C750,4157 775,4167 804,4162M859,3981C874,4012 890,4042 888,4078M725,4143C723,4147 718,4149 714,4150M984,4282C981,4279 980,4273 975,4273M367,4207C362,4170 341,4133 367,4096M461,4090C430,4098 398,4085 367,4096M206,4106C259,4116 301,4059 356,4082M308,3946C344,3964 328,4010 354,4032M354,4032C344,4049 349,4065 356,4082M367,4096C361,4093 363,4084 356,4082M81,3713C127,3724 156,3700 179,3664M191,3581C189,3584 188,3587 185,3588M225,3711C196,3708 181,3692 179,3664M1306,4142C1261,4134 1271,4083 1243,4062M1545,4084C1544,4089 1538,4088 1537,4093M1537,4093C1495,4095 1456,4088 1422,4061M1598,4001C1573,3992 1567,3964 1547,3950M1454,3948C1444,3973 1421,3985 1402,4001M1422,4061C1422,4039 1414,4019 1402,4001M1691,4156C1626,4165 1606,4083 1545,4084M1662,3996C1640,3996 1619,3996 1598,4001M2381,3402C2256,3438 2123,3394 1998,3435M1998,3435C2001,3364 1935,3349 1899,3309M1899,3309C1913,3298 1911,3273 1934,3269M1934,3269C1951,3249 1950,3225 1950,3201M2471,3407C2356,3618 2120,3503 1962,3596M1998,3435C1989,3439 1992,3450 1984,3454M1945,3646C1944,3637 1945,3629 1943,3620M1962,3596C1960,3607 1949,3612 1943,3620M583,3838C557,3875 523,3901 479,3915M512,3981C535,3993 568,3975 585,4005M733,3838C733,3795 746,3751 715,3713M560,3720C540,3765 611,3792 583,3838M546,3710C549,3715 557,3714 560,3720M402,3857C440,3860 440,3914 479,3915M723,4043C681,4034 660,3978 608,3994M354,4032C403,4013 431,3953 494,3962M582,4100C601,4069 591,4037 585,4005M1839,4008C1822,3995 1813,3975 1800,3958M1918,3852C1893,3842 1871,3860 1848,3861M1848,3861C1808,3882 1812,3924 1800,3958M1662,3996C1681,3995 1692,3984 1695,3965M1696,4638C1685,4624 1669,4616 1655,4606M1509,4818C1467,4735 1426,4651 1321,4630M1510,4698C1475,4652 1406,4665 1370,4620M1528,4640C1526,4661 1515,4679 1510,4698M1286,4626C1297,4634 1310,4619 1321,4630M1143,4180C1144,4158 1126,4152 1112,4143M1003,4103C1029,4146 1067,4154 1112,4143M726,3206C709,3178 674,3164 662,3131M1848,3861C1819,3853 1808,3832 1803,3805M1695,3965C1655,3933 1663,3892 1677,3851M1803,3805C1749,3788 1713,3819 1677,3851M1521,3757C1528,3795 1548,3824 1582,3845M1521,3757C1572,3778 1610,3732 1656,3729M1582,3845C1606,3838 1629,3828 1655,3828M1656,3729C1639,3762 1649,3795 1655,3828M1547,3950C1553,3930 1537,3908 1552,3889M1677,3851C1671,3842 1655,3842 1655,3828M1513,4377C1562,4344 1505,4284 1547,4249M1596,4243C1635,4291 1646,4366 1725,4374M1725,4374C1713,4390 1709,4411 1694,4426M1793,4326C1773,4346 1744,4352 1725,4374M1513,4377C1510,4378 1509,4382 1507,4384M1507,4384C1517,4422 1526,4461 1521,4502M1521,4502C1502,4516 1488,4532 1492,4558M1370,4620C1408,4614 1440,4598 1456,4560M1492,4558C1480,4551 1468,4558 1456,4560M602,4616C605,4616 604,4619 606,4620M734,4615C725,4614 722,4622 717,4625M717,4625C680,4618 642,4636 606,4620M717,4625C541,4750 542,4923 584,5108M1243,4062C1254,4036 1248,4014 1229,3993M1402,4001C1352,4024 1314,4005 1282,3965M1003,3325C1013,3324 1020,3320 1025,3312M1025,3312C1097,3319 1088,3429 1168,3425M1168,3425C1149,3457 1128,3488 1140,3529M1018,3474C1069,3470 1106,3497 1140,3529M726,3206C721,3235 680,3249 692,3286M842,3173C846,3203 845,3235 876,3255M808,3351C804,3300 871,3299 876,3255M808,3351C774,3324 736,3307 695,3295M695,3295C694,3291 692,3289 692,3286M808,3351C794,3383 836,3399 830,3428M695,3295C681,3346 652,3392 650,3446M715,3472C742,3427 787,3431 830,3428M876,3255C902,3307 967,3290 1003,3325M970,3404C928,3398 895,3416 867,3446M867,3446C857,3436 838,3443 830,3428M1018,3474C1015,3518 963,3534 958,3578M867,3446C884,3486 838,3530 876,3568M1030,3226C1012,3252 1010,3277 1031,3303M1030,3226C1081,3209 1133,3195 1161,3143M1031,3303C1064,3273 1101,3259 1146,3269M1146,3269C1153,3228 1169,3189 1175,3148M997,3145C1012,3170 1034,3193 1030,3226M1794,3455C1764,3474 1731,3448 1700,3460M1702,3335C1739,3322 1764,3291 1799,3274M1865,3319C1853,3289 1814,3298 1799,3274M1702,3335C1664,3327 1661,3285 1634,3267M1146,3269C1163,3312 1202,3316 1240,3323M1240,3135C1281,3186 1299,3241 1262,3302M1262,3302C1258,3312 1243,3311 1240,3323M1674,3644C1708,3651 1738,3637 1768,3625M1674,3644C1663,3661 1686,3675 1678,3692M1768,3625C1791,3657 1843,3654 1858,3696M1858,3696C1845,3724 1828,3749 1797,3760M1846,3545C1800,3552 1772,3577 1768,3625M1691,3465C1694,3464 1696,3461 1700,3460M1521,3757C1497,3730 1452,3761 1431,3726M1656,3729C1673,3723 1675,3707 1678,3692M1434,3711C1435,3716 1433,3721 1431,3726M1434,3711C1483,3672 1540,3646 1591,3611M1591,3611C1612,3618 1632,3609 1653,3613M1803,3805C1810,3789 1804,3775 1797,3760M1376,4363C1402,4389 1437,4380 1469,4386M1469,4386C1409,4402 1411,4461 1387,4503M1283,4406C1307,4436 1336,4464 1322,4508M1322,4508C1343,4499 1367,4518 1387,4503M1362,4277C1359,4307 1385,4332 1376,4363M1507,4384C1494,4385 1481,4385 1469,4386M1246,4394C1259,4396 1274,4391 1283,4406M1286,4626C1292,4585 1303,4545 1322,4508M1213,3582C1231,3578 1250,3578 1264,3562M1213,3582C1192,3581 1174,3569 1154,3566M1140,3529C1144,3542 1158,3551 1154,3566M1233,3376C1256,3417 1320,3405 1338,3454M1264,3562C1303,3536 1284,3470 1338,3454M1213,3582C1209,3628 1256,3652 1262,3693M1264,3562C1329,3544 1346,3642 1411,3622M1262,3693C1305,3754 1370,3722 1425,3732M1454,3948C1410,3906 1407,3851 1404,3796M1282,3965C1305,3929 1335,3896 1324,3849M1425,3732C1417,3749 1418,3768 1410,3784M895,3941C940,3950 983,3981 1033,3962M892,3866C924,3853 959,3846 972,3809M972,3809C985,3823 1013,3818 1018,3844M1003,4103C1036,4069 1069,4036 1060,3982M1112,4143C1113,4083 1183,4038 1149,3970M1060,3982C1091,3992 1117,3956 1149,3970M1229,3993C1204,3988 1188,3955 1156,3968M1324,3849C1299,3813 1247,3828 1222,3793M1220,3754C1228,3767 1224,3780 1222,3793M1156,3968C1140,3931 1145,3893 1149,3856M1018,3844C1045,3824 1076,3819 1108,3819M1006,3623C1051,3619 1087,3584 1134,3589M1006,3623C1013,3661 1010,3697 974,3722M1134,3589C1152,3633 1152,3675 1116,3712M958,3578C967,3601 1003,3594 1006,3623M1154,3566C1148,3575 1138,3579 1134,3589M972,3809C973,3783 955,3755 981,3732M1108,3819C1107,3791 1086,3768 1091,3740M1220,3754C1187,3737 1140,3754 1116,3712M575,3270C629,3316 639,3370 601,3431M601,3431C550,3433 524,3378 474,3376M471,3357C473,3363 470,3370 474,3376M692,3286C654,3273 618,3244 575,3270M629,3453C637,3451 643,3448 650,3446M629,3453C626,3437 609,3440 601,3431M586,3141C544,3179 552,3223 572,3268M431,3181C427,3236 470,3257 505,3284M336,3310C393,3294 419,3363 471,3357M564,3558C563,3508 596,3480 629,3453M734,3622C733,3610 749,3609 749,3598M734,3622C710,3646 751,3678 726,3702M749,3598C794,3607 835,3594 873,3571M726,3702C764,3734 816,3677 853,3720M873,3571C841,3617 853,3660 882,3702M876,3568C876,3570 874,3570 873,3571M853,3831C865,3794 851,3757 853,3720M974,3722C950,3689 909,3726 882,3702M1550,3394C1487,3376 1449,3415 1412,3457M1570,3413C1573,3462 1518,3494 1532,3546M1532,3546C1499,3569 1469,3527 1437,3542M1411,3622C1427,3598 1409,3563 1437,3542M1388,3446C1398,3444 1404,3453 1412,3457M1550,3394C1575,3357 1547,3323 1544,3288M1544,3288C1489,3290 1435,3290 1382,3307M1262,3302C1297,3317 1328,3312 1356,3285M1356,3285C1365,3292 1375,3296 1382,3307M1356,3285C1355,3256 1365,3230 1369,3202M1507,3221C1529,3234 1530,3262 1547,3280M1634,3071C1650,3152 1606,3213 1561,3273M1561,3273C1556,3274 1554,3281 1547,3280M1544,3288C1546,3285 1544,3281 1547,3280M1408,3179C1449,3173 1463,3232 1507,3221" fill="none" stroke="#d0d0d0" stroke-width="3" stroke-opacity="0.3" stroke-dasharray="8 9 5 13 12 7" filter="url(#bl1)"/>
<path d="M163 3272h0M192 3256h0M192 3333h0M183 3310h0M185 3294h0M173 3295h0M288 3296h0M300 3297h0M303 3296h0M332 3260h0M188 3347h0M186 3398h0M290 3429h0M283 3439h0M259 3453h0M250 3431h0M297 3428h0M298 3423h0M310 3426h0M308 3413h0M326 3417h0M308 3398h0M321 3389h0M329 3389h0M317 3347h0M180 3427h0M199 3429h0M207 3442h0M309 3600h0M226 3579h0M201 3587h0M214 3503h0M204 3542h0M202 3543h0M197 3568h0M335 3510h0M341 3519h0M326 3528h0M317 3561h0M332 3570h0M311 3575h0M318 3601h0M326 3607h0M323 3620h0M322 3623h0M327 3669h0M325 3673h0M366 3692h0M369 3700h0M391 3718h0M410 3712h0M426 3706h0M438 3727h0M407 3686h0M404 3675h0M408 3669h0M415 3664h0M406 3664h0M414 3619h0M409 3614h0M1843 4013h0M1841 4003h0M1854 4010h0M1881 3991h0M1894 4008h0M1902 4003h0M1900 3988h0M1914 4001h0M1951 4181h0M1946 4164h0M1934 4169h0M1928 4172h0M1698 4166h0M1679 4180h0M1698 4159h0M1725 4132h0M1730 4121h0M1802 4138h0M1785 4158h0M1763 4223h0M1779 4272h0M1700 4236h0M1705 4230h0M1736 4235h0M1775 4255h0M1773 4263h0M1822 4148h0M1830 4331h0M1825 4336h0M1093 4532h0M1082 4525h0M1069 4504h0M1067 4487h0M1044 4486h0M1040 4488h0M170 4571h0M150 4576h0M147 4567h0M339 4580h0M336 4552h0M189 3881h0M199 3878h0M203 3895h0M205 3886h0M235 3902h0M226 3711h0M445 3768h0M309 3883h0M490 4223h0M491 4224h0M326 4305h0M350 4315h0M357 4336h0M397 4353h0M408 4344h0M417 4343h0M420 4352h0M465 4367h0M498 4225h0M496 4232h0M510 4250h0M506 4286h0M528 4297h0M515 4322h0M305 4416h0M307 4463h0M306 4473h0M318 4480h0M333 4522h0M291 4410h0M290 4408h0M295 4362h0M486 4372h0M635 4157h0M635 4172h0M624 4179h0M731 4211h0M692 4288h0M590 4234h0M675 4303h0M659 4296h0M653 4296h0M638 4298h0M512 4209h0M512 4165h0M510 4164h0M496 4141h0M573 4113h0M594 4107h0M589 4116h0M619 4129h0M509 4239h0M524 4230h0M527 4231h0M529 4237h0M552 4387h0M575 4368h0M617 4325h0M620 4311h0M629 4307h0M566 3633h0M560 3621h0M576 3618h0M565 3587h0M573 3565h0M538 3719h0M496 3712h0M469 3729h0M443 3571h0M548 3561h0M470 3529h0M410 3475h0M441 3497h0M425 3497h0M439 3477h0M827 3852h0M825 3861h0M811 3850h0M802 3863h0M786 3852h0M824 3974h0M869 3956h0M772 3972h0M760 3964h0M718 3878h0M717 3878h0M889 3932h0M893 3926h0M894 3907h0M883 3894h0M898 3887h0M1952 3825h0M1940 3829h0M1930 3844h0M1938 3669h0M1924 3664h0M1949 3978h0M1936 3959h0M1946 3955h0M1905 3907h0M1918 3884h0M1908 3881h0M1908 3878h0M1905 3877h0M1919 3854h0M1878 4377h0M1877 4384h0M1901 4392h0M1906 4395h0M1916 4398h0M1827 4600h0M1774 4594h0M1812 4587h0M1815 4582h0M1893 4546h0M1893 4551h0M1887 4561h0M1849 4567h0M1837 4573h0M1826 4571h0M1843 4444h0M1784 4523h0M1791 4531h0M1810 4549h0M1803 4580h0M1277 4209h0M1272 4177h0M1276 4174h0M1293 4177h0M1273 4243h0M1311 4251h0M1323 4263h0M1362 4265h0M1363 4274h0M1324 4154h0M1383 4156h0M1389 4155h0M1173 4386h0M1179 4380h0M1146 4311h0M1132 4293h0M1135 4283h0M1122 4278h0M1131 4273h0M1130 4243h0M1250 4226h0M1234 4219h0M1232 4221h0M1139 4214h0M1246 4402h0M1233 4406h0M1228 4400h0M1220 4393h0M1135 4374h0M1124 4376h0M1103 4367h0M1089 4374h0M1070 4359h0M1041 4363h0M1210 4405h0M1156 4475h0M1159 4505h0M914 4617h0M799 4547h0M802 4551h0M811 4564h0M812 4593h0M801 4596h0M817 4607h0M909 4485h0M915 4477h0M950 4474h0M855 4442h0M849 4439h0M997 4362h0M1008 4349h0M1013 4345h0M722 4357h0M838 4400h0M850 4397h0M853 4390h0M861 4377h0M856 4373h0M860 4364h0M879 4323h0M1120 4223h0M1105 4227h0M1101 4229h0M1059 4249h0M1052 4274h0M1041 4267h0M1026 4271h0M1022 4281h0M1020 4284h0M997 4297h0M259 4412h0M283 4249h0M256 4249h0M255 4236h0M196 4416h0M204 4224h0M197 4229h0M160 4237h0M178 4385h0M173 4368h0M143 4370h0M157 4008h0M180 4017h0M176 4028h0M176 4031h0M194 4025h0M202 4034h0M236 4015h0M237 4005h0M247 4017h0M248 4010h0M141 4152h0M201 4154h0M186 4073h0M197 4089h0M186 4096h0M203 4212h0M205 4199h0M186 4168h0M615 4460h0M607 4473h0M596 4490h0M625 4522h0M654 4522h0M691 4529h0M703 4515h0M702 4424h0M690 4446h0M724 4489h0M722 4366h0M701 4397h0M698 4397h0M812 4496h0M806 4509h0M806 4495h0M806 4485h0M740 4504h0M750 4612h0M763 4612h0M722 4551h0M716 4545h0M596 4530h0M473 4545h0M474 4540h0M562 4546h0M818 4156h0M846 4143h0M860 4136h0M857 4129h0M858 4128h0M812 4167h0M814 4177h0M810 4209h0M973 4113h0M944 4106h0M887 4089h0M738 4070h0M782 4164h0M869 3985h0M870 4008h0M877 4024h0M884 4071h0M905 4072h0M720 4136h0M722 4144h0M353 4122h0M453 4101h0M235 4103h0M253 4102h0M292 4088h0M301 4082h0M302 4077h0M353 4089h0M311 3950h0M323 4004h0M362 4024h0M353 4037h0M351 4061h0M344 4065h0M347 4079h0M168 3696h0M201 3714h0M1279 4131h0M1274 4123h0M1544 4088h0M1517 4093h0M1505 4094h0M1502 4089h0M1499 4096h0M1494 4094h0M1462 4083h0M1446 4077h0M1435 4083h0M1436 4069h0M1431 4076h0M1591 4002h0M1588 3999h0M1549 3970h0M1447 3946h0M1459 3960h0M1418 4029h0M1409 4012h0M1659 4151h0M1652 4162h0M1654 4145h0M1640 4140h0M1639 4140h0M1611 4119h0M1608 4108h0M1631 3991h0M1622 3993h0M1904 3307h0M1903 3309h0M1938 3262h0M564 3862h0M518 3902h0M514 3901h0M493 3906h0M522 3987h0M525 3980h0M741 3833h0M732 3824h0M733 3812h0M731 3802h0M728 3782h0M730 3767h0M733 3733h0M567 3770h0M570 3779h0M584 3791h0M594 3812h0M577 3838h0M553 3712h0M407 3854h0M707 4030h0M697 4036h0M664 4007h0M662 3989h0M386 4013h0M482 3957h0M489 3967h0M599 4073h0M587 4058h0M601 4021h0M1837 3985h0M1812 4001h0M1914 3847h0M1903 3857h0M1869 3842h0M1857 3865h0M1834 3871h0M1816 3905h0M1805 3938h0M1677 3984h0M1128 4138h0M1047 4143h0M1050 4151h0M1105 4151h0M1833 3844h0M1815 3831h0M1678 3946h0M1675 3943h0M1659 3905h0M1784 3804h0M1741 3806h0M1738 3802h0M1739 3812h0M1731 3828h0M1532 3778h0M1535 3776h0M1571 3850h0M1591 3751h0M1616 3737h0M1645 3730h0M1601 3844h0M1650 3830h0M1655 3737h0M1648 3749h0M1637 3767h0M1650 3784h0M1640 3789h0M1637 3796h0M1563 3926h0M1552 3892h0M1656 3839h0M1515 4376h0M1524 4376h0M1526 4347h0M1538 4322h0M1533 4315h0M1523 4307h0M1533 4304h0M1535 4291h0M1630 4326h0M1657 4351h0M1728 4367h0M1780 4334h0M1742 4350h0M1745 4360h0M1511 4419h0M1520 4444h0M1525 4444h0M1526 4493h0M1525 4504h0M1492 4551h0M1493 4557h0M1366 4610h0M1455 4571h0M1466 4567h0M1235 4056h0M1248 4032h0M1365 4029h0M1321 3993h0M1295 3974h0M1285 3980h0M1055 3325h0M1089 3357h0M1113 3382h0M1153 3451h0M1131 3524h0M1024 3479h0M1032 3476h0M1039 3464h0M1034 3480h0M1046 3480h0M1067 3478h0M1098 3492h0M1129 3520h0M693 3258h0M853 3290h0M776 3325h0M741 3314h0M687 3327h0M676 3331h0M680 3343h0M661 3370h0M649 3403h0M750 3450h0M752 3438h0M755 3430h0M785 3433h0M795 3440h0M800 3425h0M818 3438h0M896 3270h0M893 3280h0M903 3287h0M914 3288h0M983 3296h0M905 3401h0M898 3402h0M881 3433h0M847 3439h0M847 3436h0M1013 3484h0M1008 3510h0M994 3532h0M979 3529h0M956 3575h0M876 3476h0M866 3494h0M1004 3273h0M1020 3288h0M1034 3300h0M1032 3295h0M1056 3282h0M1062 3270h0M1143 3269h0M1150 3264h0M1786 3458h0M1739 3460h0M1718 3451h0M1711 3455h0M1730 3327h0M1735 3313h0M1837 3289h0M1793 3291h0M1695 3341h0M1683 3335h0M1668 3311h0M1662 3311h0M1640 3273h0M1159 3288h0M1189 3312h0M1209 3319h0M1245 3307h0M1285 3264h0M1275 3272h0M1273 3276h0M1698 3650h0M1722 3631h0M1732 3653h0M1739 3630h0M1740 3625h0M1751 3641h0M1658 3651h0M1666 3673h0M1832 3678h0M1842 3686h0M1844 3701h0M1839 3711h0M1849 3728h0M1841 3732h0M1827 3743h0M1835 3753h0M1800 3761h0M1834 3546h0M1830 3553h0M1794 3574h0M1783 3583h0M1772 3582h0M1783 3606h0M1774 3626h0M1519 3756h0M1493 3746h0M1450 3746h0M1438 3733h0M1673 3695h0M1435 3711h0M1442 3705h0M1513 3659h0M1528 3638h0M1572 3629h0M1581 3620h0M1597 3612h0M1623 3623h0M1390 4365h0M1420 4381h0M1444 4377h0M1465 4398h0M1405 4449h0M1397 4460h0M1393 4482h0M1299 4422h0M1318 4455h0M1325 4465h0M1327 4494h0M1381 4503h0M1383 4501h0M1363 4278h0M1367 4287h0M1365 4299h0M1356 4308h0M1367 4308h0M1390 4340h0M1388 4356h0M1474 4380h0M1276 4404h0M1301 4606h0M1315 4524h0M1310 4520h0M1325 4520h0M1235 3585h0M1259 3574h0M1257 3563h0M1202 3594h0M1166 3577h0M1140 3530h0M1144 3548h0M1146 3567h0M1243 3386h0M1245 3401h0M1270 3402h0M1336 3427h0M1339 3450h0M1294 3509h0M1303 3486h0M1313 3458h0M1327 3452h0M1327 3451h0M1254 3696h0M1299 3725h0M1421 3724h0M1423 3909h0M1414 3892h0M1414 3877h0M1408 3865h0M1399 3868h0M1420 3813h0M1405 3814h0M1303 3930h0M1315 3918h0M1325 3884h0M1415 3766h0M1412 3770h0M898 3937h0M912 3956h0M943 3942h0M952 3971h0M985 3973h0M988 3966h0M1016 3972h0M934 3830h0M955 3824h0M972 3824h0M974 3814h0M1018 3831h0M1011 4095h0M1007 4091h0M1069 4004h0M1113 4125h0M1117 4121h0M1121 4106h0M1142 4062h0M1157 3979h0M1146 3972h0M1075 3974h0M1098 3978h0M1145 3976h0M1229 3994h0M1158 3972h0M1160 3961h0M1318 3837h0M1272 3819h0M1231 3797h0M1228 3785h0M1143 3888h0M1149 3882h0M1029 3841h0M1026 3826h0M1047 3830h0M1061 3835h0M1059 3809h0M1091 3822h0M1015 3627h0M1061 3601h0M1085 3594h0M1112 3596h0M995 3691h0M1002 3703h0M973 3700h0M1153 3662h0M968 3592h0M998 3600h0M1143 3579h0M968 3769h0M1101 3794h0M1095 3788h0M1218 3758h0M1199 3749h0M1184 3734h0M1153 3744h0M1140 3736h0M601 3297h0M597 3306h0M629 3343h0M625 3368h0M603 3422h0M547 3402h0M547 3402h0M539 3414h0M523 3399h0M517 3397h0M511 3388h0M486 3386h0M469 3358h0M663 3275h0M587 3271h0M632 3449h0M636 3449h0M619 3456h0M358 3311h0M372 3313h0M431 3339h0M438 3348h0M455 3365h0M565 3551h0M563 3546h0M570 3530h0M616 3455h0M714 3626h0M720 3633h0M727 3633h0M732 3656h0M724 3669h0M728 3679h0M779 3590h0M811 3610h0M847 3584h0M770 3708h0M824 3698h0M827 3707h0M857 3590h0M860 3603h0M849 3831h0M863 3828h0M855 3817h0M854 3806h0M856 3770h0M849 3760h0M858 3733h0M962 3728h0M959 3719h0M940 3708h0M932 3703h0M895 3714h0M1499 3390h0M1471 3394h0M1468 3410h0M1466 3408h0M1429 3428h0M1428 3427h0M1416 3450h0M1572 3428h0M1571 3437h0M1543 3495h0M1534 3496h0M1529 3533h0M1524 3537h0M1504 3546h0M1485 3541h0M1443 3545h0M1413 3562h0M1403 3462h0M1553 3326h0M1547 3291h0M1494 3292h0M1444 3288h0M1430 3292h0M1415 3299h0M1392 3306h0M1282 3311h0M1322 3315h0M1326 3307h0M1354 3289h0M1365 3292h0M1372 3307h0M1536 3284h0M1578 3259h0M1572 3274h0M1562 3272h0M1552 3290h0" stroke="#eeeeee" stroke-width="3.5" stroke-linecap="round"/>
<path d="M160 3263h0M203 3261h0M182 3308h0M209 3333h0M261 3302h0M311 3282h0M333 3288h0M287 3429h0M253 3438h0M222 3447h0M287 3432h0M295 3403h0M333 3330h0M325 3314h0M198 3438h0M222 3522h0M206 3555h0M182 3576h0M343 3563h0M306 3559h0M321 3566h0M320 3603h0M334 3664h0M367 3707h0M1846 4023h0M1845 4012h0M1852 3996h0M1878 4007h0M1913 3986h0M1940 3983h0M1948 3974h0M1932 4175h0M1916 4168h0M1917 4166h0M1673 4193h0M1712 4140h0M1731 4124h0M1768 4177h0M1780 4189h0M1771 4231h0M1728 4232h0M1820 4136h0M1823 4323h0M347 4590h0M226 3882h0M297 3872h0M238 3724h0M246 3713h0M247 3709h0M254 3730h0M423 3835h0M441 3812h0M457 3774h0M452 3770h0M461 3751h0M380 4218h0M458 4238h0M496 4220h0M315 4271h0M320 4282h0M317 4295h0M331 4331h0M337 4325h0M401 4340h0M460 4377h0M481 4360h0M505 4227h0M526 4280h0M513 4314h0M310 4464h0M318 4466h0M318 4474h0M329 4489h0M334 4495h0M346 4519h0M302 4413h0M295 4360h0M319 4337h0M397 4512h0M404 4512h0M603 4195h0M604 4203h0M735 4215h0M721 4214h0M601 4255h0M610 4254h0M612 4273h0M684 4284h0M508 4200h0M558 4125h0M592 4108h0M600 4102h0M618 4130h0M548 4234h0M451 3725h0M424 3608h0M437 3590h0M562 3560h0M546 3576h0M546 3563h0M542 3563h0M539 3566h0M518 3536h0M401 3486h0M768 3853h0M748 3847h0M737 3838h0M874 3840h0M872 3846h0M882 3864h0M852 3978h0M870 3962h0M771 3977h0M772 3961h0M751 3939h0M734 3913h0M895 3936h0M894 3913h0M885 3887h0M719 3865h0M1935 3847h0M1933 3835h0M1926 3670h0M1942 3953h0M1925 3937h0M1924 3937h0M1925 3881h0M1925 3870h0M1924 4390h0M1925 4394h0M1910 4398h0M1831 4342h0M1951 4504h0M1927 4516h0M1922 4506h0M1926 4409h0M1923 4490h0M1943 4583h0M1826 4597h0M1756 4601h0M1768 4599h0M1875 4537h0M1846 4572h0M1833 4567h0M1827 4445h0M1810 4432h0M1799 4466h0M1782 4517h0M1804 4546h0M1809 4574h0M1807 4581h0M1258 4197h0M1277 4185h0M1288 4154h0M1293 4245h0M1320 4258h0M1340 4154h0M1393 4159h0M1415 4199h0M1145 4300h0M1132 4291h0M1134 4258h0M1212 4215h0M1196 4220h0M1193 4227h0M1140 4216h0M1156 4226h0M1245 4392h0M1224 4398h0M1155 4385h0M1103 4365h0M1099 4369h0M1094 4381h0M1090 4364h0M1062 4355h0M1031 4354h0M1194 4405h0M1200 4411h0M1184 4446h0M813 4560h0M951 4482h0M951 4504h0M847 4439h0M1011 4345h0M862 4400h0M850 4399h0M850 4398h0M836 4386h0M864 4352h0M869 4349h0M862 4348h0M868 4314h0M860 4292h0M1063 4261h0M1012 4273h0M289 4419h0M263 4411h0M303 4267h0M298 4252h0M198 4405h0M206 4227h0M209 4018h0M238 4005h0M141 4150h0M206 4065h0M196 4102h0M203 4213h0M192 4151h0M589 4444h0M607 4505h0M606 4524h0M611 4519h0M624 4511h0M637 4521h0M665 4526h0M704 4527h0M688 4420h0M698 4420h0M723 4468h0M722 4362h0M734 4375h0M802 4496h0M729 4615h0M740 4588h0M596 4530h0M505 4521h0M506 4516h0M515 4515h0M869 4133h0M822 4246h0M981 4112h0M726 4092h0M727 4119h0M728 4139h0M738 4152h0M804 4158h0M855 4005h0M864 4016h0M721 4146h0M979 4278h0M361 4154h0M368 4100h0M242 4106h0M246 4111h0M349 4061h0M138 3707h0M215 3716h0M204 3697h0M192 3675h0M177 3676h0M1282 4138h0M1557 4095h0M1533 4102h0M1530 4097h0M1516 4082h0M1508 4081h0M1496 4099h0M1589 3993h0M1556 3956h0M1430 3975h0M1401 3994h0M1419 4061h0M1418 4047h0M1413 4019h0M1681 4152h0M1627 4145h0M1592 4097h0M1585 4101h0M1575 4090h0M1618 3995h0M1921 3321h0M1902 3307h0M587 3852h0M553 3868h0M528 3889h0M507 3905h0M720 3763h0M721 3729h0M564 3761h0M575 3837h0M584 3838h0M441 3885h0M450 3910h0M454 3910h0M708 4035h0M689 4035h0M677 4019h0M641 3987h0M430 3974h0M456 3958h0M462 3963h0M464 3957h0M588 4048h0M589 4032h0M1814 3980h0M1807 3980h0M1853 3853h0M1820 3914h0M1141 4148h0M1845 3863h0M1804 3814h0M1668 3945h0M1669 3917h0M1671 3870h0M1700 3824h0M1515 3764h0M1523 3762h0M1520 3778h0M1540 3819h0M1551 3825h0M1578 3846h0M1568 3765h0M1578 3759h0M1626 3738h0M1648 3736h0M1630 3850h0M1643 3734h0M1643 3748h0M1649 3770h0M1644 3808h0M1655 3812h0M1645 3824h0M1557 3909h0M1517 4377h0M1525 4259h0M1613 4261h0M1636 4325h0M1652 4311h0M1727 4382h0M1698 4395h0M1717 4411h0M1797 4336h0M1786 4325h0M1738 4363h0M1507 4373h0M1501 4399h0M1521 4441h0M1499 4515h0M1504 4533h0M1496 4549h0M1492 4555h0M1405 4608h0M1416 4584h0M1429 4598h0M1490 4564h0M1487 4565h0M1468 4559h0M716 4618h0M620 4612h0M1234 4028h0M1234 4027h0M1225 4017h0M1248 4002h0M1376 4021h0M1001 3319h0M1077 3356h0M1149 3480h0M1131 3502h0M1102 3501h0M1112 3507h0M688 3277h0M815 3334h0M827 3317h0M878 3277h0M789 3333h0M772 3336h0M757 3319h0M687 3297h0M815 3394h0M822 3401h0M676 3365h0M785 3437h0M881 3280h0M963 3407h0M913 3416h0M864 3451h0M1002 3490h0M1001 3505h0M985 3528h0M983 3533h0M978 3534h0M861 3538h0M1002 3274h0M1024 3282h0M1064 3271h0M1091 3267h0M1760 3455h0M1748 3310h0M1776 3293h0M1823 3287h0M1812 3294h0M1804 3267h0M1662 3294h0M1662 3275h0M1647 3271h0M1155 3271h0M1234 3314h0M1677 3638h0M1680 3646h0M1751 3628h0M1674 3647h0M1684 3685h0M1837 3674h0M1845 3672h0M1851 3695h0M1843 3710h0M1813 3760h0M1826 3558h0M1691 3465h0M1697 3459h0M1435 3739h0M1660 3729h0M1438 3727h0M1454 3700h0M1551 3635h0M1558 3625h0M1573 3622h0M1597 3601h0M1643 3619h0M1794 3803h0M1403 4374h0M1407 4375h0M1448 4391h0M1452 4378h0M1454 4394h0M1416 4442h0M1417 4467h0M1289 4412h0M1331 4462h0M1321 4485h0M1329 4501h0M1358 4498h0M1366 4499h0M1376 4502h0M1505 4373h0M1269 4381h0M1275 4393h0M1305 4549h0M1149 3559h0M1253 3403h0M1288 3488h0M1300 3475h0M1232 3645h0M1248 3661h0M1261 3661h0M1260 3667h0M1289 3720h0M1322 3736h0M1368 3725h0M1420 3742h0M1438 3902h0M1428 3901h0M1424 3902h0M1415 3859h0M1408 3804h0M1315 3929h0M1327 3900h0M1323 3853h0M934 3952h0M959 3965h0M947 3850h0M950 3823h0M955 3829h0M982 3819h0M989 3824h0M1007 3817h0M999 3837h0M1071 4027h0M1134 4069h0M1134 4041h0M1126 3971h0M1190 3965h0M1172 3975h0M1321 3827h0M1269 3822h0M1210 3756h0M1220 3756h0M1211 3781h0M1223 3787h0M1146 3899h0M1143 3869h0M1063 3823h0M1064 3595h0M1121 3584h0M999 3622h0M993 3667h0M978 3719h0M1149 3637h0M1137 3655h0M1148 3658h0M967 3595h0M1154 3569h0M966 3772h0M964 3744h0M1093 3742h0M1218 3758h0M1152 3734h0M1147 3744h0M574 3283h0M600 3281h0M604 3303h0M617 3346h0M562 3421h0M546 3410h0M471 3360h0M663 3288h0M635 3275h0M650 3447h0M622 3450h0M360 3303h0M569 3514h0M629 3454h0M731 3620h0M736 3619h0M749 3625h0M730 3671h0M731 3677h0M734 3696h0M815 3599h0M827 3591h0M749 3711h0M750 3714h0M789 3707h0M859 3653h0M877 3691h0M865 3560h0M849 3796h0M859 3769h0M840 3768h0M971 3719h0M906 3719h0M1488 3402h0M1478 3408h0M1469 3413h0M1453 3410h0M1415 3444h0M1409 3447h0M1557 3441h0M1544 3486h0M1528 3492h0M1461 3534h0M1427 3567h0M1434 3545h0M1398 3443h0M1401 3444h0M1539 3394h0M1541 3296h0M1525 3294h0M1460 3281h0M1428 3293h0M1415 3292h0M1306 3315h0M1343 3307h0M1575 3260h0M1571 3266h0M1556 3272h0M1539 3263h0M1535 3277h0" stroke="#eeeeee" stroke-width="5" stroke-linecap="round"/>
<path d="M174 3266h0M203 3328h0M241 3313h0M315 3280h0M240 3430h0M304 3386h0M316 3584h0M198 3587h0M215 3533h0M353 3492h0M345 3505h0M318 3592h0M383 3707h0M420 3711h0M422 3705h0M425 3619h0M1866 4016h0M1902 4011h0M1707 4148h0M1707 4141h0M1775 4135h0M1752 4225h0M1771 4261h0M1806 4131h0M1836 4109h0M1816 4331h0M1792 4338h0M1102 4512h0M354 4614h0M353 4586h0M342 4573h0M206 3892h0M231 3715h0M262 3720h0M432 3805h0M455 3774h0M465 3764h0M321 3880h0M312 3880h0M435 3739h0M444 4238h0M451 4214h0M412 4331h0M507 4346h0M373 4514h0M569 4236h0M587 4251h0M604 4247h0M606 4283h0M509 4173h0M553 4144h0M607 4353h0M559 3690h0M559 3675h0M462 3725h0M447 3569h0M472 3520h0M367 3482h0M462 3513h0M447 3497h0M847 3986h0M727 3916h0M891 3878h0M714 3870h0M1881 4378h0M1901 4380h0M1944 4511h0M1938 4514h0M1918 4399h0M1836 4600h0M1776 4602h0M1820 4587h0M1800 4547h0M1255 4226h0M1267 4223h0M1284 4235h0M1366 4142h0M1370 4142h0M1401 4173h0M1151 4319h0M1245 4224h0M1025 4356h0M1192 4413h0M809 4498h0M795 4586h0M814 4607h0M1006 4377h0M999 4340h0M731 4341h0M725 4360h0M849 4285h0M1120 4229h0M1047 4264h0M1040 4262h0M1021 4271h0M196 4407h0M232 4244h0M221 4248h0M211 4222h0M197 4228h0M153 4368h0M139 4367h0M156 4005h0M218 4015h0M286 3964h0M676 4526h0M719 4375h0M787 4499h0M756 4514h0M738 4617h0M751 4618h0M730 4604h0M717 4565h0M593 4527h0M581 4545h0M820 4174h0M929 4104h0M911 4098h0M344 4156h0M268 4102h0M356 4105h0M171 3676h0M168 3660h0M191 3586h0M1442 4077h0M1430 3991h0M1424 4014h0M1683 4168h0M1589 4096h0M1920 3319h0M1914 3275h0M1944 3271h0M1936 3646h0M1949 3611h0M516 3898h0M501 3911h0M726 3814h0M557 3737h0M548 3709h0M553 3716h0M402 3989h0M404 3994h0M573 4020h0M1838 3999h0M1900 3840h0M1852 3864h0M1829 3878h0M1668 3999h0M1676 4615h0M1139 4146h0M1109 4151h0M1737 3800h0M1566 3824h0M1677 3846h0M1659 3847h0M1541 4370h0M1546 4330h0M1784 4342h0M1511 4501h0M1496 4543h0M1390 4612h0M1438 4593h0M674 4617h0M1257 4020h0M1140 3450h0M1056 3471h0M1107 3504h0M684 3268h0M766 3320h0M735 3315h0M740 3432h0M755 3424h0M926 3283h0M1002 3322h0M963 3403h0M835 3438h0M1015 3472h0M1007 3518h0M864 3499h0M1082 3257h0M1710 3456h0M1706 3335h0M1827 3284h0M1634 3292h0M1631 3272h0M1213 3314h0M1263 3303h0M1698 3642h0M1714 3644h0M1827 3664h0M1854 3726h0M1845 3725h0M1841 3722h0M1833 3737h0M1806 3762h0M1807 3555h0M1764 3614h0M1676 3727h0M1667 3704h0M1468 4386h0M1376 4281h0M1482 4394h0M1469 4385h0M1255 4391h0M1290 4572h0M1302 4534h0M1317 4535h0M1205 3574h0M1168 3568h0M1147 3533h0M1294 3432h0M1329 3432h0M1340 3445h0M1301 3487h0M1269 3700h0M1356 3725h0M1455 3940h0M1409 3834h0M1295 3954h0M914 3939h0M991 3965h0M899 3856h0M936 3845h0M970 3808h0M975 3808h0M976 3836h0M1048 4061h0M1040 4057h0M1123 4126h0M1076 3962h0M1137 3969h0M1218 3977h0M1200 3973h0M1238 3804h0M1153 3863h0M1024 3618h0M1122 3594h0M994 3699h0M996 3705h0M978 3723h0M1146 3624h0M1103 3792h0M593 3284h0M601 3301h0M543 3408h0M413 3336h0M612 3480h0M723 3644h0M733 3678h0M736 3711h0M744 3702h0M864 3674h0M850 3768h0M861 3742h0M913 3703h0M1512 3386h0M1498 3391h0M1476 3390h0M1464 3403h0M1541 3491h0M1522 3557h0M1463 3527h0M1429 3606h0M1421 3576h0M1557 3381h0M1556 3350h0M1546 3324h0M1465 3295h0M1342 3305h0M1366 3292h0M1535 3261h0" stroke="#eeeeee" stroke-width="7" stroke-linecap="round"/>
<ellipse cx="1477" cy="3720" rx="34" ry="30" fill="#000" filter="url(#bl2)"/>
<ellipse cx="1477" cy="3720" rx="25" ry="21" fill="#f0f0f0"/>
<ellipse cx="195" cy="3946" rx="22" ry="21" fill="#000" filter="url(#bl2)"/>
<ellipse cx="195" cy="3946" rx="15" ry="14" fill="#f0f0f0"/>
<ellipse cx="252" cy="3973" rx="8" ry="8" fill="#000" filter="url(#bl2)"/>
<ellipse cx="252" cy="3973" rx="6" ry="6" fill="#f0f0f0"/>
<ellipse cx="1350" cy="4426" rx="20" ry="22" fill="#000" filter="url(#bl2)"/>
<g fill="#f2f2f2"><circle cx="1336" cy="4423" r="5"/><circle cx="1340" cy="4416" r="5"/><circle cx="1343" cy="4420" r="5"/><circle cx="1337" cy="4413" r="5"/></g>
<g fill="#f2f2f2"><circle cx="1346" cy="4443" r="2"/><circle cx="1346" cy="4443" r="2"/></g>
<ellipse cx="1117" cy="3988" rx="27" ry="30" fill="#000" filter="url(#bl2)"/>
<ellipse cx="1117" cy="3988" rx="19" ry="22" fill="#f0f0f0"/>
<ellipse cx="1046" cy="3743" rx="28" ry="25" fill="#000" filter="url(#bl2)"/>
<ellipse cx="1046" cy="3743" rx="24" ry="21" fill="#f0f0f0"/>
<ellipse cx="1082" cy="3799" rx="15" ry="15" fill="#000" filter="url(#bl2)"/>
<ellipse cx="1082" cy="3799" rx="12" ry="12" fill="#f0f0f0"/>
<ellipse cx="1777" cy="3973" rx="17" ry="16" fill="#000" filter="url(#bl2)"/>
<ellipse cx="1777" cy="3973" rx="11" ry="10" fill="#f0f0f0"/>
<ellipse cx="1813" cy="3924" rx="13" ry="12" fill="#000" filter="url(#bl2)"/>
<ellipse cx="1813" cy="3924" rx="10" ry="9" fill="#f0f0f0"/>
<ellipse cx="1934" cy="3905" rx="11" ry="12" fill="#000" filter="url(#bl2)"/>
<ellipse cx="1934" cy="3905" rx="8" ry="9" fill="#f0f0f0"/>
<ellipse cx="1840" cy="3731" rx="8" ry="10" fill="#000" filter="url(#bl2)"/>
<ellipse cx="1840" cy="3731" rx="6" ry="8" fill="#f0f0f0"/>
<ellipse cx="1465" cy="3534" rx="11" ry="9" fill="#000" filter="url(#bl2)"/>
<ellipse cx="1465" cy="3534" rx="9" ry="7" fill="#f0f0f0"/>
<ellipse cx="1300" cy="3582" rx="30" ry="26" fill="#000" filter="url(#bl2)"/>
<circle cx="1285" cy="3586" r="6.7" fill="#f2f2f2"/>
<circle cx="1286" cy="3585" r="5.3" fill="#f2f2f2"/>
<circle cx="1306" cy="3594" r="5.5" fill="#f2f2f2"/>
<circle cx="1301" cy="3580" r="4.2" fill="#f2f2f2"/>
<circle cx="1319" cy="3593" r="5.8" fill="#f2f2f2"/>
<circle cx="1327" cy="3588" r="6.9" fill="#f2f2f2"/>
<circle cx="1290" cy="3569" r="3.6" fill="#f2f2f2"/>
<circle cx="1315" cy="3583" r="3.2" fill="#f2f2f2"/>
<circle cx="1302" cy="3588" r="3.1" fill="#f2f2f2"/>
<circle cx="1288" cy="3585" r="6.4" fill="#f2f2f2"/>
<circle cx="1282" cy="3580" r="5.0" fill="#f2f2f2"/>
<circle cx="1293" cy="3572" r="4.1" fill="#f2f2f2"/>
<circle cx="1328" cy="3582" r="6.4" fill="#f2f2f2"/>
<circle cx="1298" cy="3574" r="3.9" fill="#f2f2f2"/>
<circle cx="1300" cy="3584" r="6.1" fill="#f2f2f2"/>
<circle cx="1281" cy="3595" r="4.5" fill="#f2f2f2"/>
<circle cx="1323" cy="3576" r="3.0" fill="#f2f2f2"/>
<circle cx="1306" cy="3604" r="4.9" fill="#f2f2f2"/>
<circle cx="1311" cy="3581" r="3.3" fill="#f2f2f2"/>
<circle cx="1285" cy="3568" r="4.1" fill="#f2f2f2"/>
<circle cx="1308" cy="3586" r="6.9" fill="#f2f2f2"/>
<circle cx="1300" cy="3579" r="4.0" fill="#f2f2f2"/>
<circle cx="1301" cy="3583" r="6.2" fill="#f2f2f2"/>
<circle cx="1307" cy="3595" r="4.8" fill="#f2f2f2"/>
<circle cx="1307" cy="3599" r="3.5" fill="#f2f2f2"/>
<circle cx="1298" cy="3580" r="4.7" fill="#f2f2f2"/>
<ellipse cx="1544" cy="3293" rx="46" ry="22" fill="#000" filter="url(#bl2)"/>
<circle cx="1547" cy="3298" r="7.9" fill="#f2f2f2"/>
<circle cx="1548" cy="3288" r="7.5" fill="#f2f2f2"/>
<circle cx="1548" cy="3300" r="7.4" fill="#f2f2f2"/>
<circle cx="1541" cy="3292" r="8.0" fill="#f2f2f2"/>
<circle cx="1546" cy="3298" r="7.1" fill="#f2f2f2"/>
<circle cx="1538" cy="3298" r="4.3" fill="#f2f2f2"/>
<circle cx="1564" cy="3299" r="5.0" fill="#f2f2f2"/>
<circle cx="1532" cy="3289" r="5.8" fill="#f2f2f2"/>
<circle cx="1563" cy="3291" r="6.3" fill="#f2f2f2"/>
<circle cx="1549" cy="3291" r="4.6" fill="#f2f2f2"/>
<circle cx="1571" cy="3285" r="5.0" fill="#f2f2f2"/>
<circle cx="1555" cy="3305" r="7.8" fill="#f2f2f2"/>
<circle cx="1557" cy="3309" r="7.5" fill="#f2f2f2"/>
<circle cx="1531" cy="3288" r="4.4" fill="#f2f2f2"/>
<circle cx="1581" cy="3297" r="5.0" fill="#f2f2f2"/>
<circle cx="1541" cy="3289" r="7.3" fill="#f2f2f2"/>
<circle cx="1534" cy="3290" r="4.7" fill="#f2f2f2"/>
<circle cx="1543" cy="3292" r="4.9" fill="#f2f2f2"/>
<circle cx="1512" cy="3287" r="6.5" fill="#f2f2f2"/>
<circle cx="1537" cy="3309" r="4.8" fill="#f2f2f2"/>
<circle cx="1555" cy="3294" r="5.8" fill="#f2f2f2"/>
<circle cx="1551" cy="3294" r="5.5" fill="#f2f2f2"/>
<circle cx="1539" cy="3292" r="5.4" fill="#f2f2f2"/>
<circle cx="1574" cy="3282" r="6.6" fill="#f2f2f2"/>
<circle cx="996" cy="3308" r="26" fill="#000" filter="url(#bl2)"/>
<circle cx="993" cy="3300" r="3.4" fill="#f2f2f2"/>
<circle cx="996" cy="3308" r="5.7" fill="#f2f2f2"/>
<circle cx="991" cy="3294" r="3.1" fill="#f2f2f2"/>
<circle cx="991" cy="3302" r="5.2" fill="#f2f2f2"/>
<circle cx="989" cy="3322" r="3.2" fill="#f2f2f2"/>
<circle cx="985" cy="3305" r="5.7" fill="#f2f2f2"/>
<circle cx="995" cy="3297" r="5.4" fill="#f2f2f2"/>
<circle cx="1001" cy="3305" r="5.1" fill="#f2f2f2"/>
<circle cx="967" cy="3346" r="18" fill="#000" filter="url(#bl2)"/>
<circle cx="975" cy="3340" r="4.3" fill="#f2f2f2"/>
<circle cx="969" cy="3337" r="4.7" fill="#f2f2f2"/>
<circle cx="964" cy="3343" r="4.7" fill="#f2f2f2"/>
<circle cx="966" cy="3345" r="4.9" fill="#f2f2f2"/>
<circle cx="976" cy="3346" r="5.2" fill="#f2f2f2"/>
<circle cx="961" cy="3351" r="4.7" fill="#f2f2f2"/>
<circle cx="959" cy="3349" r="3.3" fill="#f2f2f2"/>
<circle cx="967" cy="3346" r="4.8" fill="#f2f2f2"/>
<circle cx="1842" cy="3293" r="16" fill="#000" filter="url(#bl2)"/>
<circle cx="1840" cy="3293" r="5.1" fill="#f2f2f2"/>
<circle cx="1836" cy="3293" r="5.8" fill="#f2f2f2"/>
<circle cx="1842" cy="3293" r="3.9" fill="#f2f2f2"/>
<circle cx="1841" cy="3291" r="3.5" fill="#f2f2f2"/>
<circle cx="1847" cy="3289" r="4.3" fill="#f2f2f2"/>
<circle cx="1844" cy="3291" r="5.0" fill="#f2f2f2"/>
<circle cx="1843" cy="3297" r="5.4" fill="#f2f2f2"/>
<circle cx="1849" cy="3289" r="4.2" fill="#f2f2f2"/>
<path d="M1150,3380 L1175,3387 L1200,3392" stroke="#e8e8e8" stroke-width="6" fill="none"/>
<path d="M700,4560 L745,4565 L752,4612 L700,4612 Z" fill="#000" filter="url(#bl2)"/>
<path d="M697,4532 L722,4576 L742,4615" stroke="#eeeeee" stroke-width="7" fill="none"/>
<path d="M690,4580 L735,4586" stroke="#eeeeee" stroke-width="8" fill="none"/>
<ellipse cx="705" cy="4592" rx="9" ry="14" fill="#eeeeee"/>
<rect x="1944" y="3256" width="10" height="1362" fill="#000" filter="url(#bl2)"/>
<rect x="135" y="3252" width="1817" height="10" fill="#000" filter="url(#bl2)"/>
<rect x="132" y="3256" width="8" height="1362" fill="#000" filter="url(#bl2)"/>
<rect x="135" y="4615" width="1817" height="3" fill="#a8a8a8"/>
</g>
<g clip-path="url(#insclip)">
<rect x="136" y="3258" width="752" height="660" fill="#5e5e5e" filter="url(#nz2)"/>
<ellipse cx="592" cy="3490" rx="46.0" ry="38.0" fill="#000" fill-opacity="0.85" filter="url(#bl2)"/>
<g fill="#f2f2f2"><circle cx="575" cy="3503" r="18"/><circle cx="581" cy="3490" r="16"/><circle cx="599" cy="3501" r="14"/><circle cx="570" cy="3502" r="16"/><circle cx="604" cy="3471" r="16"/><circle cx="602" cy="3480" r="20"/><circle cx="611" cy="3473" r="14"/><circle cx="594" cy="3506" r="16"/><circle cx="579" cy="3487" r="14"/></g>
<circle cx="583" cy="3488" r="4" fill="#111"/>
<circle cx="584" cy="3483" r="3" fill="#111"/>
<g fill="#f2f2f2"><circle cx="645" cy="3514" r="3"/><circle cx="638" cy="3513" r="4"/></g>
<g fill="#f2f2f2"><circle cx="723" cy="3484" r="4"/></g>
<ellipse cx="732" cy="3518" rx="18" ry="11" fill="#d8d8d8" fill-opacity="0.7" filter="url(#bl2)"/>
<ellipse cx="179" cy="3521" rx="29.0" ry="24.0" fill="#000" fill-opacity="0.85" filter="url(#bl2)"/>
<g fill="#f2f2f2"><circle cx="171" cy="3511" r="11"/><circle cx="168" cy="3510" r="11"/><circle cx="192" cy="3529" r="12"/><circle cx="170" cy="3522" r="10"/><circle cx="169" cy="3511" r="10"/><circle cx="192" cy="3529" r="13"/></g>
<ellipse cx="242" cy="3653" rx="18.0" ry="16.5" fill="#000" fill-opacity="0.85" filter="url(#bl2)"/>
<g fill="#f2f2f2"><circle cx="244" cy="3657" r="8"/><circle cx="250" cy="3657" r="8"/><circle cx="234" cy="3652" r="8"/><circle cx="245" cy="3659" r="6"/></g>
<ellipse cx="200" cy="3735" rx="24" ry="23" fill="#000" fill-opacity="0.8" filter="url(#bl2)"/>
<ellipse cx="200" cy="3735" rx="19" ry="18" fill="#f2f2f2"/>
<g fill="#f2f2f2"><circle cx="174" cy="3809" r="7"/><circle cx="163" cy="3796" r="7"/><circle cx="167" cy="3808" r="7"/><circle cx="173" cy="3800" r="8"/><circle cx="172" cy="3803" r="7"/></g>
<path d="M222,3670 L212,3690 L200,3715" stroke="#cfcfcf" stroke-width="8" stroke-dasharray="5 3" fill="none"/>
<g fill="#f2f2f2"><circle cx="500" cy="3618" r="4"/></g>
<g fill="#f2f2f2"><circle cx="459" cy="3524" r="4"/></g>
<g fill="#f2f2f2"><circle cx="172" cy="3260" r="6"/><circle cx="182" cy="3254" r="7"/><circle cx="183" cy="3255" r="7"/><circle cx="176" cy="3255" r="7"/></g>
<g fill="#f2f2f2"><circle cx="855" cy="3265" r="5"/><circle cx="850" cy="3269" r="5"/></g>
<g fill="#f2f2f2"><circle cx="856" cy="3318" r="5"/></g>
<g fill="#f2f2f2"><circle cx="726" cy="3296" r="4"/><circle cx="723" cy="3288" r="4"/></g>
<g fill="#f2f2f2"><circle cx="701" cy="3306" r="3"/></g>
<g fill="#f2f2f2"><circle cx="830" cy="3736" r="4"/><circle cx="841" cy="3732" r="3"/><circle cx="838" cy="3735" r="3"/></g>
<g fill="#f2f2f2"><circle cx="845" cy="3436" r="4"/><circle cx="838" cy="3444" r="3"/><circle cx="844" cy="3442" r="4"/></g>
<g fill="#f2f2f2"><circle cx="521" cy="3287" r="3"/></g>
<g fill="#f2f2f2"><circle cx="539" cy="3643" r="3"/></g>
<rect x="877" y="3258" width="10" height="540" fill="#4c5057" fill-opacity="0.75"/>
<rect x="134" y="3258" width="12" height="660" fill="#111" filter="url(#bl2)"/>
<rect x="136" y="3908" width="752" height="10" fill="#111" filter="url(#bl2)"/>
<ellipse cx="312" cy="3539" rx="32" ry="26" fill="#cfcfcf" fill-opacity="0.45" filter="url(#bl4)"/>
<ellipse cx="397" cy="3495" rx="22" ry="10" fill="#cfcfcf" fill-opacity="0.4" filter="url(#bl4)"/>
<circle cx="300" cy="3530" r="3.5" fill="#eeeeee"/>
<circle cx="318" cy="3548" r="3.5" fill="#eeeeee"/>
<circle cx="326" cy="3528" r="3.5" fill="#eeeeee"/>
<circle cx="305" cy="3552" r="3.5" fill="#eeeeee"/>
<circle cx="292" cy="3541" r="3.5" fill="#eeeeee"/>
<circle cx="332" cy="3545" r="3.5" fill="#eeeeee"/>
<circle cx="390" cy="3492" r="3.5" fill="#eeeeee"/>
<circle cx="402" cy="3498" r="3.5" fill="#eeeeee"/>
<circle cx="509" cy="3406" r="3.5" fill="#eeeeee"/>
<circle cx="515" cy="3412" r="3.5" fill="#eeeeee"/>
</g>
<rect x="566" y="3787" width="322" height="130" fill="#000" filter="url(#bl2)"/>
<rect x="570.0" y="3791.0" width="318.0" height="126.0" fill="#eeeeee"/>
<rect x="585.0" y="3806.0" width="290.0" height="99.0" fill="#efebeb"/>
<text x="662.2" y="3871.0" font-size="68" fill="#000" text-anchor="start" font-weight="bold" >1µm</text>
<line x1="635" y1="3901" x2="830" y2="3901" stroke="#000" stroke-width="14" stroke-linecap="round"/>
<rect x="134" y="3256" width="756" height="664" fill="none" stroke="#f2ec00" stroke-width="4"/>
<ellipse cx="457" cy="3754" rx="55.5" ry="55" fill="none" stroke="#d41010" stroke-width="4"/>
<ellipse cx="470.6" cy="3745.6" rx="7" ry="11" fill="#f4f4f4"/>
<rect x="540.0" y="3655.0" width="82.0" height="95.5" fill="#fff"/>
<text x="575.3" y="3726.6" font-size="66" fill="#ee0000" text-anchor="middle" >E</text>
<text transform="translate(166.0,3398.0) scale(1.05,1)" font-size="167" fill="#fff" font-weight="bold">(c)</text>
<rect x="1325.6" y="3532.0" width="80.9" height="96.6" fill="#fff"/>
<text x="1363.1" y="3605.5" font-size="66" fill="#ee0000" text-anchor="middle" >C</text>
<rect x="1519.8" y="3685.7" width="82.2" height="96.1" fill="#fff"/>
<text x="1559.0" y="3757.8" font-size="66" fill="#ee0000" text-anchor="middle" >A</text>
<rect x="1158.0" y="3933.0" width="81.4" height="96.5" fill="#fff"/>
<text x="1192.5" y="4004.0" font-size="66" fill="#ee0000" text-anchor="middle" >B</text>
<rect x="1392.8" y="4330.0" width="81.4" height="96.0" fill="#fff"/>
<text x="1431.0" y="4401.8" font-size="66" fill="#ee0000" text-anchor="middle" >D</text>
<rect x="1288.7" y="3570.0" width="22.1" height="23.3" fill="#ff0000"/>
<rect x="1470.7" y="3708.0" width="21.1" height="22.7" fill="#ff0000"/>
<rect x="1106.6" y="3977.0" width="20.9" height="22.3" fill="#ff0000"/>
<rect x="1342.4" y="4413.5" width="21.2" height="23.8" fill="#ff0000"/>
<rect x="1373.5" y="3850.2" width="112.5" height="115.5" fill="none" stroke="#f5f000" stroke-width="6"/>
<rect x="135.0" y="4618.0" width="1816.0" height="92.0" fill="#000"/>
<rect x="840.0" y="4624.0" width="304.0" height="19.5" fill="#eeeeee"/>
<text transform="translate(594,4694) scale(1.128,1)" font-size="35" fill="#f0f0f0" font-family="Liberation Mono, monospace" font-weight="bold">x2,000</text>
<text transform="translate(910,4694) scale(1.128,1)" font-size="35" fill="#f0f0f0" font-family="Liberation Mono, monospace" font-weight="bold">10.0kV BED-C</text>
<text transform="translate(1296,4694) scale(1.128,1)" font-size="35" fill="#f0f0f0" font-family="Liberation Mono, monospace" font-weight="bold">SEM</text>
<text transform="translate(1511,4694) scale(1.128,1)" font-size="35" fill="#f0f0f0" font-family="Liberation Mono, monospace" font-weight="bold">WD 11mm</text>
<text transform="translate(1753,4694) scale(1.128,1)" font-size="35" fill="#f0f0f0" font-family="Liberation Mono, monospace" font-weight="bold">15:52:31</text>
<text transform="translate(1344,4652) scale(1.128,1)" font-size="35" fill="#f0f0f0" font-family="Liberation Mono, monospace" font-weight="bold">10µm</text>
<text transform="translate(1488,4652) scale(1.128,1)" font-size="35" fill="#f0f0f0" font-family="Liberation Mono, monospace" font-weight="bold">JSM7800F</text>
<text transform="translate(1705,4652) scale(1.128,1)" font-size="35" fill="#f0f0f0" font-family="Liberation Mono, monospace" font-weight="bold">4/12/2023</text>
</svg></body></html>
